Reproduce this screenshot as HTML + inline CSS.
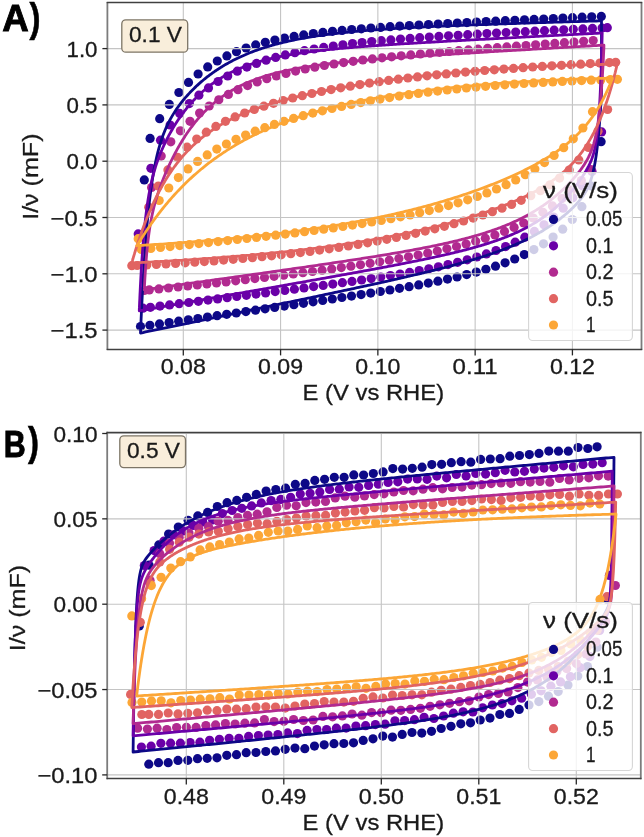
<!DOCTYPE html>
<html><head><meta charset="utf-8"><style>
html,body{margin:0;padding:0;background:#fff;}
svg{display:block;}
#w{will-change:transform;width:644px;height:837px;}
text{font-family:"Liberation Sans", sans-serif;}
.t{stroke:#1a1a1a;stroke-width:0.3;}
</style></head><body><div id="w">
<svg width="644" height="837" viewBox="0 0 644 837">
<rect x="107.4" y="2.6" width="534.1" height="346.79999999999995" fill="#fff"/>
<g fill="#0d0887"><circle cx="150.1" cy="138.4" r="4.6"/><circle cx="159.7" cy="118.7" r="4.6"/><circle cx="169.3" cy="104.4" r="4.6"/><circle cx="178.9" cy="92.5" r="4.6"/><circle cx="188.5" cy="82.4" r="4.6"/><circle cx="198.1" cy="74.0" r="4.6"/><circle cx="207.7" cy="66.9" r="4.6"/><circle cx="217.3" cy="61.0" r="4.6"/><circle cx="226.9" cy="55.9" r="4.6"/><circle cx="236.5" cy="51.7" r="4.6"/><circle cx="246.1" cy="48.0" r="4.6"/><circle cx="255.7" cy="44.9" r="4.6"/><circle cx="265.3" cy="42.3" r="4.6"/><circle cx="274.9" cy="40.0" r="4.6"/><circle cx="284.5" cy="38.1" r="4.6"/><circle cx="294.1" cy="36.4" r="4.6"/><circle cx="303.7" cy="34.9" r="4.6"/><circle cx="313.3" cy="33.5" r="4.6"/><circle cx="322.9" cy="32.4" r="4.6"/><circle cx="332.5" cy="31.3" r="4.6"/><circle cx="342.1" cy="30.4" r="4.6"/><circle cx="351.7" cy="29.5" r="4.6"/><circle cx="361.3" cy="28.8" r="4.6"/><circle cx="370.9" cy="28.0" r="4.6"/><circle cx="380.5" cy="27.4" r="4.6"/><circle cx="390.1" cy="26.7" r="4.6"/><circle cx="399.7" cy="26.1" r="4.6"/><circle cx="409.3" cy="25.6" r="4.6"/><circle cx="418.9" cy="25.0" r="4.6"/><circle cx="428.5" cy="24.5" r="4.6"/><circle cx="438.1" cy="24.0" r="4.6"/><circle cx="447.7" cy="23.5" r="4.6"/><circle cx="457.3" cy="23.0" r="4.6"/><circle cx="466.9" cy="22.6" r="4.6"/><circle cx="476.5" cy="22.1" r="4.6"/><circle cx="486.1" cy="21.6" r="4.6"/><circle cx="495.7" cy="21.2" r="4.6"/><circle cx="505.3" cy="20.7" r="4.6"/><circle cx="514.9" cy="20.3" r="4.6"/><circle cx="524.5" cy="19.8" r="4.6"/><circle cx="534.1" cy="19.4" r="4.6"/><circle cx="543.7" cy="19.0" r="4.6"/><circle cx="553.3" cy="18.5" r="4.6"/><circle cx="562.9" cy="18.1" r="4.6"/><circle cx="572.5" cy="17.7" r="4.6"/><circle cx="582.1" cy="17.2" r="4.6"/><circle cx="591.7" cy="16.8" r="4.6"/><circle cx="601.3" cy="16.4" r="4.6"/><circle cx="144.3" cy="179.9" r="4.6"/></g>
<g fill="#0d0887"><circle cx="601.1" cy="141.7" r="4.6"/><circle cx="591.5" cy="186.0" r="4.6"/><circle cx="581.9" cy="206.7" r="4.6"/><circle cx="572.3" cy="219.5" r="4.6"/><circle cx="562.7" cy="229.2" r="4.6"/><circle cx="553.1" cy="237.1" r="4.6"/><circle cx="543.5" cy="243.8" r="4.6"/><circle cx="533.9" cy="249.6" r="4.6"/><circle cx="524.3" cy="254.6" r="4.6"/><circle cx="514.7" cy="259.0" r="4.6"/><circle cx="505.1" cy="262.8" r="4.6"/><circle cx="495.5" cy="266.2" r="4.6"/><circle cx="485.9" cy="269.3" r="4.6"/><circle cx="476.3" cy="272.1" r="4.6"/><circle cx="466.7" cy="274.6" r="4.6"/><circle cx="457.1" cy="277.0" r="4.6"/><circle cx="447.5" cy="279.1" r="4.6"/><circle cx="437.9" cy="281.2" r="4.6"/><circle cx="428.3" cy="283.1" r="4.6"/><circle cx="418.7" cy="284.9" r="4.6"/><circle cx="409.1" cy="286.7" r="4.6"/><circle cx="399.5" cy="288.3" r="4.6"/><circle cx="389.9" cy="290.0" r="4.6"/><circle cx="380.3" cy="291.5" r="4.6"/><circle cx="370.7" cy="293.1" r="4.6"/><circle cx="361.1" cy="294.6" r="4.6"/><circle cx="351.5" cy="296.1" r="4.6"/><circle cx="341.9" cy="297.5" r="4.6"/><circle cx="332.3" cy="299.0" r="4.6"/><circle cx="322.7" cy="300.4" r="4.6"/><circle cx="313.1" cy="301.8" r="4.6"/><circle cx="303.5" cy="303.3" r="4.6"/><circle cx="293.9" cy="304.7" r="4.6"/><circle cx="284.3" cy="306.1" r="4.6"/><circle cx="274.7" cy="307.4" r="4.6"/><circle cx="265.1" cy="308.8" r="4.6"/><circle cx="255.5" cy="310.2" r="4.6"/><circle cx="245.9" cy="311.6" r="4.6"/><circle cx="236.3" cy="313.0" r="4.6"/><circle cx="226.7" cy="314.3" r="4.6"/><circle cx="217.1" cy="315.7" r="4.6"/><circle cx="207.5" cy="317.1" r="4.6"/><circle cx="197.9" cy="318.5" r="4.6"/><circle cx="188.3" cy="319.8" r="4.6"/><circle cx="178.7" cy="321.2" r="4.6"/><circle cx="169.1" cy="322.6" r="4.6"/><circle cx="159.5" cy="323.9" r="4.6"/><circle cx="149.9" cy="325.3" r="4.6"/><circle cx="140.5" cy="326.6" r="4.6"/></g>
<g fill="#6a00a8"><circle cx="150.9" cy="168.3" r="4.6"/><circle cx="160.5" cy="140.2" r="4.6"/><circle cx="170.1" cy="125.0" r="4.6"/><circle cx="179.7" cy="113.4" r="4.6"/><circle cx="189.3" cy="103.6" r="4.6"/><circle cx="198.9" cy="95.2" r="4.6"/><circle cx="208.5" cy="87.9" r="4.6"/><circle cx="218.1" cy="81.5" r="4.6"/><circle cx="227.7" cy="76.0" r="4.6"/><circle cx="237.3" cy="71.2" r="4.6"/><circle cx="246.9" cy="67.1" r="4.6"/><circle cx="256.5" cy="63.4" r="4.6"/><circle cx="266.1" cy="60.2" r="4.6"/><circle cx="275.7" cy="57.4" r="4.6"/><circle cx="285.3" cy="54.9" r="4.6"/><circle cx="294.9" cy="52.7" r="4.6"/><circle cx="304.5" cy="50.7" r="4.6"/><circle cx="314.1" cy="49.0" r="4.6"/><circle cx="323.7" cy="47.4" r="4.6"/><circle cx="333.3" cy="46.0" r="4.6"/><circle cx="342.9" cy="44.8" r="4.6"/><circle cx="352.5" cy="43.6" r="4.6"/><circle cx="362.1" cy="42.6" r="4.6"/><circle cx="371.7" cy="41.6" r="4.6"/><circle cx="381.3" cy="40.7" r="4.6"/><circle cx="390.9" cy="39.9" r="4.6"/><circle cx="400.5" cy="39.1" r="4.6"/><circle cx="410.1" cy="38.4" r="4.6"/><circle cx="419.7" cy="37.7" r="4.6"/><circle cx="429.3" cy="37.0" r="4.6"/><circle cx="438.9" cy="36.4" r="4.6"/><circle cx="448.5" cy="35.8" r="4.6"/><circle cx="458.1" cy="35.3" r="4.6"/><circle cx="467.7" cy="34.7" r="4.6"/><circle cx="477.3" cy="34.2" r="4.6"/><circle cx="486.9" cy="33.6" r="4.6"/><circle cx="496.5" cy="33.1" r="4.6"/><circle cx="506.1" cy="32.6" r="4.6"/><circle cx="515.7" cy="32.1" r="4.6"/><circle cx="525.3" cy="31.7" r="4.6"/><circle cx="534.9" cy="31.2" r="4.6"/><circle cx="544.5" cy="30.7" r="4.6"/><circle cx="554.1" cy="30.2" r="4.6"/><circle cx="563.7" cy="29.8" r="4.6"/><circle cx="573.3" cy="29.3" r="4.6"/><circle cx="582.9" cy="28.9" r="4.6"/><circle cx="592.5" cy="28.4" r="4.6"/><circle cx="602.1" cy="28.0" r="4.6"/><circle cx="607.3" cy="27.7" r="4.6"/><circle cx="138.2" cy="233.9" r="4.6"/></g>
<g fill="#6a00a8"><circle cx="601.6" cy="131.9" r="4.6"/><circle cx="592.0" cy="171.4" r="4.6"/><circle cx="582.4" cy="185.7" r="4.6"/><circle cx="572.8" cy="197.8" r="4.6"/><circle cx="563.2" cy="208.2" r="4.6"/><circle cx="553.6" cy="217.1" r="4.6"/><circle cx="544.0" cy="224.8" r="4.6"/><circle cx="534.4" cy="231.4" r="4.6"/><circle cx="524.8" cy="237.2" r="4.6"/><circle cx="515.2" cy="242.2" r="4.6"/><circle cx="505.6" cy="246.6" r="4.6"/><circle cx="496.0" cy="250.5" r="4.6"/><circle cx="486.4" cy="253.9" r="4.6"/><circle cx="476.8" cy="257.0" r="4.6"/><circle cx="467.2" cy="259.8" r="4.6"/><circle cx="457.6" cy="262.3" r="4.6"/><circle cx="448.0" cy="264.6" r="4.6"/><circle cx="438.4" cy="266.8" r="4.6"/><circle cx="428.8" cy="268.8" r="4.6"/><circle cx="419.2" cy="270.6" r="4.6"/><circle cx="409.6" cy="272.4" r="4.6"/><circle cx="400.0" cy="274.0" r="4.6"/><circle cx="390.4" cy="275.6" r="4.6"/><circle cx="380.8" cy="277.1" r="4.6"/><circle cx="371.2" cy="278.6" r="4.6"/><circle cx="361.6" cy="280.0" r="4.6"/><circle cx="352.0" cy="281.4" r="4.6"/><circle cx="342.4" cy="282.7" r="4.6"/><circle cx="332.8" cy="284.1" r="4.6"/><circle cx="323.2" cy="285.4" r="4.6"/><circle cx="313.6" cy="286.6" r="4.6"/><circle cx="304.0" cy="287.9" r="4.6"/><circle cx="294.4" cy="289.2" r="4.6"/><circle cx="284.8" cy="290.4" r="4.6"/><circle cx="275.2" cy="291.6" r="4.6"/><circle cx="265.6" cy="292.9" r="4.6"/><circle cx="256.0" cy="294.1" r="4.6"/><circle cx="246.4" cy="295.3" r="4.6"/><circle cx="236.8" cy="296.5" r="4.6"/><circle cx="227.2" cy="297.7" r="4.6"/><circle cx="217.6" cy="298.9" r="4.6"/><circle cx="208.0" cy="300.1" r="4.6"/><circle cx="198.4" cy="301.3" r="4.6"/><circle cx="188.8" cy="302.5" r="4.6"/><circle cx="179.2" cy="303.7" r="4.6"/><circle cx="169.6" cy="304.9" r="4.6"/><circle cx="160.0" cy="306.1" r="4.6"/><circle cx="150.4" cy="307.3" r="4.6"/><circle cx="143.0" cy="308.2" r="4.6"/></g>
<g fill="#b12a90"><circle cx="151.6" cy="187.5" r="4.6"/><circle cx="161.2" cy="156.1" r="4.6"/><circle cx="170.8" cy="141.8" r="4.6"/><circle cx="180.4" cy="130.8" r="4.6"/><circle cx="190.0" cy="121.3" r="4.6"/><circle cx="199.6" cy="113.1" r="4.6"/><circle cx="209.2" cy="106.0" r="4.6"/><circle cx="218.8" cy="99.8" r="4.6"/><circle cx="228.4" cy="94.4" r="4.6"/><circle cx="238.0" cy="89.7" r="4.6"/><circle cx="247.6" cy="85.6" r="4.6"/><circle cx="257.2" cy="81.9" r="4.6"/><circle cx="266.8" cy="78.7" r="4.6"/><circle cx="276.4" cy="75.9" r="4.6"/><circle cx="286.0" cy="73.4" r="4.6"/><circle cx="295.6" cy="71.1" r="4.6"/><circle cx="305.2" cy="69.0" r="4.6"/><circle cx="314.8" cy="67.2" r="4.6"/><circle cx="324.4" cy="65.5" r="4.6"/><circle cx="334.0" cy="64.0" r="4.6"/><circle cx="343.6" cy="62.6" r="4.6"/><circle cx="353.2" cy="61.3" r="4.6"/><circle cx="362.8" cy="60.0" r="4.6"/><circle cx="372.4" cy="58.9" r="4.6"/><circle cx="382.0" cy="57.8" r="4.6"/><circle cx="391.6" cy="56.8" r="4.6"/><circle cx="401.2" cy="55.8" r="4.6"/><circle cx="410.8" cy="54.9" r="4.6"/><circle cx="420.4" cy="54.0" r="4.6"/><circle cx="430.0" cy="53.2" r="4.6"/><circle cx="439.6" cy="52.3" r="4.6"/><circle cx="449.2" cy="51.5" r="4.6"/><circle cx="458.8" cy="50.7" r="4.6"/><circle cx="468.4" cy="49.9" r="4.6"/><circle cx="478.0" cy="49.2" r="4.6"/><circle cx="487.6" cy="48.4" r="4.6"/><circle cx="497.2" cy="47.7" r="4.6"/><circle cx="506.8" cy="46.9" r="4.6"/><circle cx="516.4" cy="46.2" r="4.6"/><circle cx="526.0" cy="45.5" r="4.6"/><circle cx="535.6" cy="44.8" r="4.6"/><circle cx="545.2" cy="44.1" r="4.6"/><circle cx="554.8" cy="43.4" r="4.6"/><circle cx="564.4" cy="42.7" r="4.6"/><circle cx="574.0" cy="42.0" r="4.6"/><circle cx="583.6" cy="41.3" r="4.6"/><circle cx="593.2" cy="40.6" r="4.6"/></g>
<g fill="#b12a90"><circle cx="590.9" cy="169.5" r="4.6"/><circle cx="581.3" cy="180.6" r="4.6"/><circle cx="571.7" cy="190.2" r="4.6"/><circle cx="562.1" cy="198.6" r="4.6"/><circle cx="552.5" cy="205.9" r="4.6"/><circle cx="542.9" cy="212.3" r="4.6"/><circle cx="533.3" cy="218.0" r="4.6"/><circle cx="523.7" cy="223.0" r="4.6"/><circle cx="514.1" cy="227.4" r="4.6"/><circle cx="504.5" cy="231.4" r="4.6"/><circle cx="494.9" cy="235.0" r="4.6"/><circle cx="485.3" cy="238.3" r="4.6"/><circle cx="475.7" cy="241.3" r="4.6"/><circle cx="466.1" cy="244.0" r="4.6"/><circle cx="456.5" cy="246.5" r="4.6"/><circle cx="446.9" cy="248.8" r="4.6"/><circle cx="437.3" cy="251.0" r="4.6"/><circle cx="427.7" cy="253.1" r="4.6"/><circle cx="418.1" cy="255.0" r="4.6"/><circle cx="408.5" cy="256.8" r="4.6"/><circle cx="398.9" cy="258.5" r="4.6"/><circle cx="389.3" cy="260.2" r="4.6"/><circle cx="379.7" cy="261.8" r="4.6"/><circle cx="370.1" cy="263.3" r="4.6"/><circle cx="360.5" cy="264.8" r="4.6"/><circle cx="350.9" cy="266.2" r="4.6"/><circle cx="341.3" cy="267.6" r="4.6"/><circle cx="331.7" cy="268.9" r="4.6"/><circle cx="322.1" cy="270.2" r="4.6"/><circle cx="312.5" cy="271.5" r="4.6"/><circle cx="302.9" cy="272.7" r="4.6"/><circle cx="293.3" cy="274.0" r="4.6"/><circle cx="283.7" cy="275.2" r="4.6"/><circle cx="274.1" cy="276.3" r="4.6"/><circle cx="264.5" cy="277.5" r="4.6"/><circle cx="254.9" cy="278.6" r="4.6"/><circle cx="245.3" cy="279.7" r="4.6"/><circle cx="235.7" cy="280.8" r="4.6"/><circle cx="226.1" cy="281.9" r="4.6"/><circle cx="216.5" cy="282.9" r="4.6"/><circle cx="206.9" cy="284.0" r="4.6"/><circle cx="197.3" cy="285.0" r="4.6"/><circle cx="187.7" cy="286.0" r="4.6"/><circle cx="178.1" cy="287.0" r="4.6"/><circle cx="168.5" cy="288.0" r="4.6"/><circle cx="158.9" cy="288.9" r="4.6"/><circle cx="149.3" cy="289.9" r="4.6"/><circle cx="144.3" cy="290.4" r="4.6"/></g>
<g fill="#e16462"><circle cx="148.7" cy="207.2" r="4.6"/><circle cx="158.3" cy="186.1" r="4.6"/><circle cx="167.9" cy="169.9" r="4.6"/><circle cx="177.5" cy="157.3" r="4.6"/><circle cx="187.1" cy="147.2" r="4.6"/><circle cx="196.7" cy="139.0" r="4.6"/><circle cx="206.3" cy="132.2" r="4.6"/><circle cx="215.9" cy="126.4" r="4.6"/><circle cx="225.5" cy="121.3" r="4.6"/><circle cx="235.1" cy="116.9" r="4.6"/><circle cx="244.7" cy="113.0" r="4.6"/><circle cx="254.3" cy="109.4" r="4.6"/><circle cx="263.9" cy="106.2" r="4.6"/><circle cx="273.5" cy="103.3" r="4.6"/><circle cx="283.1" cy="100.5" r="4.6"/><circle cx="292.7" cy="98.0" r="4.6"/><circle cx="302.3" cy="95.7" r="4.6"/><circle cx="311.9" cy="93.5" r="4.6"/><circle cx="321.5" cy="91.5" r="4.6"/><circle cx="331.1" cy="89.6" r="4.6"/><circle cx="340.7" cy="87.8" r="4.6"/><circle cx="350.3" cy="86.2" r="4.6"/><circle cx="359.9" cy="84.6" r="4.6"/><circle cx="369.5" cy="83.1" r="4.6"/><circle cx="379.1" cy="81.7" r="4.6"/><circle cx="388.7" cy="80.4" r="4.6"/><circle cx="398.3" cy="79.2" r="4.6"/><circle cx="407.9" cy="78.0" r="4.6"/><circle cx="417.5" cy="76.9" r="4.6"/><circle cx="427.1" cy="75.8" r="4.6"/><circle cx="436.7" cy="74.8" r="4.6"/><circle cx="446.3" cy="73.9" r="4.6"/><circle cx="455.9" cy="73.0" r="4.6"/><circle cx="465.5" cy="72.1" r="4.6"/><circle cx="475.1" cy="71.3" r="4.6"/><circle cx="484.7" cy="70.5" r="4.6"/><circle cx="494.3" cy="69.8" r="4.6"/><circle cx="503.9" cy="69.1" r="4.6"/><circle cx="513.5" cy="68.4" r="4.6"/><circle cx="523.1" cy="67.7" r="4.6"/><circle cx="532.7" cy="67.0" r="4.6"/><circle cx="542.3" cy="66.4" r="4.6"/><circle cx="551.9" cy="65.8" r="4.6"/><circle cx="561.5" cy="65.3" r="4.6"/><circle cx="571.1" cy="64.7" r="4.6"/><circle cx="580.7" cy="64.2" r="4.6"/><circle cx="590.3" cy="63.6" r="4.6"/><circle cx="599.9" cy="63.1" r="4.6"/><circle cx="609.5" cy="62.6" r="4.6"/><circle cx="615.7" cy="62.3" r="4.6"/></g>
<g fill="#e16462"><circle cx="607.6" cy="109.5" r="4.6"/><circle cx="598.0" cy="131.2" r="4.6"/><circle cx="588.4" cy="147.5" r="4.6"/><circle cx="578.8" cy="160.0" r="4.6"/><circle cx="569.2" cy="170.0" r="4.6"/><circle cx="559.6" cy="178.1" r="4.6"/><circle cx="550.0" cy="184.8" r="4.6"/><circle cx="540.4" cy="190.7" r="4.6"/><circle cx="530.8" cy="195.7" r="4.6"/><circle cx="521.2" cy="200.3" r="4.6"/><circle cx="511.6" cy="204.4" r="4.6"/><circle cx="502.0" cy="208.2" r="4.6"/><circle cx="492.4" cy="211.7" r="4.6"/><circle cx="482.8" cy="215.0" r="4.6"/><circle cx="473.2" cy="218.1" r="4.6"/><circle cx="463.6" cy="221.0" r="4.6"/><circle cx="454.0" cy="223.7" r="4.6"/><circle cx="444.4" cy="226.3" r="4.6"/><circle cx="434.8" cy="228.8" r="4.6"/><circle cx="425.2" cy="231.1" r="4.6"/><circle cx="415.6" cy="233.3" r="4.6"/><circle cx="406.0" cy="235.4" r="4.6"/><circle cx="396.4" cy="237.4" r="4.6"/><circle cx="386.8" cy="239.3" r="4.6"/><circle cx="377.2" cy="241.1" r="4.6"/><circle cx="367.6" cy="242.8" r="4.6"/><circle cx="358.0" cy="244.4" r="4.6"/><circle cx="348.4" cy="246.0" r="4.6"/><circle cx="338.8" cy="247.4" r="4.6"/><circle cx="329.2" cy="248.8" r="4.6"/><circle cx="319.6" cy="250.1" r="4.6"/><circle cx="310.0" cy="251.4" r="4.6"/><circle cx="300.4" cy="252.6" r="4.6"/><circle cx="290.8" cy="253.7" r="4.6"/><circle cx="281.2" cy="254.8" r="4.6"/><circle cx="271.6" cy="255.8" r="4.6"/><circle cx="262.0" cy="256.7" r="4.6"/><circle cx="252.4" cy="257.7" r="4.6"/><circle cx="242.8" cy="258.5" r="4.6"/><circle cx="233.2" cy="259.3" r="4.6"/><circle cx="223.6" cy="260.1" r="4.6"/><circle cx="214.0" cy="260.9" r="4.6"/><circle cx="204.4" cy="261.6" r="4.6"/><circle cx="194.8" cy="262.2" r="4.6"/><circle cx="185.2" cy="262.8" r="4.6"/><circle cx="175.6" cy="263.4" r="4.6"/><circle cx="166.0" cy="264.0" r="4.6"/><circle cx="156.4" cy="264.5" r="4.6"/><circle cx="146.8" cy="265.0" r="4.6"/><circle cx="137.2" cy="265.5" r="4.6"/><circle cx="131.8" cy="265.7" r="4.6"/></g>
<g fill="#fca636"><circle cx="159.2" cy="200.5" r="4.6"/><circle cx="168.8" cy="188.0" r="4.6"/><circle cx="178.4" cy="177.6" r="4.6"/><circle cx="188.0" cy="168.9" r="4.6"/><circle cx="197.6" cy="161.4" r="4.6"/><circle cx="207.2" cy="154.9" r="4.6"/><circle cx="216.8" cy="149.1" r="4.6"/><circle cx="226.4" cy="144.0" r="4.6"/><circle cx="236.0" cy="139.3" r="4.6"/><circle cx="245.6" cy="135.1" r="4.6"/><circle cx="255.2" cy="131.2" r="4.6"/><circle cx="264.8" cy="127.7" r="4.6"/><circle cx="274.4" cy="124.4" r="4.6"/><circle cx="284.0" cy="121.3" r="4.6"/><circle cx="293.6" cy="118.4" r="4.6"/><circle cx="303.2" cy="115.7" r="4.6"/><circle cx="312.8" cy="113.1" r="4.6"/><circle cx="322.4" cy="110.8" r="4.6"/><circle cx="332.0" cy="108.5" r="4.6"/><circle cx="341.6" cy="106.4" r="4.6"/><circle cx="351.2" cy="104.4" r="4.6"/><circle cx="360.8" cy="102.6" r="4.6"/><circle cx="370.4" cy="100.8" r="4.6"/><circle cx="380.0" cy="99.1" r="4.6"/><circle cx="389.6" cy="97.6" r="4.6"/><circle cx="399.2" cy="96.1" r="4.6"/><circle cx="408.8" cy="94.7" r="4.6"/><circle cx="418.4" cy="93.4" r="4.6"/><circle cx="428.0" cy="92.2" r="4.6"/><circle cx="437.6" cy="91.1" r="4.6"/><circle cx="447.2" cy="90.0" r="4.6"/><circle cx="456.8" cy="89.0" r="4.6"/><circle cx="466.4" cy="88.0" r="4.6"/><circle cx="476.0" cy="87.1" r="4.6"/><circle cx="485.6" cy="86.3" r="4.6"/><circle cx="495.2" cy="85.5" r="4.6"/><circle cx="504.8" cy="84.8" r="4.6"/><circle cx="514.4" cy="84.1" r="4.6"/><circle cx="524.0" cy="83.5" r="4.6"/><circle cx="533.6" cy="82.9" r="4.6"/><circle cx="543.2" cy="82.4" r="4.6"/><circle cx="552.8" cy="81.9" r="4.6"/><circle cx="562.4" cy="81.4" r="4.6"/><circle cx="572.0" cy="81.0" r="4.6"/><circle cx="581.6" cy="80.6" r="4.6"/><circle cx="591.2" cy="80.2" r="4.6"/><circle cx="600.8" cy="79.9" r="4.6"/><circle cx="610.4" cy="79.5" r="4.6"/><circle cx="617.4" cy="79.3" r="4.6"/><circle cx="138.2" cy="238.7" r="4.6"/></g>
<g fill="#fca636"><circle cx="592.5" cy="111.7" r="4.6"/><circle cx="582.9" cy="128.0" r="4.6"/><circle cx="573.3" cy="138.8" r="4.6"/><circle cx="563.7" cy="147.7" r="4.6"/><circle cx="554.1" cy="155.5" r="4.6"/><circle cx="544.5" cy="162.6" r="4.6"/><circle cx="534.9" cy="169.0" r="4.6"/><circle cx="525.3" cy="174.7" r="4.6"/><circle cx="515.7" cy="179.9" r="4.6"/><circle cx="506.1" cy="184.7" r="4.6"/><circle cx="496.5" cy="189.0" r="4.6"/><circle cx="486.9" cy="192.9" r="4.6"/><circle cx="477.3" cy="196.5" r="4.6"/><circle cx="467.7" cy="199.8" r="4.6"/><circle cx="458.1" cy="202.8" r="4.6"/><circle cx="448.5" cy="205.6" r="4.6"/><circle cx="438.9" cy="208.2" r="4.6"/><circle cx="429.3" cy="210.6" r="4.6"/><circle cx="419.7" cy="212.8" r="4.6"/><circle cx="410.1" cy="214.9" r="4.6"/><circle cx="400.5" cy="216.8" r="4.6"/><circle cx="390.9" cy="218.7" r="4.6"/><circle cx="381.3" cy="220.4" r="4.6"/><circle cx="371.7" cy="222.0" r="4.6"/><circle cx="362.1" cy="223.6" r="4.6"/><circle cx="352.5" cy="225.1" r="4.6"/><circle cx="342.9" cy="226.5" r="4.6"/><circle cx="333.3" cy="227.9" r="4.6"/><circle cx="323.7" cy="229.2" r="4.6"/><circle cx="314.1" cy="230.5" r="4.6"/><circle cx="304.5" cy="231.7" r="4.6"/><circle cx="294.9" cy="232.9" r="4.6"/><circle cx="285.3" cy="234.1" r="4.6"/><circle cx="275.7" cy="235.2" r="4.6"/><circle cx="266.1" cy="236.3" r="4.6"/><circle cx="256.5" cy="237.4" r="4.6"/><circle cx="246.9" cy="238.5" r="4.6"/><circle cx="237.3" cy="239.5" r="4.6"/><circle cx="227.7" cy="240.6" r="4.6"/><circle cx="218.1" cy="241.6" r="4.6"/><circle cx="208.5" cy="242.6" r="4.6"/><circle cx="198.9" cy="243.6" r="4.6"/><circle cx="189.3" cy="244.6" r="4.6"/><circle cx="179.7" cy="245.6" r="4.6"/><circle cx="170.1" cy="246.6" r="4.6"/><circle cx="160.5" cy="247.5" r="4.6"/><circle cx="150.9" cy="248.5" r="4.6"/><circle cx="141.3" cy="249.5" r="4.6"/></g>
<line x1="183.30" y1="2.6" x2="183.30" y2="349.4" stroke="#c4c4c4" stroke-width="1.1"/>
<line x1="280.58" y1="2.6" x2="280.58" y2="349.4" stroke="#c4c4c4" stroke-width="1.1"/>
<line x1="377.86" y1="2.6" x2="377.86" y2="349.4" stroke="#c4c4c4" stroke-width="1.1"/>
<line x1="475.14" y1="2.6" x2="475.14" y2="349.4" stroke="#c4c4c4" stroke-width="1.1"/>
<line x1="572.42" y1="2.6" x2="572.42" y2="349.4" stroke="#c4c4c4" stroke-width="1.1"/>
<line x1="107.4" y1="48.60" x2="641.5" y2="48.60" stroke="#c4c4c4" stroke-width="1.1"/>
<line x1="107.4" y1="104.90" x2="641.5" y2="104.90" stroke="#c4c4c4" stroke-width="1.1"/>
<line x1="107.4" y1="161.20" x2="641.5" y2="161.20" stroke="#c4c4c4" stroke-width="1.1"/>
<line x1="107.4" y1="217.50" x2="641.5" y2="217.50" stroke="#c4c4c4" stroke-width="1.1"/>
<line x1="107.4" y1="273.80" x2="641.5" y2="273.80" stroke="#c4c4c4" stroke-width="1.1"/>
<line x1="107.4" y1="330.10" x2="641.5" y2="330.10" stroke="#c4c4c4" stroke-width="1.1"/>
<path d="M140.50,332.89 L140.50,332.86 L140.50,332.79 L140.51,332.65 L140.52,332.45 L140.53,332.17 L140.55,331.82 L140.56,331.40 L140.58,330.89 L140.61,330.30 L140.64,329.64 L140.67,328.89 L140.71,328.05 L140.75,327.14 L140.79,326.14 L140.84,325.05 L140.89,323.89 L140.95,322.64 L141.00,321.30 L141.07,319.89 L141.14,318.39 L141.21,316.82 L141.29,315.17 L141.37,313.44 L141.45,311.64 L141.54,309.76 L141.63,307.82 L141.73,305.80 L141.83,303.72 L141.94,301.57 L142.05,299.36 L142.17,297.10 L142.29,294.77 L142.42,292.39 L142.55,289.96 L142.68,287.49 L142.82,284.96 L142.96,282.39 L143.11,279.79 L143.27,277.15 L143.42,274.47 L143.59,271.76 L143.76,269.03 L143.93,266.27 L144.11,263.49 L144.29,260.69 L144.48,257.88 L144.67,255.05 L144.87,252.22 L145.07,249.38 L145.28,246.53 L145.49,243.69 L145.71,240.85 L145.93,238.01 L146.16,235.18 L146.39,232.36 L146.63,229.55 L146.88,226.76 L147.12,223.98 L147.38,221.22 L147.64,218.48 L147.90,215.77 L148.17,213.08 L148.45,210.42 L148.73,207.79 L149.01,205.18 L149.30,202.61 L149.60,200.07 L149.90,197.56 L150.21,195.09 L150.52,192.65 L150.84,190.25 L151.16,187.88 L151.49,185.56 L151.82,183.27 L152.16,181.02 L152.50,178.81 L152.85,176.63 L153.21,174.50 L153.57,172.41 L153.94,170.35 L154.31,168.34 L154.69,166.36 L155.07,164.43 L155.46,162.53 L155.86,160.67 L156.26,158.85 L156.66,157.06 L157.07,155.31 L157.49,153.60 L157.91,151.92 L158.34,150.28 L158.78,148.67 L159.22,147.10 L159.66,145.55 L160.11,144.04 L160.57,142.56 L161.03,141.11 L161.50,139.69 L161.98,138.30 L162.46,136.93 L162.94,135.59 L163.43,134.28 L163.93,132.99 L164.44,131.73 L164.94,130.48 L165.46,129.27 L165.98,128.07 L166.51,126.89 L167.04,125.73 L167.58,124.60 L168.12,123.48 L168.67,122.37 L169.23,121.29 L169.79,120.22 L170.36,119.17 L170.93,118.13 L171.51,117.10 L172.10,116.09 L172.69,115.09 L173.29,114.11 L173.90,113.13 L174.51,112.17 L175.12,111.22 L175.74,110.28 L176.37,109.34 L177.01,108.42 L177.65,107.51 L178.29,106.60 L178.95,105.71 L179.61,104.82 L180.27,103.94 L180.94,103.06 L181.62,102.20 L182.30,101.34 L182.99,100.48 L183.69,99.64 L184.39,98.80 L185.10,97.96 L185.81,97.14 L186.53,96.31 L187.26,95.50 L187.99,94.69 L188.73,93.88 L189.47,93.08 L190.22,92.28 L190.98,91.49 L191.75,90.71 L192.52,89.93 L193.29,89.15 L194.07,88.38 L194.86,87.62 L195.66,86.86 L196.46,86.10 L197.27,85.35 L198.08,84.60 L198.90,83.86 L199.73,83.13 L200.56,82.40 L201.40,81.67 L202.25,80.95 L203.10,80.23 L203.96,79.52 L204.82,78.81 L205.70,78.11 L206.57,77.42 L207.46,76.72 L208.35,76.04 L209.24,75.36 L210.15,74.68 L211.06,74.01 L211.97,73.34 L212.90,72.68 L213.83,72.03 L214.76,71.38 L215.70,70.73 L216.65,70.09 L217.61,69.46 L218.57,68.83 L219.54,68.21 L220.51,67.59 L221.49,66.98 L222.48,66.37 L223.48,65.77 L224.48,65.17 L225.48,64.58 L226.50,64.00 L227.52,63.42 L228.55,62.85 L229.58,62.28 L230.62,61.72 L231.67,61.16 L232.72,60.61 L233.78,60.06 L234.85,59.52 L235.92,58.99 L237.00,58.46 L238.09,57.94 L239.18,57.42 L240.28,56.91 L241.38,56.41 L242.50,55.91 L243.62,55.41 L244.74,54.92 L245.88,54.44 L247.02,53.96 L248.16,53.49 L249.32,53.03 L250.48,52.57 L251.64,52.11 L252.82,51.66 L254.00,51.22 L255.18,50.78 L256.38,50.35 L257.58,49.92 L258.78,49.50 L260.00,49.08 L261.22,48.67 L262.45,48.26 L263.68,47.86 L264.92,47.47 L266.17,47.08 L267.42,46.69 L268.68,46.31 L269.95,45.94 L271.23,45.57 L272.51,45.20 L273.80,44.84 L275.09,44.49 L276.39,44.14 L277.70,43.80 L279.02,43.46 L280.34,43.12 L281.67,42.79 L283.01,42.47 L284.35,42.15 L285.70,41.83 L287.06,41.52 L288.42,41.21 L289.79,40.91 L291.17,40.61 L292.55,40.32 L293.95,40.03 L295.34,39.74 L296.75,39.46 L298.16,39.19 L299.58,38.91 L301.01,38.65 L302.44,38.38 L303.88,38.12 L305.33,37.87 L306.78,37.61 L308.24,37.36 L309.71,37.12 L311.18,36.88 L312.67,36.64 L314.16,36.41 L315.65,36.18 L317.15,35.95 L318.66,35.73 L320.18,35.51 L321.70,35.30 L323.24,35.08 L324.77,34.87 L326.32,34.67 L327.87,34.47 L329.43,34.27 L331.00,34.07 L332.57,33.88 L334.15,33.69 L335.74,33.50 L337.33,33.31 L338.93,33.13 L340.54,32.95 L342.16,32.78 L343.78,32.61 L345.41,32.43 L347.05,32.27 L348.69,32.10 L350.34,31.94 L352.00,31.78 L353.66,31.62 L355.34,31.46 L357.02,31.31 L358.70,31.16 L360.40,31.01 L362.10,30.87 L363.81,30.72 L365.52,30.58 L367.24,30.44 L368.97,30.30 L370.71,30.16 L372.45,30.03 L374.21,29.90 L375.96,29.77 L377.73,29.64 L379.50,29.51 L381.28,29.39 L383.07,29.26 L384.86,29.14 L386.67,29.02 L388.47,28.90 L390.29,28.79 L392.11,28.67 L393.94,28.56 L395.78,28.45 L397.63,28.33 L399.48,28.23 L401.34,28.12 L403.21,28.01 L405.08,27.90 L406.96,27.80 L408.85,27.70 L410.75,27.59 L412.65,27.49 L414.56,27.39 L416.48,27.30 L418.40,27.20 L420.33,27.10 L422.27,27.01 L424.22,26.91 L426.17,26.82 L428.14,26.72 L430.11,26.63 L432.08,26.54 L434.06,26.45 L436.06,26.36 L438.05,26.27 L440.06,26.19 L442.07,26.10 L444.09,26.01 L446.12,25.93 L448.16,25.84 L450.20,25.76 L452.25,25.67 L454.30,25.59 L456.37,25.51 L458.44,25.43 L460.52,25.35 L462.61,25.26 L464.70,25.18 L466.80,25.10 L468.91,25.02 L471.03,24.95 L473.15,24.87 L475.28,24.79 L477.42,24.71 L479.57,24.63 L481.72,24.56 L483.88,24.48 L486.05,24.40 L488.23,24.33 L490.41,24.25 L492.60,24.18 L494.80,24.10 L497.00,24.03 L499.22,23.95 L501.44,23.88 L503.66,23.80 L505.90,23.73 L508.14,23.66 L510.39,23.58 L512.65,23.51 L514.92,23.44 L517.19,23.36 L519.47,23.29 L521.76,23.22 L524.05,23.15 L526.36,23.07 L528.67,23.00 L530.98,22.93 L533.31,22.86 L535.64,22.78 L537.98,22.71 L540.33,22.64 L542.69,22.57 L545.05,22.49 L547.42,22.42 L549.80,22.35 L552.19,22.28 L554.58,22.21 L556.98,22.13 L559.39,22.06 L561.81,21.99 L564.23,21.92 L566.66,21.85 L569.10,21.77 L571.55,21.70 L574.00,21.63 L576.46,21.56 L578.93,21.49 L581.41,21.41 L583.89,21.34 L586.39,21.27 L588.89,21.20 L591.39,21.12 L593.91,21.05 L596.43,20.98 L598.96,20.91 L601.50,20.83 L601.50,21.90 L601.60,90.32 L601.60,90.34 L601.60,90.40 L601.59,90.51 L601.58,90.68 L601.57,90.90 L601.55,91.19 L601.54,91.54 L601.52,91.95 L601.49,92.43 L601.46,92.98 L601.43,93.59 L601.39,94.26 L601.35,95.00 L601.31,95.81 L601.26,96.68 L601.21,97.61 L601.15,98.60 L601.10,99.66 L601.03,100.77 L600.96,101.94 L600.89,103.17 L600.81,104.45 L600.73,105.78 L600.65,107.16 L600.56,108.58 L600.47,110.05 L600.37,111.56 L600.27,113.10 L600.16,114.69 L600.05,116.30 L599.93,117.94 L599.81,119.61 L599.68,121.30 L599.55,123.00 L599.42,124.73 L599.28,126.47 L599.14,128.22 L598.99,129.98 L598.83,131.74 L598.67,133.50 L598.51,135.26 L598.34,137.02 L598.17,138.78 L597.99,140.52 L597.81,142.25 L597.62,143.97 L597.43,145.67 L597.23,147.36 L597.03,149.03 L596.82,150.67 L596.61,152.29 L596.39,153.89 L596.17,155.46 L595.94,157.01 L595.71,158.53 L595.47,160.02 L595.22,161.48 L594.97,162.91 L594.72,164.31 L594.46,165.68 L594.20,167.01 L593.93,168.32 L593.65,169.60 L593.37,170.84 L593.09,172.05 L592.80,173.24 L592.50,174.39 L592.20,175.51 L591.89,176.60 L591.58,177.67 L591.26,178.71 L590.94,179.72 L590.61,180.70 L590.28,181.65 L589.94,182.59 L589.59,183.49 L589.24,184.38 L588.89,185.24 L588.53,186.08 L588.16,186.90 L587.79,187.71 L587.41,188.49 L587.02,189.25 L586.64,190.00 L586.24,190.74 L585.84,191.45 L585.43,192.16 L585.02,192.85 L584.61,193.53 L584.18,194.20 L583.75,194.85 L583.32,195.50 L582.88,196.13 L582.43,196.76 L581.98,197.38 L581.53,198.00 L581.06,198.60 L580.59,199.20 L580.12,199.80 L579.64,200.38 L579.15,200.97 L578.66,201.55 L578.16,202.12 L577.66,202.69 L577.15,203.26 L576.64,203.83 L576.11,204.39 L575.59,204.95 L575.05,205.51 L574.52,206.06 L573.97,206.62 L573.42,207.17 L572.86,207.72 L572.30,208.27 L571.73,208.82 L571.16,209.36 L570.58,209.91 L569.99,210.46 L569.40,211.00 L568.80,211.54 L568.20,212.08 L567.59,212.63 L566.97,213.17 L566.35,213.71 L565.72,214.25 L565.09,214.78 L564.44,215.32 L563.80,215.86 L563.15,216.39 L562.49,216.93 L561.82,217.46 L561.15,218.00 L560.47,218.53 L559.79,219.06 L559.10,219.59 L558.40,220.12 L557.70,220.65 L556.99,221.18 L556.28,221.70 L555.56,222.23 L554.83,222.75 L554.10,223.27 L553.36,223.79 L552.62,224.31 L551.86,224.83 L551.11,225.35 L550.34,225.86 L549.57,226.38 L548.80,226.89 L548.01,227.40 L547.22,227.91 L546.43,228.42 L545.63,228.92 L544.82,229.43 L544.01,229.93 L543.18,230.43 L542.36,230.93 L541.52,231.43 L540.68,231.92 L539.84,232.41 L538.99,232.91 L538.13,233.39 L537.26,233.88 L536.39,234.37 L535.51,234.85 L534.63,235.33 L533.74,235.81 L532.84,236.29 L531.94,236.76 L531.03,237.24 L530.11,237.71 L529.19,238.18 L528.26,238.64 L527.32,239.11 L526.38,239.57 L525.43,240.03 L524.47,240.49 L523.51,240.95 L522.54,241.40 L521.57,241.86 L520.59,242.31 L519.60,242.76 L518.61,243.20 L517.60,243.65 L516.60,244.09 L515.58,244.53 L514.56,244.97 L513.54,245.40 L512.50,245.84 L511.46,246.27 L510.41,246.70 L509.36,247.13 L508.30,247.56 L507.23,247.98 L506.16,248.40 L505.08,248.82 L503.99,249.24 L502.90,249.66 L501.80,250.08 L500.69,250.49 L499.58,250.90 L498.46,251.31 L497.33,251.72 L496.20,252.13 L495.06,252.53 L493.91,252.94 L492.76,253.34 L491.60,253.74 L490.43,254.14 L489.26,254.53 L488.08,254.93 L486.89,255.32 L485.70,255.72 L484.50,256.11 L483.29,256.50 L482.08,256.89 L480.86,257.28 L479.63,257.66 L478.39,258.05 L477.15,258.43 L475.91,258.81 L474.65,259.20 L473.39,259.58 L472.12,259.96 L470.85,260.33 L469.56,260.71 L468.27,261.09 L466.98,261.46 L465.68,261.84 L464.37,262.21 L463.05,262.58 L461.73,262.96 L460.40,263.33 L459.06,263.70 L457.72,264.07 L456.37,264.44 L455.01,264.81 L453.65,265.18 L452.28,265.54 L450.90,265.91 L449.51,266.28 L448.12,266.64 L446.72,267.01 L445.32,267.37 L443.90,267.74 L442.48,268.10 L441.06,268.47 L439.62,268.83 L438.18,269.20 L436.74,269.56 L435.28,269.92 L433.82,270.29 L432.35,270.65 L430.88,271.01 L429.40,271.38 L427.91,271.74 L426.41,272.10 L424.91,272.47 L423.40,272.83 L421.88,273.19 L420.36,273.56 L418.82,273.92 L417.29,274.29 L415.74,274.65 L414.19,275.01 L412.63,275.38 L411.06,275.74 L409.49,276.11 L407.91,276.48 L406.32,276.84 L404.73,277.21 L403.12,277.58 L401.52,277.94 L399.90,278.31 L398.28,278.68 L396.65,279.05 L395.01,279.42 L393.37,279.79 L391.71,280.16 L390.06,280.53 L388.39,280.90 L386.72,281.28 L385.04,281.65 L383.35,282.02 L381.66,282.40 L379.95,282.77 L378.25,283.15 L376.53,283.53 L374.81,283.91 L373.08,284.28 L371.34,284.66 L369.60,285.04 L367.84,285.43 L366.08,285.81 L364.32,286.19 L362.55,286.58 L360.77,286.96 L358.98,287.35 L357.18,287.73 L355.38,288.12 L353.57,288.51 L351.76,288.90 L349.93,289.29 L348.10,289.68 L346.26,290.08 L344.42,290.47 L342.56,290.87 L340.70,291.26 L338.84,291.66 L336.96,292.06 L335.08,292.46 L333.19,292.86 L331.30,293.26 L329.39,293.67 L327.48,294.07 L325.56,294.48 L323.64,294.89 L321.71,295.29 L319.77,295.70 L317.82,296.11 L315.86,296.53 L313.90,296.94 L311.93,297.35 L309.96,297.77 L307.97,298.19 L305.98,298.61 L303.98,299.03 L301.98,299.45 L299.96,299.87 L297.94,300.29 L295.91,300.72 L293.88,301.14 L291.84,301.57 L289.79,302.00 L287.73,302.43 L285.66,302.86 L283.59,303.30 L281.51,303.73 L279.42,304.17 L277.33,304.61 L275.23,305.04 L273.12,305.48 L271.00,305.93 L268.88,306.37 L266.75,306.81 L264.61,307.26 L262.46,307.71 L260.31,308.16 L258.14,308.61 L255.98,309.06 L253.80,309.51 L251.62,309.97 L249.42,310.42 L247.23,310.88 L245.02,311.34 L242.81,311.80 L240.59,312.26 L238.36,312.72 L236.12,313.19 L233.88,313.66 L231.63,314.12 L229.37,314.59 L227.10,315.06 L224.83,315.54 L222.55,316.01 L220.26,316.49 L217.96,316.96 L215.66,317.44 L213.35,317.92 L211.03,318.40 L208.70,318.89 L206.37,319.37 L204.03,319.86 L201.68,320.34 L199.32,320.83 L196.96,321.32 L194.59,321.82 L192.21,322.31 L189.82,322.80 L187.43,323.30 L185.03,323.80 L182.62,324.30 L180.20,324.80 L177.78,325.30 L175.35,325.81 L172.91,326.31 L170.46,326.82 L168.00,327.33 L165.54,327.84 L163.07,328.35 L160.59,328.87 L158.11,329.38 L155.62,329.90 L153.12,330.42 L150.61,330.94 L148.09,331.46 L145.57,331.98 L143.04,332.51 L140.50,333.03 Z" fill="none" stroke="#0d0887" stroke-width="2.8" stroke-linejoin="round"/>
<path d="M139.30,309.63 L139.30,309.61 L139.30,309.54 L139.31,309.40 L139.32,309.19 L139.33,308.92 L139.35,308.57 L139.36,308.14 L139.39,307.64 L139.41,307.06 L139.44,306.39 L139.47,305.65 L139.51,304.82 L139.55,303.92 L139.59,302.93 L139.64,301.87 L139.69,300.72 L139.75,299.50 L139.81,298.20 L139.87,296.83 L139.94,295.38 L140.01,293.86 L140.09,292.28 L140.17,290.63 L140.25,288.91 L140.34,287.14 L140.44,285.30 L140.54,283.41 L140.64,281.47 L140.75,279.48 L140.86,277.44 L140.98,275.36 L141.10,273.24 L141.22,271.09 L141.35,268.90 L141.49,266.69 L141.63,264.45 L141.77,262.18 L141.92,259.90 L142.08,257.60 L142.24,255.29 L142.40,252.98 L142.57,250.65 L142.74,248.32 L142.92,246.00 L143.11,243.67 L143.29,241.36 L143.49,239.05 L143.69,236.75 L143.89,234.46 L144.10,232.19 L144.31,229.94 L144.53,227.70 L144.75,225.49 L144.98,223.30 L145.22,221.14 L145.46,219.00 L145.70,216.88 L145.95,214.80 L146.21,212.74 L146.47,210.71 L146.73,208.72 L147.00,206.75 L147.28,204.81 L147.56,202.91 L147.85,201.04 L148.14,199.19 L148.44,197.38 L148.74,195.60 L149.05,193.85 L149.36,192.13 L149.68,190.45 L150.00,188.79 L150.33,187.16 L150.67,185.55 L151.01,183.98 L151.35,182.43 L151.71,180.91 L152.06,179.41 L152.43,177.94 L152.79,176.49 L153.17,175.06 L153.55,173.66 L153.93,172.27 L154.32,170.91 L154.72,169.56 L155.12,168.24 L155.53,166.93 L155.94,165.63 L156.36,164.36 L156.79,163.09 L157.22,161.84 L157.65,160.61 L158.09,159.39 L158.54,158.18 L158.99,156.98 L159.45,155.79 L159.92,154.61 L160.39,153.44 L160.86,152.28 L161.35,151.13 L161.83,149.99 L162.33,148.86 L162.83,147.73 L163.33,146.61 L163.85,145.49 L164.36,144.38 L164.89,143.28 L165.41,142.19 L165.95,141.10 L166.49,140.01 L167.04,138.93 L167.59,137.86 L168.15,136.79 L168.71,135.72 L169.28,134.66 L169.86,133.61 L170.44,132.56 L171.03,131.51 L171.63,130.47 L172.23,129.43 L172.83,128.40 L173.45,127.37 L174.06,126.35 L174.69,125.34 L175.32,124.32 L175.96,123.32 L176.60,122.31 L177.25,121.32 L177.91,120.33 L178.57,119.34 L179.23,118.36 L179.91,117.38 L180.59,116.41 L181.27,115.45 L181.97,114.49 L182.66,113.54 L183.37,112.59 L184.08,111.65 L184.80,110.72 L185.52,109.79 L186.25,108.87 L186.98,107.96 L187.73,107.05 L188.47,106.15 L189.23,105.26 L189.99,104.37 L190.76,103.49 L191.53,102.62 L192.31,101.75 L193.10,100.89 L193.89,100.04 L194.69,99.20 L195.49,98.37 L196.30,97.54 L197.12,96.72 L197.94,95.91 L198.77,95.10 L199.61,94.30 L200.45,93.52 L201.30,92.74 L202.16,91.96 L203.02,91.20 L203.89,90.44 L204.76,89.69 L205.65,88.95 L206.53,88.22 L207.43,87.50 L208.33,86.78 L209.24,86.07 L210.15,85.37 L211.07,84.68 L212.00,84.00 L212.93,83.32 L213.87,82.66 L214.81,82.00 L215.77,81.35 L216.73,80.71 L217.69,80.07 L218.66,79.45 L219.64,78.83 L220.63,78.22 L221.62,77.62 L222.62,77.03 L223.62,76.44 L224.63,75.87 L225.65,75.30 L226.68,74.74 L227.71,74.18 L228.75,73.64 L229.79,73.10 L230.84,72.57 L231.90,72.05 L232.96,71.54 L234.04,71.03 L235.11,70.53 L236.20,70.04 L237.29,69.55 L238.39,69.08 L239.49,68.61 L240.60,68.14 L241.72,67.69 L242.84,67.24 L243.97,66.80 L245.11,66.36 L246.26,65.94 L247.41,65.51 L248.57,65.10 L249.73,64.69 L250.90,64.29 L252.08,63.90 L253.26,63.51 L254.46,63.13 L255.65,62.75 L256.86,62.38 L258.07,62.02 L259.29,61.66 L260.52,61.31 L261.75,60.96 L262.99,60.62 L264.23,60.29 L265.49,59.96 L266.75,59.64 L268.01,59.32 L269.28,59.01 L270.56,58.70 L271.85,58.40 L273.15,58.10 L274.45,57.81 L275.75,57.52 L277.07,57.24 L278.39,56.96 L279.72,56.69 L281.05,56.42 L282.39,56.15 L283.74,55.89 L285.10,55.64 L286.46,55.38 L287.83,55.14 L289.21,54.89 L290.59,54.65 L291.98,54.42 L293.38,54.19 L294.78,53.96 L296.19,53.73 L297.61,53.51 L299.04,53.30 L300.47,53.08 L301.91,52.87 L303.35,52.66 L304.81,52.46 L306.27,52.26 L307.73,52.06 L309.21,51.87 L310.69,51.67 L312.18,51.48 L313.67,51.30 L315.17,51.11 L316.68,50.93 L318.20,50.75 L319.72,50.58 L321.25,50.40 L322.79,50.23 L324.33,50.06 L325.88,49.90 L327.44,49.73 L329.01,49.57 L330.58,49.41 L332.16,49.25 L333.75,49.09 L335.34,48.94 L336.94,48.78 L338.55,48.63 L340.17,48.48 L341.79,48.33 L343.42,48.19 L345.05,48.04 L346.70,47.90 L348.35,47.76 L350.01,47.62 L351.67,47.48 L353.34,47.34 L355.02,47.20 L356.71,47.07 L358.40,46.93 L360.10,46.80 L361.81,46.67 L363.53,46.53 L365.25,46.40 L366.98,46.28 L368.72,46.15 L370.46,46.02 L372.21,45.89 L373.97,45.77 L375.73,45.64 L377.51,45.52 L379.29,45.40 L381.07,45.27 L382.87,45.15 L384.67,45.03 L386.48,44.91 L388.30,44.79 L390.12,44.67 L391.95,44.55 L393.79,44.43 L395.63,44.31 L397.49,44.19 L399.35,44.07 L401.21,43.96 L403.09,43.84 L404.97,43.72 L406.86,43.61 L408.76,43.49 L410.66,43.38 L412.57,43.26 L414.49,43.14 L416.41,43.03 L418.35,42.91 L420.29,42.80 L422.23,42.68 L424.19,42.57 L426.15,42.45 L428.12,42.34 L430.10,42.23 L432.08,42.11 L434.07,42.00 L436.07,41.88 L438.08,41.77 L440.09,41.65 L442.12,41.54 L444.14,41.42 L446.18,41.31 L448.22,41.20 L450.27,41.08 L452.33,40.97 L454.40,40.85 L456.47,40.74 L458.55,40.62 L460.64,40.51 L462.73,40.39 L464.84,40.27 L466.95,40.16 L469.06,40.04 L471.19,39.93 L473.32,39.81 L475.46,39.69 L477.61,39.58 L479.76,39.46 L481.93,39.34 L484.10,39.23 L486.27,39.11 L488.46,38.99 L490.65,38.87 L492.85,38.76 L495.06,38.64 L497.27,38.52 L499.49,38.40 L501.72,38.28 L503.96,38.16 L506.21,38.04 L508.46,37.92 L510.72,37.80 L512.99,37.68 L515.26,37.56 L517.54,37.44 L519.83,37.31 L522.13,37.19 L524.43,37.07 L526.75,36.95 L529.07,36.83 L531.39,36.70 L533.73,36.58 L536.07,36.45 L538.42,36.33 L540.78,36.21 L543.15,36.08 L545.52,35.96 L547.90,35.83 L550.29,35.70 L552.68,35.58 L555.09,35.45 L557.50,35.32 L559.92,35.20 L562.34,35.07 L564.78,34.94 L567.22,34.81 L569.67,34.68 L572.12,34.55 L574.59,34.42 L577.06,34.29 L579.54,34.16 L582.03,34.03 L584.52,33.90 L587.02,33.77 L589.53,33.64 L592.05,33.51 L594.58,33.37 L597.11,33.24 L599.65,33.11 L602.20,32.97 L602.20,33.70 L602.20,33.71 L602.20,33.74 L602.20,33.87 L602.19,34.11 L602.18,34.47 L602.17,34.96 L602.15,35.57 L602.14,36.32 L602.11,37.20 L602.09,38.21 L602.06,39.36 L602.03,40.64 L601.99,42.05 L601.95,43.59 L601.91,45.25 L601.86,47.03 L601.81,48.93 L601.75,50.93 L601.69,53.04 L601.63,55.25 L601.56,57.55 L601.49,59.93 L601.41,62.39 L601.33,64.92 L601.25,67.50 L601.16,70.14 L601.06,72.82 L600.96,75.54 L600.86,78.28 L600.75,81.05 L600.64,83.82 L600.52,86.60 L600.40,89.38 L600.28,92.14 L600.15,94.88 L600.01,97.61 L599.87,100.29 L599.73,102.95 L599.58,105.56 L599.42,108.12 L599.26,110.64 L599.10,113.10 L598.93,115.50 L598.76,117.84 L598.58,120.12 L598.39,122.33 L598.21,124.47 L598.01,126.55 L597.81,128.56 L597.61,130.50 L597.40,132.37 L597.19,134.18 L596.97,135.92 L596.75,137.59 L596.52,139.20 L596.28,140.74 L596.04,142.23 L595.80,143.66 L595.55,145.03 L595.29,146.34 L595.03,147.61 L594.77,148.83 L594.50,150.00 L594.22,151.12 L593.94,152.21 L593.65,153.26 L593.36,154.27 L593.06,155.24 L592.76,156.19 L592.45,157.11 L592.14,158.00 L591.82,158.87 L591.50,159.72 L591.17,160.54 L590.83,161.35 L590.49,162.15 L590.15,162.93 L589.79,163.69 L589.44,164.45 L589.07,165.19 L588.71,165.93 L588.33,166.66 L587.95,167.38 L587.57,168.09 L587.18,168.81 L586.78,169.51 L586.38,170.22 L585.97,170.92 L585.56,171.62 L585.14,172.32 L584.71,173.02 L584.28,173.71 L583.85,174.41 L583.41,175.10 L582.96,175.80 L582.51,176.50 L582.05,177.19 L581.58,177.89 L581.11,178.59 L580.64,179.28 L580.15,179.98 L579.67,180.68 L579.17,181.38 L578.67,182.08 L578.17,182.78 L577.65,183.48 L577.14,184.18 L576.61,184.88 L576.09,185.58 L575.55,186.28 L575.01,186.98 L574.46,187.68 L573.91,188.38 L573.35,189.07 L572.79,189.77 L572.22,190.47 L571.64,191.17 L571.06,191.86 L570.47,192.56 L569.87,193.25 L569.27,193.94 L568.67,194.63 L568.05,195.32 L567.44,196.01 L566.81,196.70 L566.18,197.38 L565.54,198.06 L564.90,198.74 L564.25,199.42 L563.59,200.10 L562.93,200.77 L562.27,201.44 L561.59,202.11 L560.91,202.77 L560.23,203.44 L559.53,204.10 L558.84,204.75 L558.13,205.41 L557.42,206.06 L556.70,206.71 L555.98,207.35 L555.25,207.99 L554.52,208.63 L553.77,209.26 L553.03,209.90 L552.27,210.52 L551.51,211.15 L550.74,211.77 L549.97,212.38 L549.19,213.00 L548.40,213.61 L547.61,214.21 L546.81,214.81 L546.01,215.41 L545.20,216.00 L544.38,216.59 L543.56,217.18 L542.73,217.76 L541.89,218.34 L541.05,218.91 L540.20,219.48 L539.34,220.04 L538.48,220.61 L537.61,221.16 L536.74,221.71 L535.85,222.26 L534.97,222.81 L534.07,223.35 L533.17,223.88 L532.26,224.42 L531.35,224.94 L530.43,225.47 L529.50,225.99 L528.57,226.50 L527.63,227.01 L526.69,227.52 L525.73,228.02 L524.77,228.52 L523.81,229.02 L522.84,229.51 L521.86,230.00 L520.87,230.48 L519.88,230.96 L518.88,231.43 L517.88,231.90 L516.87,232.37 L515.85,232.84 L514.82,233.30 L513.79,233.75 L512.75,234.20 L511.71,234.65 L510.66,235.10 L509.60,235.54 L508.54,235.98 L507.46,236.41 L506.39,236.84 L505.30,237.27 L504.21,237.69 L503.11,238.11 L502.01,238.53 L500.90,238.95 L499.78,239.36 L498.66,239.76 L497.53,240.17 L496.39,240.57 L495.24,240.97 L494.09,241.36 L492.93,241.76 L491.77,242.15 L490.60,242.53 L489.42,242.92 L488.24,243.30 L487.04,243.68 L485.85,244.06 L484.64,244.43 L483.43,244.80 L482.21,245.17 L480.98,245.54 L479.75,245.90 L478.51,246.27 L477.27,246.63 L476.01,246.98 L474.75,247.34 L473.49,247.69 L472.22,248.05 L470.94,248.40 L469.65,248.74 L468.35,249.09 L467.05,249.44 L465.75,249.78 L464.43,250.12 L463.11,250.46 L461.78,250.80 L460.45,251.13 L459.11,251.47 L457.76,251.80 L456.40,252.14 L455.04,252.47 L453.67,252.80 L452.29,253.13 L450.91,253.46 L449.52,253.78 L448.12,254.11 L446.72,254.43 L445.31,254.76 L443.89,255.08 L442.46,255.40 L441.03,255.72 L439.59,256.04 L438.15,256.36 L436.69,256.68 L435.23,257.00 L433.77,257.32 L432.29,257.64 L430.81,257.95 L429.32,258.27 L427.83,258.59 L426.33,258.90 L424.82,259.22 L423.30,259.53 L421.78,259.85 L420.25,260.16 L418.71,260.48 L417.17,260.79 L415.62,261.11 L414.06,261.42 L412.49,261.74 L410.92,262.05 L409.34,262.36 L407.75,262.68 L406.16,262.99 L404.56,263.31 L402.95,263.62 L401.33,263.94 L399.71,264.25 L398.08,264.57 L396.45,264.89 L394.80,265.20 L393.15,265.52 L391.49,265.84 L389.83,266.15 L388.16,266.47 L386.48,266.79 L384.79,267.11 L383.10,267.43 L381.40,267.75 L379.69,268.07 L377.97,268.39 L376.25,268.71 L374.52,269.03 L372.78,269.36 L371.04,269.68 L369.29,270.00 L367.53,270.33 L365.77,270.65 L363.99,270.98 L362.21,271.31 L360.43,271.63 L358.63,271.96 L356.83,272.29 L355.02,272.62 L353.20,272.95 L351.38,273.29 L349.55,273.62 L347.71,273.95 L345.87,274.29 L344.01,274.62 L342.15,274.96 L340.29,275.30 L338.41,275.63 L336.53,275.97 L334.64,276.31 L332.74,276.65 L330.84,277.00 L328.93,277.34 L327.01,277.68 L325.09,278.03 L323.15,278.38 L321.21,278.72 L319.27,279.07 L317.31,279.42 L315.35,279.77 L313.38,280.12 L311.40,280.48 L309.42,280.83 L307.43,281.18 L305.43,281.54 L303.42,281.90 L301.41,282.26 L299.38,282.61 L297.36,282.98 L295.32,283.34 L293.28,283.70 L291.23,284.06 L289.17,284.43 L287.10,284.80 L285.03,285.16 L282.95,285.53 L280.86,285.90 L278.77,286.27 L276.66,286.65 L274.55,287.02 L272.44,287.39 L270.31,287.77 L268.18,288.15 L266.04,288.53 L263.89,288.91 L261.74,289.29 L259.57,289.67 L257.40,290.05 L255.23,290.44 L253.04,290.82 L250.85,291.21 L248.65,291.60 L246.44,291.99 L244.23,292.38 L242.01,292.77 L239.78,293.17 L237.54,293.56 L235.29,293.96 L233.04,294.36 L230.78,294.75 L228.51,295.15 L226.24,295.56 L223.96,295.96 L221.67,296.36 L219.37,296.77 L217.07,297.17 L214.75,297.58 L212.43,297.99 L210.11,298.40 L207.77,298.81 L205.43,299.23 L203.08,299.64 L200.72,300.06 L198.35,300.47 L195.98,300.89 L193.60,301.31 L191.21,301.73 L188.82,302.15 L186.41,302.58 L184.00,303.00 L181.58,303.43 L179.16,303.86 L176.72,304.29 L174.28,304.72 L171.83,305.15 L169.38,305.58 L166.91,306.01 L164.44,306.45 L161.96,306.89 L159.47,307.32 L156.98,307.76 L154.48,308.20 L151.97,308.65 L149.45,309.09 L146.92,309.54 L144.39,309.98 L141.85,310.43 L139.30,310.88 Z" fill="none" stroke="#6a00a8" stroke-width="2.8" stroke-linejoin="round"/>
<path d="M144.30,289.14 L144.30,289.12 L144.30,289.06 L144.31,288.95 L144.32,288.79 L144.33,288.56 L144.34,288.28 L144.36,287.94 L144.38,287.53 L144.41,287.06 L144.44,286.52 L144.47,285.93 L144.51,285.26 L144.55,284.54 L144.59,283.75 L144.64,282.90 L144.69,282.00 L144.74,281.03 L144.80,280.01 L144.87,278.93 L144.93,277.80 L145.01,276.62 L145.08,275.39 L145.16,274.11 L145.25,272.79 L145.34,271.43 L145.43,270.04 L145.53,268.61 L145.63,267.15 L145.74,265.66 L145.85,264.14 L145.96,262.60 L146.08,261.04 L146.21,259.47 L146.34,257.88 L146.47,256.27 L146.61,254.67 L146.76,253.05 L146.90,251.43 L147.06,249.81 L147.22,248.19 L147.38,246.58 L147.55,244.97 L147.72,243.36 L147.90,241.77 L148.08,240.19 L148.27,238.62 L148.46,237.06 L148.65,235.51 L148.86,233.99 L149.06,232.47 L149.28,230.98 L149.49,229.50 L149.72,228.04 L149.94,226.59 L150.18,225.17 L150.41,223.76 L150.66,222.37 L150.90,221.00 L151.16,219.65 L151.41,218.31 L151.68,216.99 L151.95,215.69 L152.22,214.40 L152.50,213.13 L152.78,211.87 L153.07,210.63 L153.37,209.39 L153.67,208.17 L153.98,206.97 L154.29,205.77 L154.60,204.58 L154.93,203.40 L155.25,202.23 L155.59,201.07 L155.92,199.92 L156.27,198.77 L156.62,197.62 L156.97,196.49 L157.33,195.35 L157.70,194.22 L158.07,193.10 L158.45,191.98 L158.83,190.85 L159.22,189.74 L159.61,188.62 L160.01,187.50 L160.41,186.39 L160.82,185.27 L161.24,184.16 L161.66,183.05 L162.09,181.93 L162.52,180.82 L162.96,179.71 L163.40,178.59 L163.85,177.48 L164.31,176.36 L164.77,175.25 L165.24,174.13 L165.71,173.01 L166.19,171.90 L166.67,170.78 L167.16,169.66 L167.66,168.55 L168.16,167.43 L168.67,166.31 L169.18,165.20 L169.70,164.08 L170.23,162.97 L170.76,161.85 L171.30,160.74 L171.84,159.63 L172.39,158.52 L172.94,157.41 L173.50,156.30 L174.07,155.20 L174.64,154.09 L175.22,152.99 L175.81,151.89 L176.40,150.80 L176.99,149.70 L177.59,148.62 L178.20,147.53 L178.82,146.45 L179.44,145.37 L180.06,144.29 L180.70,143.22 L181.33,142.16 L181.98,141.09 L182.63,140.04 L183.29,138.98 L183.95,137.94 L184.62,136.89 L185.29,135.86 L185.97,134.83 L186.66,133.80 L187.36,132.78 L188.05,131.77 L188.76,130.76 L189.47,129.76 L190.19,128.76 L190.91,127.78 L191.64,126.80 L192.38,125.82 L193.12,124.85 L193.87,123.89 L194.63,122.94 L195.39,121.99 L196.16,121.06 L196.93,120.12 L197.71,119.20 L198.50,118.29 L199.29,117.38 L200.09,116.48 L200.90,115.59 L201.71,114.70 L202.53,113.83 L203.35,112.96 L204.18,112.10 L205.02,111.25 L205.86,110.41 L206.71,109.58 L207.57,108.75 L208.43,107.93 L209.30,107.13 L210.17,106.33 L211.05,105.53 L211.94,104.75 L212.84,103.98 L213.74,103.21 L214.64,102.46 L215.56,101.71 L216.48,100.97 L217.40,100.24 L218.34,99.52 L219.28,98.81 L220.22,98.10 L221.17,97.41 L222.13,96.72 L223.10,96.04 L224.07,95.37 L225.05,94.71 L226.03,94.06 L227.02,93.42 L228.02,92.78 L229.03,92.16 L230.04,91.54 L231.05,90.93 L232.08,90.33 L233.11,89.74 L234.15,89.15 L235.19,88.58 L236.24,88.01 L237.30,87.45 L238.36,86.90 L239.43,86.36 L240.51,85.82 L241.59,85.29 L242.68,84.77 L243.78,84.26 L244.88,83.76 L245.99,83.26 L247.10,82.77 L248.23,82.29 L249.36,81.82 L250.49,81.35 L251.64,80.89 L252.79,80.44 L253.94,79.99 L255.11,79.55 L256.28,79.12 L257.45,78.70 L258.63,78.28 L259.82,77.87 L261.02,77.47 L262.22,77.07 L263.43,76.68 L264.65,76.29 L265.87,75.91 L267.11,75.54 L268.34,75.17 L269.59,74.81 L270.84,74.46 L272.09,74.11 L273.36,73.77 L274.63,73.43 L275.91,73.10 L277.19,72.77 L278.48,72.45 L279.78,72.14 L281.09,71.82 L282.40,71.52 L283.72,71.22 L285.04,70.92 L286.37,70.63 L287.71,70.35 L289.06,70.07 L290.41,69.79 L291.77,69.52 L293.14,69.25 L294.51,68.98 L295.89,68.73 L297.28,68.47 L298.67,68.22 L300.07,67.97 L301.48,67.73 L302.90,67.49 L304.32,67.25 L305.75,67.02 L307.18,66.79 L308.63,66.57 L310.08,66.35 L311.53,66.13 L313.00,65.91 L314.47,65.70 L315.94,65.49 L317.43,65.28 L318.92,65.08 L320.42,64.88 L321.92,64.68 L323.44,64.49 L324.95,64.30 L326.48,64.11 L328.01,63.92 L329.55,63.74 L331.10,63.55 L332.66,63.37 L334.22,63.20 L335.79,63.02 L337.36,62.85 L338.94,62.68 L340.53,62.51 L342.13,62.34 L343.73,62.17 L345.34,62.01 L346.96,61.85 L348.59,61.69 L350.22,61.53 L351.86,61.37 L353.50,61.22 L355.16,61.06 L356.82,60.91 L358.48,60.76 L360.16,60.61 L361.84,60.46 L363.53,60.31 L365.23,60.17 L366.93,60.02 L368.64,59.88 L370.36,59.74 L372.08,59.59 L373.81,59.45 L375.55,59.31 L377.30,59.17 L379.05,59.04 L380.81,58.90 L382.58,58.76 L384.35,58.63 L386.13,58.49 L387.92,58.36 L389.72,58.23 L391.52,58.09 L393.33,57.96 L395.15,57.83 L396.97,57.70 L398.81,57.57 L400.65,57.44 L402.49,57.31 L404.35,57.18 L406.21,57.05 L408.08,56.92 L409.95,56.79 L411.83,56.66 L413.72,56.54 L415.62,56.41 L417.53,56.28 L419.44,56.15 L421.36,56.03 L423.28,55.90 L425.22,55.77 L427.16,55.65 L429.11,55.52 L431.06,55.40 L433.03,55.27 L435.00,55.14 L436.97,55.02 L438.96,54.89 L440.95,54.77 L442.95,54.64 L444.96,54.52 L446.97,54.39 L448.99,54.26 L451.02,54.14 L453.06,54.01 L455.10,53.89 L457.15,53.76 L459.21,53.63 L461.28,53.51 L463.35,53.38 L465.43,53.25 L467.52,53.13 L469.61,53.00 L471.71,52.87 L473.82,52.74 L475.94,52.62 L478.07,52.49 L480.20,52.36 L482.34,52.23 L484.48,52.10 L486.64,51.98 L488.80,51.85 L490.97,51.72 L493.15,51.59 L495.33,51.46 L497.52,51.33 L499.72,51.20 L501.93,51.07 L504.14,50.94 L506.36,50.81 L508.59,50.67 L510.83,50.54 L513.07,50.41 L515.32,50.28 L517.58,50.14 L519.85,50.01 L522.12,49.88 L524.40,49.74 L526.69,49.61 L528.98,49.48 L531.29,49.34 L533.60,49.21 L535.92,49.07 L538.24,48.93 L540.58,48.80 L542.92,48.66 L545.27,48.52 L547.62,48.39 L549.99,48.25 L552.36,48.11 L554.74,47.97 L557.12,47.83 L559.52,47.69 L561.92,47.55 L564.33,47.41 L566.74,47.27 L569.17,47.13 L571.60,46.99 L574.04,46.85 L576.48,46.71 L578.94,46.57 L581.40,46.42 L583.87,46.28 L586.35,46.14 L588.83,45.99 L591.32,45.85 L593.82,45.70 L596.33,45.56 L598.85,45.41 L601.37,45.27 L603.90,45.12 L603.90,47.20 L603.90,47.30 L603.90,47.32 L603.90,47.39 L603.89,47.51 L603.88,47.71 L603.87,47.96 L603.86,48.29 L603.84,48.69 L603.82,49.16 L603.79,49.70 L603.76,50.32 L603.73,51.01 L603.69,51.78 L603.65,52.62 L603.61,53.54 L603.56,54.52 L603.51,55.58 L603.46,56.71 L603.40,57.90 L603.33,59.16 L603.27,60.48 L603.19,61.86 L603.12,63.31 L603.04,64.80 L602.95,66.36 L602.86,67.96 L602.77,69.60 L602.67,71.29 L602.57,73.02 L602.46,74.79 L602.35,76.59 L602.24,78.42 L602.12,80.27 L601.99,82.15 L601.86,84.04 L601.73,85.95 L601.59,87.88 L601.44,89.81 L601.30,91.74 L601.14,93.68 L600.98,95.61 L600.82,97.54 L600.65,99.47 L600.48,101.38 L600.30,103.28 L600.12,105.16 L599.93,107.03 L599.74,108.87 L599.55,110.69 L599.34,112.49 L599.14,114.26 L598.92,116.01 L598.71,117.72 L598.48,119.41 L598.26,121.06 L598.02,122.68 L597.79,124.27 L597.54,125.83 L597.30,127.35 L597.04,128.84 L596.79,130.29 L596.52,131.71 L596.25,133.09 L595.98,134.44 L595.70,135.76 L595.42,137.04 L595.13,138.29 L594.83,139.51 L594.53,140.69 L594.22,141.85 L593.91,142.98 L593.60,144.08 L593.27,145.15 L592.95,146.19 L592.61,147.21 L592.28,148.20 L591.93,149.17 L591.58,150.12 L591.23,151.04 L590.87,151.95 L590.50,152.83 L590.13,153.70 L589.75,154.55 L589.37,155.38 L588.98,156.20 L588.59,157.01 L588.19,157.80 L587.79,158.58 L587.38,159.34 L586.96,160.10 L586.54,160.85 L586.11,161.58 L585.68,162.31 L585.24,163.03 L584.80,163.75 L584.35,164.46 L583.89,165.16 L583.43,165.86 L582.96,166.55 L582.49,167.24 L582.01,167.92 L581.53,168.60 L581.04,169.28 L580.54,169.96 L580.04,170.63 L579.53,171.30 L579.02,171.97 L578.50,172.63 L577.97,173.30 L577.44,173.96 L576.90,174.63 L576.36,175.29 L575.81,175.95 L575.26,176.61 L574.70,177.27 L574.13,177.92 L573.56,178.58 L572.98,179.24 L572.39,179.89 L571.80,180.55 L571.21,181.20 L570.61,181.85 L570.00,182.51 L569.38,183.16 L568.76,183.81 L568.14,184.46 L567.50,185.11 L566.87,185.75 L566.22,186.40 L565.57,187.05 L564.91,187.69 L564.25,188.33 L563.58,188.98 L562.91,189.62 L562.23,190.26 L561.54,190.89 L560.84,191.53 L560.15,192.16 L559.44,192.79 L558.73,193.43 L558.01,194.05 L557.29,194.68 L556.56,195.31 L555.82,195.93 L555.08,196.55 L554.33,197.17 L553.57,197.78 L552.81,198.39 L552.04,199.01 L551.27,199.61 L550.49,200.22 L549.70,200.82 L548.91,201.42 L548.11,202.02 L547.30,202.62 L546.49,203.21 L545.67,203.80 L544.85,204.38 L544.02,204.97 L543.18,205.55 L542.34,206.12 L541.49,206.70 L540.63,207.27 L539.77,207.84 L538.90,208.40 L538.03,208.96 L537.15,209.52 L536.26,210.07 L535.36,210.62 L534.46,211.17 L533.56,211.72 L532.64,212.26 L531.72,212.79 L530.80,213.33 L529.86,213.86 L528.92,214.38 L527.98,214.91 L527.03,215.43 L526.07,215.94 L525.10,216.46 L524.13,216.96 L523.15,217.47 L522.17,217.97 L521.18,218.47 L520.18,218.96 L519.17,219.46 L518.16,219.94 L517.15,220.43 L516.12,220.91 L515.09,221.38 L514.05,221.86 L513.01,222.33 L511.96,222.79 L510.90,223.26 L509.84,223.71 L508.77,224.17 L507.69,224.62 L506.61,225.07 L505.52,225.52 L504.42,225.96 L503.32,226.40 L502.21,226.83 L501.10,227.26 L499.97,227.69 L498.84,228.12 L497.71,228.54 L496.56,228.95 L495.41,229.37 L494.26,229.78 L493.09,230.19 L491.92,230.60 L490.75,231.00 L489.57,231.40 L488.38,231.79 L487.18,232.19 L485.98,232.58 L484.77,232.97 L483.55,233.35 L482.33,233.73 L481.09,234.11 L479.86,234.49 L478.61,234.86 L477.36,235.23 L476.11,235.60 L474.84,235.96 L473.57,236.33 L472.29,236.69 L471.01,237.04 L469.72,237.40 L468.42,237.75 L467.11,238.10 L465.80,238.45 L464.48,238.79 L463.16,239.14 L461.83,239.48 L460.49,239.82 L459.14,240.15 L457.79,240.49 L456.43,240.82 L455.06,241.15 L453.69,241.48 L452.31,241.80 L450.92,242.13 L449.53,242.45 L448.13,242.77 L446.72,243.09 L445.30,243.41 L443.88,243.72 L442.45,244.04 L441.02,244.35 L439.57,244.66 L438.12,244.97 L436.67,245.28 L435.20,245.59 L433.73,245.89 L432.26,246.19 L430.77,246.50 L429.28,246.80 L427.78,247.10 L426.28,247.40 L424.76,247.69 L423.25,247.99 L421.72,248.28 L420.19,248.58 L418.65,248.87 L417.10,249.16 L415.54,249.46 L413.98,249.75 L412.41,250.04 L410.84,250.32 L409.26,250.61 L407.67,250.90 L406.07,251.19 L404.47,251.47 L402.86,251.76 L401.24,252.04 L399.61,252.33 L397.98,252.61 L396.34,252.89 L394.70,253.17 L393.04,253.46 L391.38,253.74 L389.72,254.02 L388.04,254.30 L386.36,254.58 L384.67,254.86 L382.97,255.14 L381.27,255.42 L379.56,255.70 L377.84,255.98 L376.12,256.26 L374.39,256.54 L372.65,256.82 L370.90,257.10 L369.15,257.38 L367.39,257.66 L365.62,257.94 L363.85,258.21 L362.07,258.49 L360.28,258.77 L358.48,259.05 L356.68,259.33 L354.87,259.61 L353.05,259.89 L351.23,260.17 L349.39,260.45 L347.55,260.73 L345.71,261.01 L343.85,261.29 L341.99,261.58 L340.12,261.86 L338.25,262.14 L336.37,262.42 L334.48,262.71 L332.58,262.99 L330.67,263.27 L328.76,263.56 L326.84,263.84 L324.92,264.13 L322.98,264.41 L321.04,264.70 L319.09,264.98 L317.14,265.27 L315.17,265.56 L313.20,265.85 L311.23,266.14 L309.24,266.43 L307.25,266.71 L305.25,267.01 L303.24,267.30 L301.23,267.59 L299.21,267.88 L297.18,268.17 L295.14,268.47 L293.10,268.76 L291.05,269.06 L288.99,269.35 L286.92,269.65 L284.85,269.95 L282.77,270.25 L280.68,270.54 L278.59,270.84 L276.49,271.14 L274.38,271.45 L272.26,271.75 L270.13,272.05 L268.00,272.35 L265.86,272.66 L263.72,272.96 L261.56,273.27 L259.40,273.58 L257.23,273.88 L255.05,274.19 L252.87,274.50 L250.68,274.81 L248.48,275.12 L246.27,275.44 L244.06,275.75 L241.84,276.06 L239.61,276.38 L237.37,276.69 L235.13,277.01 L232.88,277.33 L230.62,277.65 L228.35,277.96 L226.08,278.28 L223.80,278.61 L221.51,278.93 L219.22,279.25 L216.91,279.57 L214.60,279.90 L212.28,280.23 L209.96,280.55 L207.62,280.88 L205.28,281.21 L202.93,281.54 L200.58,281.87 L198.21,282.20 L195.84,282.53 L193.46,282.87 L191.08,283.20 L188.68,283.54 L186.28,283.87 L183.87,284.21 L181.46,284.55 L179.03,284.89 L176.60,285.23 L174.16,285.57 L171.72,285.91 L169.26,286.26 L166.80,286.60 L164.33,286.95 L161.85,287.29 L159.37,287.64 L156.88,287.99 L154.38,288.34 L151.87,288.69 L149.35,289.04 L146.83,289.40 L144.30,289.75 Z" fill="none" stroke="#b12a90" stroke-width="2.8" stroke-linejoin="round"/>
<path d="M131.80,262.78 L131.80,262.78 L131.80,262.77 L131.81,262.74 L131.82,262.71 L131.83,262.67 L131.85,262.61 L131.87,262.55 L131.89,262.47 L131.92,262.38 L131.95,262.27 L131.98,262.15 L132.02,262.02 L132.06,261.87 L132.11,261.71 L132.16,261.54 L132.21,261.35 L132.27,261.15 L132.33,260.93 L132.40,260.70 L132.47,260.45 L132.55,260.19 L132.63,259.91 L132.71,259.62 L132.80,259.31 L132.90,258.99 L132.99,258.65 L133.10,258.30 L133.21,257.94 L133.32,257.55 L133.44,257.16 L133.56,256.74 L133.69,256.32 L133.82,255.88 L133.95,255.42 L134.10,254.95 L134.24,254.46 L134.40,253.96 L134.55,253.44 L134.71,252.91 L134.88,252.36 L135.05,251.80 L135.23,251.23 L135.41,250.64 L135.60,250.04 L135.79,249.42 L135.99,248.79 L136.19,248.15 L136.40,247.49 L136.61,246.82 L136.83,246.13 L137.06,245.44 L137.29,244.73 L137.52,244.00 L137.76,243.27 L138.01,242.52 L138.26,241.76 L138.52,240.99 L138.78,240.21 L139.04,239.41 L139.32,238.60 L139.60,237.79 L139.88,236.96 L140.17,236.12 L140.46,235.27 L140.76,234.41 L141.07,233.54 L141.38,232.66 L141.70,231.77 L142.02,230.87 L142.35,229.96 L142.69,229.04 L143.03,228.12 L143.37,227.19 L143.72,226.24 L144.08,225.30 L144.45,224.34 L144.81,223.38 L145.19,222.40 L145.57,221.43 L145.96,220.44 L146.35,219.45 L146.75,218.46 L147.15,217.45 L147.56,216.45 L147.98,215.44 L148.40,214.42 L148.82,213.40 L149.26,212.37 L149.70,211.34 L150.14,210.31 L150.59,209.27 L151.05,208.23 L151.52,207.19 L151.98,206.14 L152.46,205.09 L152.94,204.04 L153.43,202.99 L153.92,201.94 L154.42,200.88 L154.93,199.83 L155.44,198.77 L155.96,197.71 L156.48,196.65 L157.01,195.59 L157.55,194.54 L158.09,193.48 L158.64,192.42 L159.19,191.36 L159.76,190.31 L160.32,189.26 L160.90,188.20 L161.48,187.15 L162.06,186.10 L162.66,185.06 L163.25,184.01 L163.86,182.97 L164.47,181.93 L165.09,180.90 L165.71,179.86 L166.34,178.83 L166.98,177.81 L167.62,176.78 L168.27,175.77 L168.92,174.75 L169.59,173.74 L170.26,172.74 L170.93,171.74 L171.61,170.74 L172.30,169.75 L172.99,168.76 L173.69,167.78 L174.40,166.80 L175.11,165.83 L175.83,164.87 L176.56,163.91 L177.29,162.95 L178.03,162.01 L178.78,161.06 L179.53,160.13 L180.29,159.20 L181.05,158.28 L181.82,157.36 L182.60,156.45 L183.39,155.54 L184.18,154.65 L184.98,153.76 L185.78,152.87 L186.59,151.99 L187.41,151.12 L188.23,150.26 L189.06,149.40 L189.90,148.55 L190.75,147.71 L191.60,146.88 L192.46,146.05 L193.32,145.23 L194.19,144.41 L195.07,143.60 L195.95,142.80 L196.84,142.01 L197.74,141.23 L198.65,140.45 L199.56,139.68 L200.47,138.91 L201.40,138.16 L202.33,137.41 L203.27,136.66 L204.21,135.93 L205.17,135.20 L206.12,134.48 L207.09,133.77 L208.06,133.06 L209.04,132.36 L210.03,131.67 L211.02,130.98 L212.02,130.30 L213.02,129.63 L214.04,128.96 L215.06,128.31 L216.08,127.65 L217.12,127.01 L218.16,126.37 L219.20,125.74 L220.26,125.11 L221.32,124.49 L222.39,123.88 L223.46,123.28 L224.54,122.68 L225.63,122.08 L226.73,121.50 L227.83,120.91 L228.94,120.34 L230.06,119.77 L231.18,119.21 L232.31,118.65 L233.45,118.10 L234.59,117.55 L235.74,117.01 L236.90,116.47 L238.07,115.94 L239.24,115.42 L240.42,114.90 L241.61,114.39 L242.80,113.88 L244.00,113.38 L245.21,112.88 L246.42,112.38 L247.65,111.89 L248.87,111.41 L250.11,110.93 L251.35,110.46 L252.60,109.99 L253.86,109.52 L255.12,109.06 L256.40,108.60 L257.67,108.15 L258.96,107.70 L260.25,107.26 L261.55,106.82 L262.86,106.38 L264.17,105.95 L265.49,105.52 L266.82,105.10 L268.16,104.68 L269.50,104.26 L270.85,103.85 L272.21,103.44 L273.57,103.03 L274.95,102.63 L276.32,102.23 L277.71,101.83 L279.10,101.44 L280.50,101.05 L281.91,100.66 L283.33,100.28 L284.75,99.89 L286.18,99.52 L287.61,99.14 L289.06,98.77 L290.51,98.40 L291.97,98.03 L293.43,97.67 L294.91,97.30 L296.39,96.94 L297.87,96.59 L299.37,96.23 L300.87,95.88 L302.38,95.53 L303.90,95.18 L305.42,94.84 L306.95,94.50 L308.49,94.16 L310.04,93.82 L311.59,93.48 L313.15,93.15 L314.72,92.81 L316.30,92.48 L317.88,92.16 L319.47,91.83 L321.07,91.51 L322.67,91.18 L324.29,90.86 L325.91,90.55 L327.53,90.23 L329.17,89.91 L330.81,89.60 L332.46,89.29 L334.12,88.98 L335.78,88.67 L337.45,88.37 L339.13,88.06 L340.82,87.76 L342.52,87.46 L344.22,87.16 L345.93,86.86 L347.64,86.56 L349.37,86.27 L351.10,85.98 L352.84,85.69 L354.59,85.40 L356.34,85.11 L358.10,84.82 L359.87,84.54 L361.65,84.25 L363.43,83.97 L365.22,83.69 L367.02,83.41 L368.83,83.13 L370.64,82.86 L372.47,82.58 L374.30,82.31 L376.13,82.04 L377.98,81.77 L379.83,81.50 L381.69,81.23 L383.56,80.97 L385.43,80.70 L387.31,80.44 L389.20,80.18 L391.10,79.92 L393.01,79.66 L394.92,79.41 L396.84,79.15 L398.77,78.90 L400.70,78.65 L402.65,78.40 L404.60,78.15 L406.56,77.90 L408.52,77.66 L410.50,77.42 L412.48,77.17 L414.47,76.93 L416.47,76.70 L418.47,76.46 L420.48,76.22 L422.50,75.99 L424.53,75.76 L426.57,75.53 L428.61,75.30 L430.66,75.07 L432.72,74.85 L434.79,74.63 L436.86,74.40 L438.94,74.19 L441.03,73.97 L443.13,73.75 L445.23,73.54 L447.34,73.33 L449.46,73.12 L451.59,72.91 L453.73,72.70 L455.87,72.50 L458.02,72.30 L460.18,72.10 L462.35,71.90 L464.52,71.70 L466.71,71.51 L468.90,71.31 L471.10,71.12 L473.30,70.94 L475.51,70.75 L477.74,70.57 L479.97,70.38 L482.20,70.20 L484.45,70.03 L486.70,69.85 L488.96,69.68 L491.23,69.51 L493.50,69.34 L495.79,69.17 L498.08,69.01 L500.38,68.85 L502.69,68.69 L505.00,68.53 L507.33,68.38 L509.66,68.23 L512.00,68.08 L514.34,67.93 L516.70,67.78 L519.06,67.64 L521.43,67.50 L523.81,67.37 L526.20,67.23 L528.59,67.10 L530.99,66.97 L533.40,66.84 L535.82,66.72 L538.25,66.60 L540.68,66.48 L543.12,66.36 L545.57,66.25 L548.03,66.14 L550.49,66.03 L552.97,65.93 L555.45,65.82 L557.94,65.73 L560.44,65.63 L562.94,65.54 L565.46,65.45 L567.98,65.36 L570.51,65.27 L573.04,65.19 L575.59,65.11 L578.14,65.04 L580.70,64.96 L583.27,64.90 L585.85,64.83 L588.43,64.77 L591.03,64.71 L593.63,64.65 L596.24,64.59 L598.85,64.54 L601.48,64.50 L604.11,64.45 L606.75,64.41 L609.40,64.37 L612.06,64.34 L614.73,64.31 L617.40,64.28 L617.40,64.00 L617.40,63.40 L617.40,63.40 L617.40,63.42 L617.39,63.44 L617.38,63.48 L617.37,63.54 L617.35,63.60 L617.33,63.69 L617.31,63.78 L617.28,63.90 L617.25,64.03 L617.22,64.17 L617.18,64.34 L617.14,64.52 L617.09,64.71 L617.04,64.93 L616.99,65.16 L616.93,65.41 L616.87,65.67 L616.80,65.96 L616.73,66.26 L616.65,66.58 L616.57,66.92 L616.49,67.27 L616.40,67.65 L616.30,68.04 L616.21,68.45 L616.10,68.87 L615.99,69.32 L615.88,69.78 L615.76,70.26 L615.64,70.76 L615.51,71.27 L615.38,71.80 L615.25,72.35 L615.10,72.92 L614.96,73.50 L614.80,74.10 L614.65,74.71 L614.49,75.34 L614.32,75.99 L614.15,76.65 L613.97,77.33 L613.79,78.02 L613.60,78.73 L613.41,79.45 L613.21,80.19 L613.01,80.94 L612.80,81.70 L612.59,82.48 L612.37,83.27 L612.14,84.08 L611.91,84.89 L611.68,85.72 L611.44,86.56 L611.19,87.41 L610.94,88.28 L610.68,89.15 L610.42,90.04 L610.16,90.93 L609.88,91.83 L609.60,92.75 L609.32,93.67 L609.03,94.60 L608.74,95.54 L608.44,96.49 L608.13,97.44 L607.82,98.40 L607.50,99.37 L607.18,100.35 L606.85,101.33 L606.51,102.32 L606.17,103.31 L605.83,104.30 L605.48,105.31 L605.12,106.31 L604.75,107.32 L604.39,108.33 L604.01,109.35 L603.63,110.37 L603.24,111.39 L602.85,112.41 L602.45,113.43 L602.05,114.46 L601.64,115.48 L601.22,116.51 L600.80,117.54 L600.38,118.56 L599.94,119.59 L599.50,120.62 L599.06,121.64 L598.61,122.66 L598.15,123.69 L597.68,124.71 L597.22,125.72 L596.74,126.74 L596.26,127.75 L595.77,128.76 L595.28,129.77 L594.78,130.77 L594.27,131.77 L593.76,132.77 L593.24,133.76 L592.72,134.75 L592.19,135.73 L591.65,136.71 L591.11,137.68 L590.56,138.65 L590.01,139.61 L589.44,140.57 L588.88,141.52 L588.30,142.47 L587.72,143.41 L587.14,144.35 L586.54,145.27 L585.95,146.20 L585.34,147.11 L584.73,148.02 L584.11,148.93 L583.49,149.82 L582.86,150.71 L582.22,151.60 L581.58,152.48 L580.93,153.35 L580.28,154.21 L579.61,155.07 L578.94,155.92 L578.27,156.76 L577.59,157.59 L576.90,158.42 L576.21,159.24 L575.51,160.06 L574.80,160.87 L574.09,161.67 L573.37,162.46 L572.64,163.25 L571.91,164.03 L571.17,164.80 L570.42,165.57 L569.67,166.33 L568.91,167.08 L568.15,167.83 L567.38,168.57 L566.60,169.30 L565.81,170.03 L565.02,170.75 L564.22,171.46 L563.42,172.17 L562.61,172.87 L561.79,173.57 L560.97,174.26 L560.14,174.94 L559.30,175.62 L558.45,176.29 L557.60,176.95 L556.74,177.61 L555.88,178.27 L555.01,178.91 L554.13,179.56 L553.25,180.19 L552.36,180.83 L551.46,181.45 L550.55,182.07 L549.64,182.69 L548.73,183.30 L547.80,183.91 L546.87,184.51 L545.93,185.11 L544.99,185.70 L544.03,186.29 L543.08,186.88 L542.11,187.46 L541.14,188.03 L540.16,188.60 L539.17,189.17 L538.18,189.73 L537.18,190.29 L536.18,190.85 L535.16,191.40 L534.14,191.95 L533.12,192.49 L532.08,193.03 L531.04,193.57 L530.00,194.11 L528.94,194.64 L527.88,195.16 L526.81,195.69 L525.74,196.21 L524.66,196.73 L523.57,197.25 L522.47,197.76 L521.37,198.27 L520.26,198.78 L519.14,199.28 L518.02,199.78 L516.89,200.28 L515.75,200.78 L514.61,201.27 L513.46,201.76 L512.30,202.25 L511.13,202.74 L509.96,203.23 L508.78,203.71 L507.59,204.19 L506.40,204.67 L505.20,205.14 L503.99,205.62 L502.78,206.09 L501.55,206.56 L500.33,207.03 L499.09,207.49 L497.85,207.96 L496.60,208.42 L495.34,208.88 L494.08,209.34 L492.80,209.79 L491.53,210.25 L490.24,210.70 L488.95,211.15 L487.65,211.60 L486.34,212.05 L485.03,212.49 L483.71,212.93 L482.38,213.38 L481.04,213.82 L479.70,214.26 L478.35,214.69 L476.99,215.13 L475.63,215.56 L474.25,215.99 L472.88,216.42 L471.49,216.85 L470.10,217.28 L468.70,217.70 L467.29,218.13 L465.87,218.55 L464.45,218.97 L463.02,219.39 L461.59,219.80 L460.14,220.22 L458.69,220.63 L457.23,221.04 L455.77,221.45 L454.29,221.86 L452.81,222.27 L451.33,222.67 L449.83,223.08 L448.33,223.48 L446.82,223.88 L445.30,224.28 L443.78,224.67 L442.25,225.07 L440.71,225.46 L439.16,225.85 L437.61,226.24 L436.05,226.63 L434.48,227.02 L432.90,227.40 L431.32,227.78 L429.73,228.16 L428.13,228.54 L426.53,228.92 L424.91,229.30 L423.29,229.67 L421.67,230.04 L420.03,230.41 L418.39,230.78 L416.74,231.15 L415.08,231.51 L413.42,231.87 L411.75,232.24 L410.07,232.60 L408.38,232.95 L406.68,233.31 L404.98,233.66 L403.27,234.01 L401.56,234.36 L399.83,234.71 L398.10,235.06 L396.36,235.40 L394.61,235.74 L392.86,236.08 L391.10,236.42 L389.33,236.76 L387.55,237.09 L385.77,237.43 L383.98,237.76 L382.18,238.09 L380.37,238.41 L378.56,238.74 L376.73,239.06 L374.90,239.38 L373.07,239.70 L371.22,240.02 L369.37,240.33 L367.51,240.65 L365.64,240.96 L363.77,241.27 L361.89,241.58 L360.00,241.88 L358.10,242.18 L356.19,242.49 L354.28,242.79 L352.36,243.08 L350.43,243.38 L348.50,243.67 L346.55,243.96 L344.60,244.25 L342.64,244.54 L340.68,244.83 L338.70,245.11 L336.72,245.39 L334.73,245.67 L332.73,245.95 L330.73,246.22 L328.72,246.50 L326.70,246.77 L324.67,247.04 L322.63,247.31 L320.59,247.57 L318.54,247.84 L316.48,248.10 L314.41,248.36 L312.34,248.62 L310.26,248.87 L308.17,249.13 L306.07,249.38 L303.97,249.63 L301.86,249.88 L299.74,250.12 L297.61,250.37 L295.47,250.61 L293.33,250.85 L291.18,251.09 L289.02,251.32 L286.85,251.56 L284.68,251.79 L282.49,252.02 L280.30,252.25 L278.10,252.48 L275.90,252.70 L273.69,252.93 L271.46,253.15 L269.23,253.37 L267.00,253.59 L264.75,253.80 L262.50,254.02 L260.24,254.23 L257.97,254.44 L255.70,254.65 L253.41,254.86 L251.12,255.06 L248.82,255.27 L246.51,255.47 L244.20,255.67 L241.87,255.87 L239.54,256.06 L237.20,256.26 L234.86,256.45 L232.50,256.64 L230.14,256.83 L227.77,257.02 L225.39,257.20 L223.00,257.39 L220.61,257.57 L218.21,257.75 L215.80,257.93 L213.38,258.11 L210.95,258.29 L208.52,258.46 L206.08,258.63 L203.63,258.81 L201.17,258.98 L198.71,259.14 L196.23,259.31 L193.75,259.48 L191.26,259.64 L188.76,259.80 L186.26,259.96 L183.74,260.12 L181.22,260.28 L178.69,260.43 L176.16,260.59 L173.61,260.74 L171.06,260.89 L168.50,261.04 L165.93,261.19 L163.35,261.34 L160.77,261.48 L158.17,261.63 L155.57,261.77 L152.96,261.91 L150.35,262.05 L147.72,262.19 L145.09,262.33 L142.45,262.46 L139.80,262.60 L137.14,262.73 L134.47,262.86 L131.80,263.00 Z" fill="none" stroke="#e16462" stroke-width="2.8" stroke-linejoin="round"/>
<path d="M136.80,245.91 L136.80,245.91 L136.80,245.90 L136.81,245.89 L136.82,245.88 L136.83,245.86 L136.85,245.83 L136.87,245.80 L136.89,245.76 L136.91,245.72 L136.94,245.67 L136.98,245.62 L137.01,245.55 L137.05,245.49 L137.10,245.41 L137.15,245.33 L137.20,245.24 L137.26,245.15 L137.32,245.05 L137.39,244.94 L137.46,244.82 L137.53,244.70 L137.61,244.57 L137.69,244.43 L137.78,244.29 L137.87,244.14 L137.97,243.98 L138.07,243.82 L138.18,243.64 L138.29,243.46 L138.40,243.27 L138.52,243.08 L138.65,242.88 L138.78,242.67 L138.91,242.45 L139.05,242.22 L139.19,241.99 L139.34,241.75 L139.49,241.50 L139.65,241.25 L139.82,240.99 L139.99,240.72 L140.16,240.44 L140.34,240.16 L140.52,239.86 L140.71,239.56 L140.90,239.26 L141.10,238.94 L141.31,238.62 L141.51,238.29 L141.73,237.95 L141.95,237.61 L142.17,237.26 L142.40,236.90 L142.64,236.53 L142.88,236.16 L143.12,235.78 L143.38,235.39 L143.63,235.00 L143.89,234.60 L144.16,234.19 L144.43,233.77 L144.71,233.35 L145.00,232.92 L145.28,232.48 L145.58,232.04 L145.88,231.59 L146.18,231.13 L146.49,230.67 L146.81,230.20 L147.13,229.72 L147.46,229.23 L147.79,228.74 L148.13,228.25 L148.48,227.75 L148.83,227.24 L149.18,226.72 L149.54,226.20 L149.91,225.67 L150.28,225.14 L150.66,224.60 L151.05,224.05 L151.44,223.50 L151.83,222.95 L152.23,222.38 L152.64,221.82 L153.05,221.24 L153.47,220.66 L153.90,220.08 L154.33,219.49 L154.76,218.90 L155.20,218.30 L155.65,217.69 L156.11,217.08 L156.56,216.47 L157.03,215.85 L157.50,215.22 L157.98,214.60 L158.46,213.96 L158.95,213.33 L159.45,212.68 L159.95,212.04 L160.46,211.39 L160.97,210.73 L161.49,210.08 L162.01,209.41 L162.54,208.75 L163.08,208.08 L163.63,207.40 L164.17,206.73 L164.73,206.05 L165.29,205.36 L165.86,204.68 L166.43,203.99 L167.01,203.30 L167.60,202.60 L168.19,201.90 L168.79,201.20 L169.39,200.50 L170.01,199.79 L170.62,199.08 L171.25,198.37 L171.88,197.66 L172.51,196.94 L173.15,196.22 L173.80,195.50 L174.46,194.78 L175.12,194.06 L175.78,193.33 L176.46,192.60 L177.14,191.88 L177.82,191.15 L178.51,190.42 L179.21,189.68 L179.92,188.95 L180.63,188.21 L181.34,187.48 L182.07,186.74 L182.80,186.01 L183.54,185.27 L184.28,184.53 L185.03,183.79 L185.78,183.05 L186.54,182.31 L187.31,181.57 L188.09,180.83 L188.87,180.09 L189.66,179.35 L190.45,178.61 L191.25,177.87 L192.06,177.13 L192.87,176.39 L193.69,175.65 L194.52,174.91 L195.35,174.17 L196.19,173.44 L197.04,172.70 L197.89,171.96 L198.75,171.23 L199.62,170.50 L200.49,169.76 L201.37,169.03 L202.26,168.30 L203.15,167.57 L204.05,166.84 L204.95,166.12 L205.86,165.39 L206.78,164.67 L207.71,163.95 L208.64,163.23 L209.58,162.51 L210.52,161.79 L211.47,161.08 L212.43,160.36 L213.40,159.65 L214.37,158.94 L215.35,158.24 L216.33,157.53 L217.33,156.83 L218.32,156.13 L219.33,155.43 L220.34,154.74 L221.36,154.05 L222.39,153.36 L223.42,152.67 L224.46,151.98 L225.50,151.30 L226.56,150.62 L227.61,149.94 L228.68,149.27 L229.75,148.60 L230.83,147.93 L231.92,147.26 L233.01,146.60 L234.11,145.94 L235.22,145.28 L236.33,144.63 L237.46,143.98 L238.58,143.33 L239.72,142.69 L240.86,142.05 L242.01,141.41 L243.16,140.77 L244.32,140.14 L245.49,139.51 L246.67,138.89 L247.85,138.27 L249.04,137.65 L250.24,137.04 L251.44,136.43 L252.65,135.82 L253.87,135.21 L255.09,134.61 L256.32,134.02 L257.56,133.42 L258.80,132.83 L260.06,132.25 L261.31,131.66 L262.58,131.08 L263.85,130.51 L265.13,129.93 L266.42,129.37 L267.71,128.80 L269.02,128.24 L270.32,127.68 L271.64,127.13 L272.96,126.58 L274.29,126.03 L275.62,125.49 L276.97,124.95 L278.32,124.41 L279.68,123.88 L281.04,123.35 L282.41,122.83 L283.79,122.31 L285.17,121.79 L286.57,121.28 L287.97,120.77 L289.37,120.26 L290.79,119.76 L292.21,119.26 L293.64,118.77 L295.07,118.28 L296.51,117.79 L297.96,117.30 L299.42,116.82 L300.88,116.35 L302.36,115.87 L303.83,115.40 L305.32,114.94 L306.81,114.48 L308.31,114.02 L309.82,113.56 L311.33,113.11 L312.85,112.66 L314.38,112.22 L315.92,111.78 L317.46,111.34 L319.01,110.91 L320.57,110.48 L322.13,110.05 L323.70,109.63 L325.28,109.21 L326.87,108.79 L328.46,108.38 L330.06,107.97 L331.67,107.56 L333.29,107.16 L334.91,106.76 L336.54,106.36 L338.18,105.97 L339.82,105.58 L341.47,105.20 L343.13,104.81 L344.80,104.43 L346.47,104.06 L348.15,103.68 L349.84,103.31 L351.54,102.95 L353.24,102.58 L354.95,102.22 L356.67,101.87 L358.39,101.51 L360.13,101.16 L361.87,100.81 L363.61,100.47 L365.37,100.13 L367.13,99.79 L368.90,99.45 L370.68,99.12 L372.46,98.79 L374.25,98.47 L376.05,98.14 L377.86,97.82 L379.67,97.50 L381.49,97.19 L383.32,96.88 L385.16,96.57 L387.00,96.26 L388.85,95.96 L390.71,95.66 L392.57,95.36 L394.45,95.07 L396.33,94.77 L398.22,94.48 L400.11,94.20 L402.01,93.91 L403.93,93.63 L405.84,93.35 L407.77,93.08 L409.70,92.80 L411.64,92.53 L413.59,92.27 L415.55,92.00 L417.51,91.74 L419.48,91.48 L421.46,91.22 L423.44,90.97 L425.44,90.71 L427.44,90.46 L429.44,90.22 L431.46,89.97 L433.48,89.73 L435.51,89.49 L437.55,89.25 L439.60,89.02 L441.65,88.78 L443.71,88.55 L445.78,88.33 L447.86,88.10 L449.94,87.88 L452.03,87.66 L454.13,87.44 L456.24,87.23 L458.35,87.01 L460.47,86.80 L462.60,86.59 L464.74,86.39 L466.89,86.18 L469.04,85.98 L471.20,85.78 L473.37,85.59 L475.54,85.39 L477.72,85.20 L479.91,85.01 L482.11,84.82 L484.32,84.64 L486.53,84.46 L488.75,84.28 L490.98,84.10 L493.22,83.92 L495.46,83.75 L497.71,83.58 L499.97,83.41 L502.24,83.24 L504.52,83.08 L506.80,82.92 L509.09,82.76 L511.39,82.60 L513.69,82.44 L516.01,82.29 L518.33,82.14 L520.66,81.99 L522.99,81.85 L525.34,81.70 L527.69,81.56 L530.05,81.42 L532.42,81.28 L534.79,81.15 L537.18,81.02 L539.57,80.89 L541.97,80.76 L544.37,80.63 L546.79,80.51 L549.21,80.39 L551.64,80.27 L554.08,80.16 L556.52,80.04 L558.97,79.93 L561.44,79.82 L563.90,79.71 L566.38,79.61 L568.87,79.51 L571.36,79.41 L573.86,79.31 L576.37,79.22 L578.88,79.12 L581.40,79.03 L583.94,78.95 L586.48,78.86 L589.02,78.78 L591.58,78.70 L594.14,78.62 L596.71,78.54 L599.29,78.47 L601.88,78.40 L604.47,78.33 L607.07,78.26 L609.68,78.20 L612.30,78.14 L612.30,78.20 L612.30,78.59 L612.30,78.59 L612.30,78.60 L612.29,78.61 L612.28,78.63 L612.27,78.67 L612.25,78.71 L612.23,78.76 L612.21,78.81 L612.19,78.88 L612.16,78.96 L612.12,79.04 L612.09,79.14 L612.05,79.25 L612.00,79.36 L611.95,79.49 L611.90,79.63 L611.84,79.77 L611.78,79.93 L611.71,80.10 L611.64,80.28 L611.57,80.47 L611.49,80.67 L611.41,80.88 L611.32,81.10 L611.23,81.33 L611.13,81.57 L611.03,81.83 L610.92,82.09 L610.81,82.36 L610.70,82.65 L610.58,82.94 L610.45,83.25 L610.32,83.57 L610.19,83.89 L610.05,84.23 L609.91,84.57 L609.76,84.93 L609.61,85.30 L609.45,85.67 L609.28,86.06 L609.11,86.45 L608.94,86.86 L608.76,87.27 L608.58,87.70 L608.39,88.13 L608.20,88.57 L608.00,89.02 L607.79,89.48 L607.59,89.94 L607.37,90.42 L607.15,90.90 L606.93,91.39 L606.70,91.89 L606.46,92.40 L606.22,92.91 L605.98,93.43 L605.72,93.96 L605.47,94.49 L605.21,95.03 L604.94,95.58 L604.67,96.14 L604.39,96.70 L604.10,97.26 L603.82,97.83 L603.52,98.41 L603.22,98.99 L602.92,99.58 L602.61,100.17 L602.29,100.77 L601.97,101.37 L601.64,101.98 L601.31,102.59 L600.97,103.20 L600.62,103.82 L600.27,104.44 L599.92,105.07 L599.56,105.69 L599.19,106.32 L598.82,106.96 L598.44,107.59 L598.05,108.23 L597.66,108.87 L597.27,109.52 L596.87,110.16 L596.46,110.81 L596.05,111.46 L595.63,112.11 L595.20,112.76 L594.77,113.41 L594.34,114.06 L593.90,114.71 L593.45,115.37 L592.99,116.02 L592.54,116.68 L592.07,117.33 L591.60,117.99 L591.12,118.64 L590.64,119.30 L590.15,119.95 L589.65,120.61 L589.15,121.26 L588.64,121.91 L588.13,122.57 L587.61,123.22 L587.09,123.87 L586.56,124.52 L586.02,125.17 L585.47,125.81 L584.93,126.46 L584.37,127.10 L583.81,127.75 L583.24,128.39 L582.67,129.03 L582.09,129.66 L581.50,130.30 L580.91,130.94 L580.31,131.57 L579.71,132.20 L579.09,132.83 L578.48,133.46 L577.85,134.08 L577.22,134.70 L576.59,135.33 L575.95,135.94 L575.30,136.56 L574.64,137.18 L573.98,137.79 L573.32,138.40 L572.64,139.01 L571.96,139.62 L571.28,140.22 L570.59,140.82 L569.89,141.42 L569.18,142.02 L568.47,142.62 L567.76,143.21 L567.03,143.80 L566.30,144.39 L565.56,144.98 L564.82,145.56 L564.07,146.15 L563.32,146.73 L562.56,147.31 L561.79,147.88 L561.01,148.46 L560.23,149.03 L559.44,149.60 L558.65,150.17 L557.85,150.74 L557.04,151.30 L556.23,151.87 L555.41,152.43 L554.58,152.99 L553.75,153.55 L552.91,154.10 L552.06,154.66 L551.21,155.21 L550.35,155.76 L549.48,156.31 L548.61,156.86 L547.73,157.41 L546.84,157.95 L545.95,158.50 L545.05,159.04 L544.15,159.58 L543.24,160.12 L542.32,160.65 L541.39,161.19 L540.46,161.73 L539.52,162.26 L538.58,162.79 L537.63,163.32 L536.67,163.85 L535.70,164.38 L534.73,164.91 L533.75,165.43 L532.77,165.96 L531.77,166.48 L530.78,167.01 L529.77,167.53 L528.76,168.05 L527.74,168.57 L526.71,169.09 L525.68,169.60 L524.64,170.12 L523.60,170.64 L522.54,171.15 L521.49,171.66 L520.42,172.18 L519.35,172.69 L518.27,173.20 L517.18,173.71 L516.09,174.21 L514.99,174.72 L513.88,175.23 L512.77,175.73 L511.64,176.24 L510.52,176.74 L509.38,177.25 L508.24,177.75 L507.09,178.25 L505.94,178.75 L504.78,179.25 L503.61,179.75 L502.43,180.24 L501.25,180.74 L500.06,181.23 L498.86,181.73 L497.66,182.22 L496.45,182.71 L495.23,183.21 L494.01,183.70 L492.78,184.19 L491.54,184.67 L490.30,185.16 L489.04,185.65 L487.79,186.13 L486.52,186.62 L485.25,187.10 L483.97,187.58 L482.68,188.07 L481.39,188.55 L480.08,189.02 L478.78,189.50 L477.46,189.98 L476.14,190.45 L474.81,190.93 L473.48,191.40 L472.13,191.87 L470.78,192.35 L469.42,192.82 L468.06,193.28 L466.69,193.75 L465.31,194.22 L463.93,194.68 L462.53,195.15 L461.13,195.61 L459.73,196.07 L458.31,196.53 L456.89,196.99 L455.46,197.44 L454.03,197.90 L452.59,198.35 L451.14,198.80 L449.68,199.26 L448.22,199.70 L446.74,200.15 L445.27,200.60 L443.78,201.04 L442.29,201.49 L440.79,201.93 L439.28,202.37 L437.77,202.81 L436.25,203.25 L434.72,203.68 L433.18,204.12 L431.64,204.55 L430.09,204.98 L428.53,205.41 L426.97,205.84 L425.40,206.26 L423.82,206.69 L422.23,207.11 L420.64,207.53 L419.04,207.95 L417.43,208.36 L415.81,208.78 L414.19,209.19 L412.56,209.60 L410.92,210.01 L409.28,210.42 L407.63,210.83 L405.97,211.23 L404.30,211.63 L402.63,212.03 L400.95,212.43 L399.26,212.83 L397.56,213.22 L395.86,213.62 L394.15,214.01 L392.43,214.40 L390.71,214.78 L388.97,215.17 L387.23,215.55 L385.49,215.93 L383.73,216.31 L381.97,216.69 L380.20,217.06 L378.42,217.43 L376.64,217.80 L374.85,218.17 L373.05,218.54 L371.24,218.90 L369.43,219.27 L367.61,219.63 L365.78,219.98 L363.94,220.34 L362.10,220.69 L360.25,221.04 L358.39,221.39 L356.53,221.74 L354.65,222.09 L352.77,222.43 L350.88,222.77 L348.99,223.11 L347.09,223.45 L345.17,223.78 L343.26,224.11 L341.33,224.45 L339.40,224.77 L337.46,225.10 L335.51,225.42 L333.55,225.74 L331.59,226.06 L329.62,226.38 L327.64,226.70 L325.66,227.01 L323.66,227.32 L321.66,227.63 L319.66,227.94 L317.64,228.24 L315.62,228.54 L313.59,228.84 L311.55,229.14 L309.50,229.44 L307.45,229.73 L305.39,230.02 L303.32,230.31 L301.24,230.60 L299.16,230.88 L297.07,231.16 L294.97,231.44 L292.86,231.72 L290.75,232.00 L288.63,232.27 L286.50,232.54 L284.36,232.81 L282.21,233.08 L280.06,233.35 L277.90,233.61 L275.73,233.87 L273.56,234.13 L271.38,234.39 L269.19,234.64 L266.99,234.90 L264.78,235.15 L262.57,235.39 L260.35,235.64 L258.12,235.88 L255.88,236.13 L253.64,236.37 L251.39,236.61 L249.13,236.84 L246.86,237.08 L244.58,237.31 L242.30,237.54 L240.01,237.76 L237.71,237.99 L235.41,238.21 L233.09,238.44 L230.77,238.66 L228.44,238.87 L226.11,239.09 L223.76,239.30 L221.41,239.52 L219.05,239.73 L216.68,239.93 L214.31,240.14 L211.92,240.34 L209.53,240.55 L207.13,240.75 L204.73,240.94 L202.31,241.14 L199.89,241.33 L197.46,241.53 L195.02,241.72 L192.58,241.91 L190.13,242.09 L187.66,242.28 L185.20,242.46 L182.72,242.64 L180.23,242.82 L177.74,243.00 L175.24,243.18 L172.73,243.35 L170.22,243.52 L167.70,243.70 L165.16,243.86 L162.62,244.03 L160.08,244.20 L157.52,244.36 L154.96,244.52 L152.39,244.68 L149.81,244.84 L147.22,245.00 L144.63,245.16 L142.03,245.31 L139.42,245.46 L136.80,245.61 Z" fill="none" stroke="#fca636" stroke-width="2.8" stroke-linejoin="round"/>
<rect x="528.6" y="172.5" width="103.79999999999995" height="168.0" rx="4" fill="#fff" fill-opacity="0.8" stroke="#d6d6d6" stroke-width="1.1"/>
<text x="543" y="197.5" font-size="21.5" textLength="75" lengthAdjust="spacingAndGlyphs" fill="#1a1a1a" class="t">ν (V/s)</text>
<circle cx="553.5" cy="219.4" r="4.6" fill="#0d0887"/>
<text x="586" y="226.4" font-size="21.3" textLength="36.3" lengthAdjust="spacingAndGlyphs" fill="#1a1a1a" class="t">0.05</text>
<circle cx="553.5" cy="245.8" r="4.6" fill="#6a00a8"/>
<text x="586" y="252.8" font-size="21.3" textLength="27.5" lengthAdjust="spacingAndGlyphs" fill="#1a1a1a" class="t">0.1</text>
<circle cx="553.5" cy="272.2" r="4.6" fill="#b12a90"/>
<text x="586" y="279.2" font-size="21.3" textLength="27.5" lengthAdjust="spacingAndGlyphs" fill="#1a1a1a" class="t">0.2</text>
<circle cx="553.5" cy="298.7" r="4.6" fill="#e16462"/>
<text x="586" y="305.7" font-size="21.3" textLength="27.5" lengthAdjust="spacingAndGlyphs" fill="#1a1a1a" class="t">0.5</text>
<circle cx="553.5" cy="325.0" r="4.6" fill="#fca636"/>
<text x="586" y="332.0" font-size="21.3" textLength="9.5" lengthAdjust="spacingAndGlyphs" fill="#1a1a1a" class="t">1</text>
<line x1="107.4" y1="1.9000000000000001" x2="107.4" y2="350.09999999999997" stroke="#7c7c7c" stroke-width="1.8"/>
<line x1="641.5" y1="1.9000000000000001" x2="641.5" y2="350.09999999999997" stroke="#7c7c7c" stroke-width="1.8"/>
<line x1="106.7" y1="2.6" x2="642.2" y2="2.6" stroke="#404040" stroke-width="1.5"/>
<line x1="106.7" y1="349.4" x2="642.2" y2="349.4" stroke="#404040" stroke-width="1.5"/>
<line x1="183.30" y1="349.4" x2="183.30" y2="355.4" stroke="#262626" stroke-width="1.3"/>
<text x="183.30" y="374.2" font-size="21.3" text-anchor="middle" textLength="45" lengthAdjust="spacingAndGlyphs" fill="#1a1a1a" class="t">0.08</text>
<line x1="280.58" y1="349.4" x2="280.58" y2="355.4" stroke="#262626" stroke-width="1.3"/>
<text x="280.58" y="374.2" font-size="21.3" text-anchor="middle" textLength="45" lengthAdjust="spacingAndGlyphs" fill="#1a1a1a" class="t">0.09</text>
<line x1="377.86" y1="349.4" x2="377.86" y2="355.4" stroke="#262626" stroke-width="1.3"/>
<text x="377.86" y="374.2" font-size="21.3" text-anchor="middle" textLength="45" lengthAdjust="spacingAndGlyphs" fill="#1a1a1a" class="t">0.10</text>
<line x1="475.14" y1="349.4" x2="475.14" y2="355.4" stroke="#262626" stroke-width="1.3"/>
<text x="475.14" y="374.2" font-size="21.3" text-anchor="middle" textLength="45" lengthAdjust="spacingAndGlyphs" fill="#1a1a1a" class="t">0.11</text>
<line x1="572.42" y1="349.4" x2="572.42" y2="355.4" stroke="#262626" stroke-width="1.3"/>
<text x="572.42" y="374.2" font-size="21.3" text-anchor="middle" textLength="45" lengthAdjust="spacingAndGlyphs" fill="#1a1a1a" class="t">0.12</text>
<line x1="102.4" y1="48.60" x2="107.4" y2="48.60" stroke="#262626" stroke-width="1.3"/>
<text x="97.5" y="56.80" font-size="21.3" text-anchor="end" textLength="31" lengthAdjust="spacingAndGlyphs" fill="#1a1a1a" class="t">1.0</text>
<line x1="102.4" y1="104.90" x2="107.4" y2="104.90" stroke="#262626" stroke-width="1.3"/>
<text x="97.5" y="113.10" font-size="21.3" text-anchor="end" textLength="31" lengthAdjust="spacingAndGlyphs" fill="#1a1a1a" class="t">0.5</text>
<line x1="102.4" y1="161.20" x2="107.4" y2="161.20" stroke="#262626" stroke-width="1.3"/>
<text x="97.5" y="169.40" font-size="21.3" text-anchor="end" textLength="31" lengthAdjust="spacingAndGlyphs" fill="#1a1a1a" class="t">0.0</text>
<line x1="102.4" y1="217.50" x2="107.4" y2="217.50" stroke="#262626" stroke-width="1.3"/>
<text x="97.5" y="225.70" font-size="21.3" text-anchor="end" textLength="47" lengthAdjust="spacingAndGlyphs" fill="#1a1a1a" class="t">−0.5</text>
<line x1="102.4" y1="273.80" x2="107.4" y2="273.80" stroke="#262626" stroke-width="1.3"/>
<text x="97.5" y="282.00" font-size="21.3" text-anchor="end" textLength="47" lengthAdjust="spacingAndGlyphs" fill="#1a1a1a" class="t">−1.0</text>
<line x1="102.4" y1="330.10" x2="107.4" y2="330.10" stroke="#262626" stroke-width="1.3"/>
<text x="97.5" y="338.30" font-size="21.3" text-anchor="end" textLength="47" lengthAdjust="spacingAndGlyphs" fill="#1a1a1a" class="t">−1.5</text>
<text x="302.6" y="400.4" font-size="22.6" textLength="141.5" lengthAdjust="spacingAndGlyphs" fill="#1a1a1a" class="t">E (V vs RHE)</text>
<text transform="translate(38.0,219.8) rotate(-90)" x="0" y="0" font-size="22.6" textLength="86.3" lengthAdjust="spacingAndGlyphs" fill="#1a1a1a" class="t">I/ν (mF)</text>
<rect x="121.8" y="19.9" width="65.89999999999999" height="32.300000000000004" rx="4" fill="#f9eedb" stroke="#7d7566" stroke-width="1.3"/>
<text x="129" y="42.2" font-size="21.3" textLength="53" lengthAdjust="spacingAndGlyphs" fill="#1a1a1a" class="t">0.1 V</text>
<text x="2.2" y="31.0" font-size="37.5" font-weight="bold" fill="#000" stroke="#000" stroke-width="0.9" textLength="26.5" lengthAdjust="spacingAndGlyphs">A</text>
<text x="29.5" y="31.5" font-size="41" font-weight="bold" fill="#000" stroke="#000" stroke-width="0.6" textLength="11" lengthAdjust="spacingAndGlyphs">)</text>
<rect x="107.2" y="432.5" width="533.5999999999999" height="346.0" fill="#fff"/>
<g fill="#0d0887"><circle cx="139.3" cy="626.0" r="4.6"/><circle cx="149.1" cy="565.2" r="4.6"/><circle cx="158.8" cy="544.9" r="4.6"/><circle cx="168.6" cy="534.1" r="4.6"/><circle cx="178.3" cy="527.0" r="4.6"/><circle cx="188.1" cy="520.3" r="4.6"/><circle cx="197.8" cy="515.9" r="4.6"/><circle cx="207.6" cy="512.4" r="4.6"/><circle cx="217.3" cy="506.5" r="4.6"/><circle cx="227.1" cy="502.7" r="4.6"/><circle cx="236.8" cy="500.4" r="4.6"/><circle cx="246.6" cy="497.3" r="4.6"/><circle cx="256.3" cy="494.4" r="4.6"/><circle cx="266.1" cy="491.0" r="4.6"/><circle cx="275.8" cy="489.6" r="4.6"/><circle cx="285.6" cy="488.2" r="4.6"/><circle cx="295.3" cy="484.4" r="4.6"/><circle cx="305.1" cy="483.4" r="4.6"/><circle cx="314.8" cy="480.4" r="4.6"/><circle cx="324.6" cy="479.3" r="4.6"/><circle cx="334.3" cy="477.3" r="4.6"/><circle cx="344.1" cy="477.3" r="4.6"/><circle cx="353.8" cy="474.9" r="4.6"/><circle cx="363.6" cy="475.0" r="4.6"/><circle cx="373.3" cy="473.5" r="4.6"/><circle cx="383.1" cy="471.9" r="4.6"/><circle cx="392.8" cy="468.6" r="4.6"/><circle cx="402.6" cy="469.1" r="4.6"/><circle cx="412.3" cy="468.3" r="4.6"/><circle cx="422.1" cy="467.2" r="4.6"/><circle cx="431.8" cy="464.6" r="4.6"/><circle cx="441.6" cy="464.3" r="4.6"/><circle cx="451.3" cy="462.7" r="4.6"/><circle cx="461.1" cy="461.7" r="4.6"/><circle cx="470.8" cy="462.2" r="4.6"/><circle cx="480.6" cy="459.4" r="4.6"/><circle cx="490.3" cy="459.0" r="4.6"/><circle cx="500.1" cy="458.7" r="4.6"/><circle cx="509.8" cy="456.2" r="4.6"/><circle cx="519.5" cy="455.5" r="4.6"/><circle cx="529.3" cy="454.6" r="4.6"/><circle cx="539.0" cy="453.4" r="4.6"/><circle cx="548.8" cy="451.1" r="4.6"/><circle cx="558.5" cy="451.2" r="4.6"/><circle cx="568.3" cy="451.2" r="4.6"/><circle cx="578.0" cy="447.5" r="4.6"/><circle cx="587.8" cy="448.5" r="4.6"/><circle cx="597.1" cy="446.8" r="4.6"/></g>
<g fill="#0d0887"><circle cx="607.0" cy="599.4" r="4.6"/><circle cx="597.2" cy="647.2" r="4.6"/><circle cx="587.5" cy="666.5" r="4.6"/><circle cx="577.8" cy="676.0" r="4.6"/><circle cx="568.0" cy="685.0" r="4.6"/><circle cx="558.2" cy="691.6" r="4.6"/><circle cx="548.5" cy="696.2" r="4.6"/><circle cx="538.8" cy="701.6" r="4.6"/><circle cx="529.0" cy="705.0" r="4.6"/><circle cx="519.2" cy="709.4" r="4.6"/><circle cx="509.5" cy="713.4" r="4.6"/><circle cx="499.8" cy="714.5" r="4.6"/><circle cx="490.0" cy="718.1" r="4.6"/><circle cx="480.2" cy="720.0" r="4.6"/><circle cx="470.5" cy="722.8" r="4.6"/><circle cx="460.8" cy="723.8" r="4.6"/><circle cx="451.0" cy="726.3" r="4.6"/><circle cx="441.2" cy="728.5" r="4.6"/><circle cx="431.5" cy="731.3" r="4.6"/><circle cx="421.8" cy="733.1" r="4.6"/><circle cx="412.0" cy="732.5" r="4.6"/><circle cx="402.2" cy="734.4" r="4.6"/><circle cx="392.5" cy="737.1" r="4.6"/><circle cx="382.8" cy="736.1" r="4.6"/><circle cx="373.0" cy="738.8" r="4.6"/><circle cx="363.2" cy="740.4" r="4.6"/><circle cx="353.5" cy="742.8" r="4.6"/><circle cx="343.8" cy="743.5" r="4.6"/><circle cx="334.0" cy="743.7" r="4.6"/><circle cx="324.2" cy="744.8" r="4.6"/><circle cx="314.5" cy="746.1" r="4.6"/><circle cx="304.8" cy="748.7" r="4.6"/><circle cx="295.0" cy="748.1" r="4.6"/><circle cx="285.2" cy="749.3" r="4.6"/><circle cx="275.5" cy="750.9" r="4.6"/><circle cx="265.8" cy="751.5" r="4.6"/><circle cx="256.0" cy="752.5" r="4.6"/><circle cx="246.2" cy="752.7" r="4.6"/><circle cx="236.5" cy="754.7" r="4.6"/><circle cx="226.8" cy="755.3" r="4.6"/><circle cx="217.0" cy="757.8" r="4.6"/><circle cx="207.2" cy="758.3" r="4.6"/><circle cx="197.5" cy="758.7" r="4.6"/><circle cx="187.8" cy="760.3" r="4.6"/><circle cx="178.0" cy="760.4" r="4.6"/><circle cx="168.2" cy="762.7" r="4.6"/><circle cx="158.5" cy="762.7" r="4.6"/><circle cx="148.8" cy="764.2" r="4.6"/></g>
<g fill="#6a00a8"><circle cx="144.3" cy="565.5" r="4.6"/><circle cx="154.1" cy="550.6" r="4.6"/><circle cx="163.8" cy="541.2" r="4.6"/><circle cx="173.6" cy="534.8" r="4.6"/><circle cx="183.3" cy="530.9" r="4.6"/><circle cx="193.1" cy="525.4" r="4.6"/><circle cx="202.8" cy="522.0" r="4.6"/><circle cx="212.6" cy="519.9" r="4.6"/><circle cx="222.3" cy="513.6" r="4.6"/><circle cx="232.1" cy="510.5" r="4.6"/><circle cx="241.8" cy="508.3" r="4.6"/><circle cx="251.6" cy="505.9" r="4.6"/><circle cx="261.3" cy="502.9" r="4.6"/><circle cx="271.1" cy="500.6" r="4.6"/><circle cx="280.8" cy="499.4" r="4.6"/><circle cx="290.6" cy="497.3" r="4.6"/><circle cx="300.3" cy="494.1" r="4.6"/><circle cx="310.1" cy="493.3" r="4.6"/><circle cx="319.8" cy="491.9" r="4.6"/><circle cx="329.6" cy="489.4" r="4.6"/><circle cx="339.3" cy="489.2" r="4.6"/><circle cx="349.1" cy="486.9" r="4.6"/><circle cx="358.8" cy="487.3" r="4.6"/><circle cx="368.6" cy="485.4" r="4.6"/><circle cx="378.3" cy="484.2" r="4.6"/><circle cx="388.1" cy="482.5" r="4.6"/><circle cx="397.8" cy="481.8" r="4.6"/><circle cx="407.6" cy="479.1" r="4.6"/><circle cx="417.3" cy="478.9" r="4.6"/><circle cx="427.1" cy="479.3" r="4.6"/><circle cx="436.8" cy="476.1" r="4.6"/><circle cx="446.6" cy="477.8" r="4.6"/><circle cx="456.3" cy="474.5" r="4.6"/><circle cx="466.1" cy="475.9" r="4.6"/><circle cx="475.8" cy="473.5" r="4.6"/><circle cx="485.6" cy="474.1" r="4.6"/><circle cx="495.3" cy="472.7" r="4.6"/><circle cx="505.1" cy="470.3" r="4.6"/><circle cx="514.8" cy="472.0" r="4.6"/><circle cx="524.5" cy="471.3" r="4.6"/><circle cx="534.3" cy="469.1" r="4.6"/><circle cx="544.0" cy="468.1" r="4.6"/><circle cx="553.8" cy="467.3" r="4.6"/><circle cx="563.5" cy="465.8" r="4.6"/><circle cx="573.3" cy="466.8" r="4.6"/><circle cx="583.0" cy="464.5" r="4.6"/><circle cx="592.8" cy="464.1" r="4.6"/><circle cx="602.2" cy="462.7" r="4.6"/></g>
<g fill="#6a00a8"><circle cx="609.4" cy="575.4" r="4.6"/><circle cx="599.6" cy="630.4" r="4.6"/><circle cx="589.9" cy="656.6" r="4.6"/><circle cx="580.1" cy="667.7" r="4.6"/><circle cx="570.4" cy="676.7" r="4.6"/><circle cx="560.6" cy="681.9" r="4.6"/><circle cx="550.9" cy="686.2" r="4.6"/><circle cx="541.1" cy="690.8" r="4.6"/><circle cx="531.4" cy="694.3" r="4.6"/><circle cx="521.6" cy="698.2" r="4.6"/><circle cx="511.9" cy="700.8" r="4.6"/><circle cx="502.1" cy="703.6" r="4.6"/><circle cx="492.4" cy="705.0" r="4.6"/><circle cx="482.6" cy="707.8" r="4.6"/><circle cx="472.9" cy="712.0" r="4.6"/><circle cx="463.1" cy="711.8" r="4.6"/><circle cx="453.4" cy="713.2" r="4.6"/><circle cx="443.6" cy="716.0" r="4.6"/><circle cx="433.9" cy="718.5" r="4.6"/><circle cx="424.1" cy="717.3" r="4.6"/><circle cx="414.4" cy="719.7" r="4.6"/><circle cx="404.6" cy="720.6" r="4.6"/><circle cx="394.9" cy="720.8" r="4.6"/><circle cx="385.1" cy="724.2" r="4.6"/><circle cx="375.4" cy="724.6" r="4.6"/><circle cx="365.6" cy="725.7" r="4.6"/><circle cx="355.9" cy="726.0" r="4.6"/><circle cx="346.1" cy="728.1" r="4.6"/><circle cx="336.4" cy="728.2" r="4.6"/><circle cx="326.6" cy="729.5" r="4.6"/><circle cx="316.9" cy="729.6" r="4.6"/><circle cx="307.1" cy="730.4" r="4.6"/><circle cx="297.4" cy="733.6" r="4.6"/><circle cx="287.6" cy="732.9" r="4.6"/><circle cx="277.9" cy="734.5" r="4.6"/><circle cx="268.1" cy="735.1" r="4.6"/><circle cx="258.4" cy="735.6" r="4.6"/><circle cx="248.6" cy="736.4" r="4.6"/><circle cx="238.9" cy="738.3" r="4.6"/><circle cx="229.1" cy="738.3" r="4.6"/><circle cx="219.4" cy="739.3" r="4.6"/><circle cx="209.6" cy="740.3" r="4.6"/><circle cx="199.9" cy="742.2" r="4.6"/><circle cx="190.1" cy="742.6" r="4.6"/><circle cx="180.4" cy="743.2" r="4.6"/><circle cx="170.6" cy="743.2" r="4.6"/><circle cx="160.9" cy="743.3" r="4.6"/><circle cx="151.1" cy="746.2" r="4.6"/><circle cx="141.4" cy="747.1" r="4.6"/></g>
<g fill="#b12a90"><circle cx="150.0" cy="580.2" r="4.6"/><circle cx="159.8" cy="553.7" r="4.6"/><circle cx="169.5" cy="543.2" r="4.6"/><circle cx="179.2" cy="537.4" r="4.6"/><circle cx="189.0" cy="533.1" r="4.6"/><circle cx="198.8" cy="528.2" r="4.6"/><circle cx="208.5" cy="526.7" r="4.6"/><circle cx="218.2" cy="521.2" r="4.6"/><circle cx="228.0" cy="520.4" r="4.6"/><circle cx="237.8" cy="517.5" r="4.6"/><circle cx="247.5" cy="515.4" r="4.6"/><circle cx="257.2" cy="514.2" r="4.6"/><circle cx="267.0" cy="511.8" r="4.6"/><circle cx="276.8" cy="507.5" r="4.6"/><circle cx="286.5" cy="505.2" r="4.6"/><circle cx="296.2" cy="505.8" r="4.6"/><circle cx="306.0" cy="502.6" r="4.6"/><circle cx="315.8" cy="502.1" r="4.6"/><circle cx="325.5" cy="501.4" r="4.6"/><circle cx="335.2" cy="497.9" r="4.6"/><circle cx="345.0" cy="496.2" r="4.6"/><circle cx="354.8" cy="497.2" r="4.6"/><circle cx="364.5" cy="495.9" r="4.6"/><circle cx="374.2" cy="494.6" r="4.6"/><circle cx="384.0" cy="493.8" r="4.6"/><circle cx="393.8" cy="492.0" r="4.6"/><circle cx="403.5" cy="490.5" r="4.6"/><circle cx="413.2" cy="490.8" r="4.6"/><circle cx="423.0" cy="489.2" r="4.6"/><circle cx="432.8" cy="487.7" r="4.6"/><circle cx="442.5" cy="488.8" r="4.6"/><circle cx="452.2" cy="487.5" r="4.6"/><circle cx="462.0" cy="487.1" r="4.6"/><circle cx="471.8" cy="485.1" r="4.6"/><circle cx="481.5" cy="484.7" r="4.6"/><circle cx="491.2" cy="483.6" r="4.6"/><circle cx="501.0" cy="483.0" r="4.6"/><circle cx="510.8" cy="483.3" r="4.6"/><circle cx="520.5" cy="481.7" r="4.6"/><circle cx="530.2" cy="482.1" r="4.6"/><circle cx="540.0" cy="481.4" r="4.6"/><circle cx="549.8" cy="482.2" r="4.6"/><circle cx="559.5" cy="478.5" r="4.6"/><circle cx="569.2" cy="479.9" r="4.6"/><circle cx="579.0" cy="478.3" r="4.6"/><circle cx="588.8" cy="477.8" r="4.6"/><circle cx="598.5" cy="475.8" r="4.6"/><circle cx="608.2" cy="476.1" r="4.6"/></g>
<g fill="#b12a90"><circle cx="615.4" cy="585.5" r="4.6"/><circle cx="605.6" cy="621.6" r="4.6"/><circle cx="595.9" cy="642.0" r="4.6"/><circle cx="586.1" cy="653.9" r="4.6"/><circle cx="576.4" cy="663.5" r="4.6"/><circle cx="566.6" cy="668.6" r="4.6"/><circle cx="556.9" cy="671.6" r="4.6"/><circle cx="547.1" cy="677.3" r="4.6"/><circle cx="537.4" cy="679.9" r="4.6"/><circle cx="527.6" cy="682.1" r="4.6"/><circle cx="517.9" cy="687.6" r="4.6"/><circle cx="508.1" cy="692.0" r="4.6"/><circle cx="498.4" cy="693.4" r="4.6"/><circle cx="488.6" cy="694.6" r="4.6"/><circle cx="478.9" cy="697.0" r="4.6"/><circle cx="469.1" cy="700.8" r="4.6"/><circle cx="459.4" cy="701.7" r="4.6"/><circle cx="449.6" cy="703.3" r="4.6"/><circle cx="439.9" cy="704.8" r="4.6"/><circle cx="430.1" cy="706.3" r="4.6"/><circle cx="420.4" cy="708.3" r="4.6"/><circle cx="410.6" cy="709.4" r="4.6"/><circle cx="400.9" cy="710.3" r="4.6"/><circle cx="391.1" cy="710.2" r="4.6"/><circle cx="381.4" cy="712.7" r="4.6"/><circle cx="371.6" cy="712.6" r="4.6"/><circle cx="361.9" cy="715.2" r="4.6"/><circle cx="352.1" cy="714.0" r="4.6"/><circle cx="342.4" cy="715.9" r="4.6"/><circle cx="332.6" cy="716.8" r="4.6"/><circle cx="322.9" cy="716.4" r="4.6"/><circle cx="313.1" cy="720.0" r="4.6"/><circle cx="303.4" cy="720.5" r="4.6"/><circle cx="293.6" cy="719.5" r="4.6"/><circle cx="283.9" cy="721.3" r="4.6"/><circle cx="274.1" cy="721.6" r="4.6"/><circle cx="264.4" cy="719.6" r="4.6"/><circle cx="254.6" cy="722.9" r="4.6"/><circle cx="244.9" cy="723.2" r="4.6"/><circle cx="235.1" cy="724.0" r="4.6"/><circle cx="225.4" cy="723.6" r="4.6"/><circle cx="215.6" cy="724.9" r="4.6"/><circle cx="205.9" cy="725.6" r="4.6"/><circle cx="196.1" cy="727.4" r="4.6"/><circle cx="186.4" cy="727.3" r="4.6"/><circle cx="176.6" cy="727.6" r="4.6"/><circle cx="166.9" cy="729.5" r="4.6"/><circle cx="157.1" cy="728.2" r="4.6"/><circle cx="147.4" cy="729.0" r="4.6"/><circle cx="137.6" cy="728.2" r="4.6"/></g>
<g fill="#e16462"><circle cx="130.6" cy="694.4" r="4.6"/><circle cx="140.3" cy="622.3" r="4.6"/><circle cx="150.1" cy="583.5" r="4.6"/><circle cx="159.8" cy="561.9" r="4.6"/><circle cx="169.6" cy="549.3" r="4.6"/><circle cx="179.3" cy="542.2" r="4.6"/><circle cx="189.1" cy="537.2" r="4.6"/><circle cx="198.8" cy="534.1" r="4.6"/><circle cx="208.6" cy="531.9" r="4.6"/><circle cx="218.3" cy="531.3" r="4.6"/><circle cx="228.1" cy="528.7" r="4.6"/><circle cx="237.8" cy="526.5" r="4.6"/><circle cx="247.6" cy="524.5" r="4.6"/><circle cx="257.4" cy="523.0" r="4.6"/><circle cx="267.1" cy="523.7" r="4.6"/><circle cx="276.9" cy="521.3" r="4.6"/><circle cx="286.6" cy="519.6" r="4.6"/><circle cx="296.4" cy="518.0" r="4.6"/><circle cx="306.1" cy="516.0" r="4.6"/><circle cx="315.9" cy="515.7" r="4.6"/><circle cx="325.6" cy="515.4" r="4.6"/><circle cx="335.4" cy="513.1" r="4.6"/><circle cx="345.1" cy="512.1" r="4.6"/><circle cx="354.9" cy="511.0" r="4.6"/><circle cx="364.6" cy="510.3" r="4.6"/><circle cx="374.4" cy="507.7" r="4.6"/><circle cx="384.1" cy="507.9" r="4.6"/><circle cx="393.9" cy="506.4" r="4.6"/><circle cx="403.6" cy="507.0" r="4.6"/><circle cx="413.4" cy="504.6" r="4.6"/><circle cx="423.1" cy="505.0" r="4.6"/><circle cx="432.9" cy="505.0" r="4.6"/><circle cx="442.6" cy="502.5" r="4.6"/><circle cx="452.4" cy="501.5" r="4.6"/><circle cx="462.1" cy="501.5" r="4.6"/><circle cx="471.9" cy="500.6" r="4.6"/><circle cx="481.6" cy="499.0" r="4.6"/><circle cx="491.4" cy="499.6" r="4.6"/><circle cx="501.1" cy="500.4" r="4.6"/><circle cx="510.9" cy="497.8" r="4.6"/><circle cx="520.6" cy="497.3" r="4.6"/><circle cx="530.4" cy="496.0" r="4.6"/><circle cx="540.1" cy="496.7" r="4.6"/><circle cx="549.9" cy="494.8" r="4.6"/><circle cx="559.6" cy="494.5" r="4.6"/><circle cx="569.4" cy="496.2" r="4.6"/><circle cx="579.1" cy="493.9" r="4.6"/><circle cx="588.9" cy="495.3" r="4.6"/><circle cx="598.6" cy="495.4" r="4.6"/><circle cx="608.4" cy="494.0" r="4.6"/><circle cx="617.4" cy="494.0" r="4.6"/></g>
<g fill="#e16462"><circle cx="607.0" cy="596.7" r="4.6"/><circle cx="597.2" cy="630.3" r="4.6"/><circle cx="587.5" cy="646.6" r="4.6"/><circle cx="577.8" cy="654.6" r="4.6"/><circle cx="568.0" cy="661.3" r="4.6"/><circle cx="558.2" cy="666.5" r="4.6"/><circle cx="548.5" cy="669.3" r="4.6"/><circle cx="538.8" cy="670.4" r="4.6"/><circle cx="529.0" cy="673.0" r="4.6"/><circle cx="519.2" cy="675.7" r="4.6"/><circle cx="509.5" cy="678.6" r="4.6"/><circle cx="499.8" cy="680.2" r="4.6"/><circle cx="490.0" cy="682.5" r="4.6"/><circle cx="480.2" cy="684.4" r="4.6"/><circle cx="470.5" cy="685.6" r="4.6"/><circle cx="460.8" cy="687.4" r="4.6"/><circle cx="451.0" cy="689.2" r="4.6"/><circle cx="441.2" cy="690.3" r="4.6"/><circle cx="431.5" cy="692.2" r="4.6"/><circle cx="421.8" cy="694.8" r="4.6"/><circle cx="412.0" cy="694.8" r="4.6"/><circle cx="402.2" cy="695.5" r="4.6"/><circle cx="392.5" cy="695.1" r="4.6"/><circle cx="382.8" cy="698.0" r="4.6"/><circle cx="373.0" cy="696.9" r="4.6"/><circle cx="363.2" cy="698.3" r="4.6"/><circle cx="353.5" cy="701.3" r="4.6"/><circle cx="343.8" cy="702.1" r="4.6"/><circle cx="334.0" cy="702.1" r="4.6"/><circle cx="324.2" cy="701.6" r="4.6"/><circle cx="314.5" cy="703.6" r="4.6"/><circle cx="304.8" cy="704.0" r="4.6"/><circle cx="295.0" cy="706.0" r="4.6"/><circle cx="285.2" cy="708.1" r="4.6"/><circle cx="275.5" cy="707.0" r="4.6"/><circle cx="265.8" cy="706.8" r="4.6"/><circle cx="256.0" cy="707.1" r="4.6"/><circle cx="246.2" cy="708.7" r="4.6"/><circle cx="236.5" cy="709.2" r="4.6"/><circle cx="226.8" cy="709.0" r="4.6"/><circle cx="217.0" cy="710.7" r="4.6"/><circle cx="207.2" cy="710.2" r="4.6"/><circle cx="197.5" cy="712.8" r="4.6"/><circle cx="187.8" cy="713.3" r="4.6"/><circle cx="178.0" cy="713.9" r="4.6"/><circle cx="168.2" cy="713.0" r="4.6"/><circle cx="158.5" cy="714.4" r="4.6"/><circle cx="148.8" cy="714.4" r="4.6"/><circle cx="141.8" cy="714.5" r="4.6"/></g>
<g fill="#fca636"><circle cx="131.8" cy="615.9" r="4.6"/><circle cx="141.6" cy="598.7" r="4.6"/><circle cx="151.3" cy="585.6" r="4.6"/><circle cx="161.1" cy="577.3" r="4.6"/><circle cx="170.8" cy="568.1" r="4.6"/><circle cx="180.6" cy="561.7" r="4.6"/><circle cx="190.3" cy="556.9" r="4.6"/><circle cx="200.1" cy="549.9" r="4.6"/><circle cx="209.8" cy="546.9" r="4.6"/><circle cx="219.6" cy="544.5" r="4.6"/><circle cx="229.3" cy="542.0" r="4.6"/><circle cx="239.1" cy="538.9" r="4.6"/><circle cx="248.8" cy="538.0" r="4.6"/><circle cx="258.6" cy="535.4" r="4.6"/><circle cx="268.3" cy="532.3" r="4.6"/><circle cx="278.1" cy="531.0" r="4.6"/><circle cx="287.8" cy="531.1" r="4.6"/><circle cx="297.6" cy="529.4" r="4.6"/><circle cx="307.3" cy="526.0" r="4.6"/><circle cx="317.1" cy="527.7" r="4.6"/><circle cx="326.8" cy="525.9" r="4.6"/><circle cx="336.6" cy="525.4" r="4.6"/><circle cx="346.3" cy="522.8" r="4.6"/><circle cx="356.1" cy="521.8" r="4.6"/><circle cx="365.8" cy="520.1" r="4.6"/><circle cx="375.6" cy="522.4" r="4.6"/><circle cx="385.3" cy="519.0" r="4.6"/><circle cx="395.1" cy="519.7" r="4.6"/><circle cx="404.8" cy="516.8" r="4.6"/><circle cx="414.6" cy="516.6" r="4.6"/><circle cx="424.3" cy="514.1" r="4.6"/><circle cx="434.1" cy="514.4" r="4.6"/><circle cx="443.8" cy="514.9" r="4.6"/><circle cx="453.6" cy="512.1" r="4.6"/><circle cx="463.3" cy="513.4" r="4.6"/><circle cx="473.1" cy="512.0" r="4.6"/><circle cx="482.8" cy="510.0" r="4.6"/><circle cx="492.6" cy="509.8" r="4.6"/><circle cx="502.3" cy="509.2" r="4.6"/><circle cx="512.0" cy="508.9" r="4.6"/><circle cx="521.8" cy="507.8" r="4.6"/><circle cx="531.5" cy="507.0" r="4.6"/><circle cx="541.3" cy="506.9" r="4.6"/><circle cx="551.0" cy="505.6" r="4.6"/><circle cx="560.8" cy="504.8" r="4.6"/><circle cx="570.5" cy="505.4" r="4.6"/><circle cx="580.3" cy="505.8" r="4.6"/><circle cx="590.0" cy="503.1" r="4.6"/><circle cx="599.8" cy="504.0" r="4.6"/></g>
<g fill="#fca636"><circle cx="600.0" cy="599.4" r="4.6"/><circle cx="590.2" cy="632.5" r="4.6"/><circle cx="580.5" cy="640.0" r="4.6"/><circle cx="570.8" cy="644.0" r="4.6"/><circle cx="561.0" cy="650.5" r="4.6"/><circle cx="551.2" cy="652.5" r="4.6"/><circle cx="541.5" cy="657.3" r="4.6"/><circle cx="531.8" cy="660.0" r="4.6"/><circle cx="522.0" cy="662.5" r="4.6"/><circle cx="512.2" cy="666.4" r="4.6"/><circle cx="502.5" cy="668.1" r="4.6"/><circle cx="492.8" cy="671.0" r="4.6"/><circle cx="483.0" cy="672.4" r="4.6"/><circle cx="473.2" cy="673.2" r="4.6"/><circle cx="463.5" cy="675.8" r="4.6"/><circle cx="453.8" cy="677.5" r="4.6"/><circle cx="444.0" cy="679.7" r="4.6"/><circle cx="434.2" cy="679.3" r="4.6"/><circle cx="424.5" cy="681.3" r="4.6"/><circle cx="414.8" cy="680.9" r="4.6"/><circle cx="405.0" cy="684.1" r="4.6"/><circle cx="395.2" cy="683.6" r="4.6"/><circle cx="385.5" cy="683.9" r="4.6"/><circle cx="375.8" cy="686.4" r="4.6"/><circle cx="366.0" cy="688.3" r="4.6"/><circle cx="356.2" cy="686.8" r="4.6"/><circle cx="346.5" cy="688.0" r="4.6"/><circle cx="336.8" cy="689.1" r="4.6"/><circle cx="327.0" cy="689.5" r="4.6"/><circle cx="317.2" cy="691.6" r="4.6"/><circle cx="307.5" cy="691.2" r="4.6"/><circle cx="297.8" cy="692.0" r="4.6"/><circle cx="288.0" cy="693.9" r="4.6"/><circle cx="278.2" cy="693.4" r="4.6"/><circle cx="268.5" cy="695.1" r="4.6"/><circle cx="258.8" cy="694.5" r="4.6"/><circle cx="249.0" cy="695.0" r="4.6"/><circle cx="239.2" cy="695.0" r="4.6"/><circle cx="229.5" cy="699.0" r="4.6"/><circle cx="219.8" cy="697.7" r="4.6"/><circle cx="210.0" cy="698.8" r="4.6"/><circle cx="200.2" cy="699.2" r="4.6"/><circle cx="190.5" cy="700.0" r="4.6"/><circle cx="180.8" cy="700.5" r="4.6"/><circle cx="171.0" cy="702.8" r="4.6"/><circle cx="161.2" cy="700.8" r="4.6"/><circle cx="151.5" cy="700.9" r="4.6"/><circle cx="141.8" cy="702.0" r="4.6"/><circle cx="132.0" cy="702.4" r="4.6"/></g>
<line x1="186.30" y1="432.5" x2="186.30" y2="778.5" stroke="#c4c4c4" stroke-width="1.1"/>
<line x1="283.80" y1="432.5" x2="283.80" y2="778.5" stroke="#c4c4c4" stroke-width="1.1"/>
<line x1="381.30" y1="432.5" x2="381.30" y2="778.5" stroke="#c4c4c4" stroke-width="1.1"/>
<line x1="478.80" y1="432.5" x2="478.80" y2="778.5" stroke="#c4c4c4" stroke-width="1.1"/>
<line x1="576.30" y1="432.5" x2="576.30" y2="778.5" stroke="#c4c4c4" stroke-width="1.1"/>
<line x1="107.2" y1="433.50" x2="640.8" y2="433.50" stroke="#c4c4c4" stroke-width="1.1"/>
<line x1="107.2" y1="518.85" x2="640.8" y2="518.85" stroke="#c4c4c4" stroke-width="1.1"/>
<line x1="107.2" y1="604.20" x2="640.8" y2="604.20" stroke="#c4c4c4" stroke-width="1.1"/>
<line x1="107.2" y1="689.55" x2="640.8" y2="689.55" stroke="#c4c4c4" stroke-width="1.1"/>
<line x1="107.2" y1="774.90" x2="640.8" y2="774.90" stroke="#c4c4c4" stroke-width="1.1"/>
<path d="M133.10,751.80 L133.10,751.73 L133.10,751.46 L133.11,750.98 L133.12,750.27 L133.13,749.30 L133.15,748.08 L133.17,746.60 L133.19,744.86 L133.21,742.86 L133.24,740.60 L133.28,738.08 L133.32,735.32 L133.36,732.32 L133.40,729.10 L133.45,725.65 L133.51,722.01 L133.56,718.17 L133.63,714.16 L133.69,709.99 L133.76,705.68 L133.84,701.24 L133.92,696.70 L134.00,692.07 L134.09,687.38 L134.18,682.63 L134.28,677.85 L134.39,673.06 L134.49,668.27 L134.60,663.50 L134.72,658.76 L134.84,654.08 L134.97,649.46 L135.10,644.93 L135.23,640.48 L135.37,636.14 L135.52,631.91 L135.67,627.80 L135.83,623.83 L135.99,619.98 L136.15,616.28 L136.32,612.72 L136.50,609.32 L136.68,606.06 L136.86,602.95 L137.05,599.99 L137.25,597.18 L137.45,594.51 L137.66,591.99 L137.87,589.61 L138.08,587.37 L138.31,585.26 L138.53,583.28 L138.77,581.41 L139.00,579.67 L139.25,578.03 L139.50,576.50 L139.75,575.06 L140.01,573.72 L140.27,572.46 L140.54,571.29 L140.82,570.18 L141.10,569.15 L141.39,568.18 L141.68,567.26 L141.98,566.40 L142.28,565.58 L142.59,564.81 L142.90,564.08 L143.22,563.38 L143.55,562.71 L143.88,562.07 L144.22,561.45 L144.56,560.85 L144.91,560.27 L145.26,559.71 L145.62,559.16 L145.99,558.63 L146.36,558.10 L146.74,557.58 L147.12,557.07 L147.51,556.56 L147.90,556.06 L148.30,555.56 L148.71,555.07 L149.12,554.58 L149.54,554.08 L149.96,553.59 L150.39,553.10 L150.82,552.61 L151.27,552.12 L151.71,551.62 L152.17,551.13 L152.62,550.63 L153.09,550.14 L153.56,549.64 L154.04,549.14 L154.52,548.64 L155.01,548.14 L155.50,547.64 L156.00,547.13 L156.51,546.63 L157.02,546.12 L157.54,545.61 L158.07,545.10 L158.60,544.59 L159.14,544.08 L159.68,543.56 L160.23,543.05 L160.79,542.53 L161.35,542.02 L161.92,541.50 L162.49,540.98 L163.07,540.47 L163.66,539.95 L164.25,539.43 L164.85,538.91 L165.45,538.39 L166.07,537.88 L166.68,537.36 L167.31,536.84 L167.94,536.32 L168.57,535.80 L169.22,535.29 L169.87,534.77 L170.52,534.25 L171.18,533.74 L171.85,533.22 L172.53,532.71 L173.21,532.20 L173.89,531.69 L174.59,531.18 L175.29,530.67 L175.99,530.16 L176.71,529.65 L177.42,529.15 L178.15,528.64 L178.88,528.14 L179.62,527.64 L180.37,527.14 L181.12,526.64 L181.87,526.15 L182.64,525.65 L183.41,525.16 L184.19,524.67 L184.97,524.18 L185.76,523.70 L186.56,523.22 L187.36,522.73 L188.17,522.26 L188.99,521.78 L189.81,521.30 L190.64,520.83 L191.48,520.36 L192.32,519.90 L193.17,519.43 L194.02,518.97 L194.89,518.51 L195.76,518.06 L196.63,517.60 L197.51,517.15 L198.40,516.70 L199.30,516.26 L200.20,515.82 L201.11,515.38 L202.03,514.94 L202.95,514.51 L203.88,514.07 L204.81,513.65 L205.75,513.22 L206.70,512.80 L207.66,512.38 L208.62,511.97 L209.59,511.55 L210.57,511.14 L211.55,510.74 L212.54,510.33 L213.54,509.93 L214.54,509.53 L215.55,509.14 L216.57,508.75 L217.59,508.36 L218.62,507.98 L219.66,507.59 L220.70,507.21 L221.75,506.84 L222.81,506.47 L223.87,506.10 L224.95,505.73 L226.02,505.37 L227.11,505.01 L228.20,504.65 L229.30,504.30 L230.41,503.94 L231.52,503.60 L232.64,503.25 L233.76,502.91 L234.90,502.57 L236.04,502.23 L237.19,501.90 L238.34,501.57 L239.50,501.24 L240.67,500.92 L241.84,500.60 L243.03,500.28 L244.22,499.96 L245.41,499.65 L246.61,499.34 L247.82,499.03 L249.04,498.72 L250.26,498.42 L251.50,498.12 L252.73,497.83 L253.98,497.53 L255.23,497.24 L256.49,496.95 L257.76,496.66 L259.03,496.38 L260.31,496.10 L261.60,495.82 L262.89,495.54 L264.19,495.27 L265.50,494.99 L266.82,494.72 L268.14,494.45 L269.47,494.19 L270.81,493.93 L272.15,493.66 L273.50,493.41 L274.86,493.15 L276.23,492.89 L277.60,492.64 L278.98,492.39 L280.36,492.14 L281.76,491.89 L283.16,491.65 L284.57,491.41 L285.98,491.16 L287.41,490.92 L288.84,490.69 L290.27,490.45 L291.72,490.21 L293.17,489.98 L294.63,489.75 L296.09,489.52 L297.57,489.29 L299.05,489.07 L300.54,488.84 L302.03,488.62 L303.53,488.39 L305.04,488.17 L306.56,487.95 L308.08,487.73 L309.61,487.52 L311.15,487.30 L312.70,487.09 L314.25,486.87 L315.81,486.66 L317.38,486.45 L318.95,486.24 L320.54,486.03 L322.13,485.82 L323.72,485.61 L325.33,485.40 L326.94,485.20 L328.56,484.99 L330.19,484.79 L331.82,484.59 L333.46,484.38 L335.11,484.18 L336.76,483.98 L338.43,483.78 L340.10,483.58 L341.78,483.38 L343.46,483.18 L345.15,482.99 L346.85,482.79 L348.56,482.59 L350.28,482.40 L352.00,482.20 L353.73,482.00 L355.47,481.81 L357.21,481.61 L358.96,481.42 L360.72,481.23 L362.49,481.03 L364.26,480.84 L366.05,480.65 L367.84,480.45 L369.63,480.26 L371.44,480.07 L373.25,479.88 L375.07,479.68 L376.89,479.49 L378.73,479.30 L380.57,479.11 L382.42,478.92 L384.28,478.73 L386.14,478.53 L388.01,478.34 L389.89,478.15 L391.78,477.96 L393.67,477.77 L395.58,477.58 L397.48,477.39 L399.40,477.19 L401.33,477.00 L403.26,476.81 L405.20,476.62 L407.15,476.43 L409.10,476.23 L411.06,476.04 L413.03,475.85 L415.01,475.65 L417.00,475.46 L418.99,475.27 L420.99,475.07 L423.00,474.88 L425.01,474.69 L427.04,474.49 L429.07,474.30 L431.11,474.10 L433.15,473.91 L435.21,473.71 L437.27,473.51 L439.34,473.32 L441.41,473.12 L443.50,472.92 L445.59,472.73 L447.69,472.53 L449.80,472.33 L451.91,472.13 L454.04,471.93 L456.17,471.73 L458.30,471.53 L460.45,471.33 L462.60,471.13 L464.77,470.93 L466.93,470.73 L469.11,470.52 L471.30,470.32 L473.49,470.12 L475.69,469.91 L477.90,469.71 L480.11,469.50 L482.33,469.30 L484.56,469.09 L486.80,468.89 L489.05,468.68 L491.30,468.47 L493.57,468.26 L495.84,468.05 L498.11,467.84 L500.40,467.63 L502.69,467.42 L504.99,467.21 L507.30,467.00 L509.62,466.79 L511.94,466.57 L514.27,466.36 L516.61,466.15 L518.96,465.93 L521.32,465.72 L523.68,465.50 L526.05,465.28 L528.43,465.07 L530.82,464.85 L533.21,464.63 L535.61,464.41 L538.02,464.19 L540.44,463.97 L542.87,463.75 L545.30,463.53 L547.74,463.31 L550.19,463.08 L552.65,462.86 L555.11,462.64 L557.59,462.41 L560.07,462.19 L562.56,461.96 L565.05,461.73 L567.56,461.51 L570.07,461.28 L572.59,461.05 L575.12,460.82 L577.66,460.59 L580.20,460.36 L582.75,460.13 L585.31,459.89 L587.88,459.66 L590.46,459.43 L593.04,459.19 L595.63,458.96 L598.23,458.72 L600.84,458.49 L603.46,458.25 L606.08,458.01 L608.71,457.77 L611.35,457.53 L614.00,457.29 L614.00,458.50 L614.00,458.49 L614.00,458.59 L614.00,458.98 L613.99,459.69 L613.98,460.74 L613.97,462.15 L613.95,463.92 L613.93,466.05 L613.91,468.55 L613.89,471.38 L613.86,474.55 L613.82,478.03 L613.78,481.80 L613.74,485.82 L613.70,490.09 L613.65,494.55 L613.59,499.19 L613.54,503.96 L613.47,508.83 L613.41,513.77 L613.34,518.75 L613.26,523.72 L613.18,528.66 L613.10,533.55 L613.01,538.34 L612.92,543.02 L612.82,547.57 L612.71,551.97 L612.61,556.19 L612.50,560.23 L612.38,564.07 L612.26,567.71 L612.13,571.15 L612.00,574.37 L611.87,577.39 L611.73,580.21 L611.58,582.82 L611.43,585.24 L611.27,587.48 L611.11,589.54 L610.95,591.43 L610.78,593.17 L610.60,594.76 L610.42,596.22 L610.24,597.56 L610.05,598.79 L609.85,599.92 L609.65,600.96 L609.44,601.92 L609.23,602.82 L609.02,603.65 L608.79,604.43 L608.57,605.17 L608.33,605.87 L608.10,606.53 L607.85,607.18 L607.60,607.80 L607.35,608.40 L607.09,608.99 L606.83,609.57 L606.56,610.15 L606.28,610.72 L606.00,611.28 L605.71,611.85 L605.42,612.42 L605.12,612.99 L604.82,613.56 L604.51,614.13 L604.20,614.71 L603.88,615.29 L603.55,615.88 L603.22,616.48 L602.88,617.08 L602.54,617.68 L602.19,618.29 L601.84,618.91 L601.48,619.53 L601.11,620.15 L600.74,620.79 L600.36,621.42 L599.98,622.07 L599.59,622.71 L599.20,623.37 L598.80,624.03 L598.39,624.69 L597.98,625.36 L597.56,626.03 L597.14,626.70 L596.71,627.39 L596.28,628.07 L595.83,628.76 L595.39,629.45 L594.93,630.15 L594.48,630.85 L594.01,631.55 L593.54,632.26 L593.06,632.97 L592.58,633.68 L592.09,634.40 L591.60,635.11 L591.10,635.83 L590.59,636.56 L590.08,637.28 L589.56,638.01 L589.03,638.74 L588.50,639.47 L587.96,640.20 L587.42,640.93 L586.87,641.67 L586.31,642.40 L585.75,643.14 L585.18,643.88 L584.61,644.61 L584.03,645.35 L583.44,646.09 L582.85,646.83 L582.25,647.57 L581.65,648.31 L581.03,649.05 L580.42,649.79 L579.79,650.53 L579.16,651.26 L578.53,652.00 L577.88,652.74 L577.23,653.47 L576.58,654.21 L575.92,654.94 L575.25,655.67 L574.57,656.40 L573.89,657.13 L573.21,657.86 L572.51,658.58 L571.81,659.31 L571.11,660.03 L570.39,660.75 L569.68,661.46 L568.95,662.18 L568.22,662.89 L567.48,663.60 L566.73,664.31 L565.98,665.01 L565.23,665.71 L564.46,666.41 L563.69,667.10 L562.91,667.80 L562.13,668.49 L561.34,669.17 L560.54,669.85 L559.74,670.53 L558.93,671.21 L558.11,671.88 L557.29,672.54 L556.46,673.21 L555.62,673.87 L554.78,674.53 L553.93,675.18 L553.08,675.83 L552.21,676.47 L551.34,677.11 L550.47,677.75 L549.59,678.38 L548.70,679.00 L547.80,679.63 L546.90,680.25 L545.99,680.86 L545.07,681.47 L544.15,682.07 L543.22,682.68 L542.29,683.27 L541.35,683.86 L540.40,684.45 L539.44,685.03 L538.48,685.61 L537.51,686.18 L536.53,686.75 L535.55,687.31 L534.56,687.87 L533.56,688.43 L532.56,688.98 L531.55,689.52 L530.53,690.06 L529.51,690.60 L528.48,691.13 L527.44,691.65 L526.40,692.17 L525.35,692.69 L524.29,693.20 L523.23,693.70 L522.15,694.21 L521.08,694.70 L519.99,695.20 L518.90,695.68 L517.80,696.17 L516.69,696.64 L515.58,697.12 L514.46,697.58 L513.34,698.05 L512.20,698.51 L511.06,698.96 L509.91,699.41 L508.76,699.86 L507.60,700.30 L506.43,700.74 L505.26,701.17 L504.07,701.60 L502.88,702.02 L501.69,702.44 L500.49,702.86 L499.28,703.27 L498.06,703.67 L496.84,704.08 L495.60,704.47 L494.37,704.87 L493.12,705.26 L491.87,705.64 L490.61,706.03 L489.34,706.40 L488.07,706.78 L486.79,707.15 L485.50,707.52 L484.21,707.88 L482.91,708.24 L481.60,708.59 L480.28,708.94 L478.96,709.29 L477.63,709.64 L476.29,709.98 L474.95,710.32 L473.60,710.65 L472.24,710.98 L470.87,711.31 L469.50,711.63 L468.12,711.96 L466.74,712.27 L465.34,712.59 L463.94,712.90 L462.53,713.21 L461.12,713.52 L459.69,713.82 L458.26,714.12 L456.83,714.42 L455.38,714.72 L453.93,715.01 L452.47,715.30 L451.01,715.59 L449.53,715.87 L448.05,716.15 L446.56,716.43 L445.07,716.71 L443.57,716.99 L442.06,717.26 L440.54,717.53 L439.02,717.80 L437.49,718.07 L435.95,718.33 L434.40,718.60 L432.85,718.86 L431.29,719.12 L429.72,719.37 L428.15,719.63 L426.56,719.88 L424.97,720.13 L423.38,720.39 L421.77,720.63 L420.16,720.88 L418.54,721.13 L416.91,721.37 L415.28,721.61 L413.64,721.85 L411.99,722.09 L410.34,722.33 L408.67,722.57 L407.00,722.81 L405.32,723.04 L403.64,723.28 L401.95,723.51 L400.25,723.74 L398.54,723.97 L396.82,724.20 L395.10,724.43 L393.37,724.66 L391.63,724.88 L389.89,725.11 L388.14,725.33 L386.38,725.56 L384.61,725.78 L382.84,726.01 L381.05,726.23 L379.26,726.45 L377.47,726.67 L375.66,726.89 L373.85,727.11 L372.03,727.33 L370.21,727.55 L368.37,727.77 L366.53,727.99 L364.68,728.21 L362.82,728.42 L360.96,728.64 L359.09,728.86 L357.21,729.07 L355.32,729.29 L353.43,729.51 L351.52,729.72 L349.62,729.94 L347.70,730.16 L345.77,730.37 L343.84,730.59 L341.90,730.80 L339.95,731.02 L338.00,731.23 L336.04,731.45 L334.07,731.66 L332.09,731.88 L330.10,732.10 L328.11,732.31 L326.11,732.53 L324.10,732.74 L322.09,732.96 L320.06,733.18 L318.03,733.39 L315.99,733.61 L313.95,733.83 L311.89,734.04 L309.83,734.26 L307.76,734.48 L305.69,734.70 L303.60,734.91 L301.51,735.13 L299.41,735.35 L297.30,735.57 L295.19,735.79 L293.06,736.01 L290.93,736.23 L288.80,736.45 L286.65,736.67 L284.50,736.89 L282.33,737.11 L280.17,737.34 L277.99,737.56 L275.80,737.78 L273.61,738.00 L271.41,738.23 L269.20,738.45 L266.99,738.68 L264.77,738.90 L262.54,739.13 L260.30,739.36 L258.05,739.58 L255.80,739.81 L253.53,740.04 L251.26,740.27 L248.99,740.50 L246.70,740.73 L244.41,740.96 L242.11,741.19 L239.80,741.42 L237.48,741.65 L235.16,741.88 L232.83,742.12 L230.49,742.35 L228.14,742.59 L225.78,742.82 L223.42,743.06 L221.05,743.29 L218.67,743.53 L216.28,743.77 L213.89,744.01 L211.49,744.25 L209.08,744.49 L206.66,744.73 L204.23,744.97 L201.80,745.21 L199.36,745.45 L196.91,745.70 L194.45,745.94 L191.99,746.18 L189.51,746.43 L187.03,746.68 L184.54,746.92 L182.05,747.17 L179.54,747.42 L177.03,747.67 L174.51,747.92 L171.98,748.17 L169.44,748.42 L166.90,748.67 L164.35,748.92 L161.79,749.17 L159.22,749.43 L156.64,749.68 L154.06,749.94 L151.47,750.19 L148.87,750.45 L146.26,750.71 L143.64,750.97 L141.02,751.23 L138.39,751.49 L135.75,751.75 L133.10,752.01 Z" fill="none" stroke="#0d0887" stroke-width="2.8" stroke-linejoin="round"/>
<path d="M133.10,735.26 L133.10,735.20 L133.10,734.97 L133.11,734.57 L133.12,733.96 L133.13,733.13 L133.15,732.10 L133.17,730.84 L133.19,729.36 L133.21,727.66 L133.24,725.74 L133.28,723.60 L133.32,721.26 L133.36,718.72 L133.40,715.98 L133.45,713.06 L133.50,709.97 L133.56,706.72 L133.62,703.32 L133.69,699.80 L133.76,696.15 L133.84,692.40 L133.92,688.57 L134.00,684.66 L134.09,680.70 L134.18,676.70 L134.28,672.68 L134.38,668.64 L134.49,664.61 L134.60,660.60 L134.71,656.62 L134.84,652.69 L134.96,648.82 L135.09,645.01 L135.23,641.28 L135.37,637.64 L135.51,634.10 L135.66,630.65 L135.82,627.32 L135.98,624.10 L136.14,620.99 L136.31,618.01 L136.48,615.14 L136.66,612.40 L136.85,609.78 L137.04,607.29 L137.23,604.91 L137.44,602.65 L137.64,600.51 L137.85,598.48 L138.07,596.56 L138.29,594.74 L138.51,593.03 L138.75,591.40 L138.98,589.87 L139.23,588.43 L139.47,587.06 L139.73,585.77 L139.99,584.55 L140.25,583.40 L140.52,582.30 L140.79,581.27 L141.07,580.28 L141.36,579.33 L141.65,578.43 L141.95,577.57 L142.25,576.74 L142.56,575.95 L142.87,575.18 L143.19,574.43 L143.51,573.71 L143.84,573.00 L144.18,572.31 L144.52,571.64 L144.87,570.97 L145.22,570.32 L145.58,569.68 L145.94,569.04 L146.31,568.41 L146.69,567.78 L147.07,567.16 L147.46,566.55 L147.85,565.93 L148.25,565.32 L148.65,564.70 L149.06,564.09 L149.48,563.48 L149.90,562.87 L150.33,562.26 L150.76,561.65 L151.20,561.04 L151.65,560.43 L152.10,559.82 L152.56,559.20 L153.02,558.59 L153.49,557.98 L153.96,557.37 L154.44,556.75 L154.93,556.14 L155.42,555.53 L155.92,554.91 L156.43,554.30 L156.94,553.69 L157.46,553.08 L157.98,552.47 L158.51,551.85 L159.04,551.24 L159.59,550.63 L160.13,550.03 L160.69,549.42 L161.25,548.81 L161.81,548.21 L162.39,547.61 L162.96,547.01 L163.55,546.41 L164.14,545.81 L164.74,545.22 L165.34,544.62 L165.95,544.03 L166.56,543.45 L167.19,542.86 L167.81,542.28 L168.45,541.70 L169.09,541.12 L169.74,540.55 L170.39,539.98 L171.05,539.41 L171.71,538.84 L172.39,538.28 L173.06,537.73 L173.75,537.17 L174.44,536.62 L175.14,536.07 L175.84,535.53 L176.55,534.99 L177.27,534.46 L177.99,533.93 L178.72,533.40 L179.46,532.87 L180.20,532.36 L180.95,531.84 L181.70,531.33 L182.46,530.82 L183.23,530.32 L184.01,529.82 L184.79,529.33 L185.58,528.84 L186.37,528.36 L187.17,527.88 L187.98,527.40 L188.79,526.93 L189.61,526.47 L190.44,526.01 L191.27,525.55 L192.11,525.10 L192.96,524.65 L193.81,524.21 L194.67,523.77 L195.53,523.34 L196.41,522.91 L197.29,522.48 L198.17,522.06 L199.06,521.65 L199.96,521.24 L200.87,520.83 L201.78,520.43 L202.70,520.04 L203.63,519.65 L204.56,519.26 L205.50,518.88 L206.44,518.50 L207.40,518.12 L208.36,517.76 L209.32,517.39 L210.29,517.03 L211.27,516.68 L212.26,516.32 L213.25,515.98 L214.25,515.63 L215.26,515.30 L216.27,514.96 L217.29,514.63 L218.32,514.30 L219.35,513.98 L220.39,513.66 L221.44,513.35 L222.49,513.04 L223.55,512.73 L224.62,512.43 L225.70,512.13 L226.78,511.84 L227.87,511.55 L228.96,511.26 L230.06,510.98 L231.17,510.70 L232.29,510.42 L233.41,510.15 L234.54,509.88 L235.67,509.61 L236.82,509.35 L237.97,509.09 L239.12,508.83 L240.29,508.57 L241.46,508.32 L242.64,508.08 L243.82,507.83 L245.01,507.59 L246.21,507.35 L247.42,507.11 L248.63,506.88 L249.85,506.65 L251.08,506.42 L252.31,506.19 L253.55,505.97 L254.80,505.75 L256.05,505.53 L257.32,505.31 L258.58,505.10 L259.86,504.88 L261.14,504.67 L262.43,504.47 L263.73,504.26 L265.03,504.05 L266.34,503.85 L267.66,503.65 L268.99,503.45 L270.32,503.26 L271.66,503.06 L273.00,502.87 L274.36,502.68 L275.72,502.49 L277.09,502.30 L278.46,502.11 L279.84,501.92 L281.23,501.74 L282.63,501.56 L284.03,501.37 L285.44,501.19 L286.86,501.01 L288.29,500.83 L289.72,500.66 L291.16,500.48 L292.60,500.31 L294.06,500.13 L295.52,499.96 L296.99,499.78 L298.46,499.61 L299.94,499.44 L301.43,499.27 L302.93,499.10 L304.43,498.93 L305.95,498.76 L307.46,498.60 L308.99,498.43 L310.52,498.26 L312.06,498.10 L313.61,497.93 L315.17,497.77 L316.73,497.60 L318.30,497.44 L319.87,497.27 L321.46,497.11 L323.05,496.95 L324.65,496.78 L326.25,496.62 L327.87,496.46 L329.49,496.30 L331.12,496.13 L332.75,495.97 L334.39,495.81 L336.04,495.65 L337.70,495.48 L339.37,495.32 L341.04,495.16 L342.72,495.00 L344.40,494.84 L346.10,494.67 L347.80,494.51 L349.51,494.35 L351.23,494.19 L352.95,494.03 L354.68,493.86 L356.42,493.70 L358.16,493.54 L359.92,493.37 L361.68,493.21 L363.45,493.05 L365.22,492.88 L367.01,492.72 L368.80,492.55 L370.59,492.39 L372.40,492.23 L374.21,492.06 L376.03,491.89 L377.86,491.73 L379.70,491.56 L381.54,491.40 L383.39,491.23 L385.25,491.06 L387.11,490.89 L388.98,490.72 L390.86,490.56 L392.75,490.39 L394.65,490.22 L396.55,490.05 L398.46,489.88 L400.38,489.71 L402.30,489.53 L404.24,489.36 L406.18,489.19 L408.12,489.02 L410.08,488.84 L412.04,488.67 L414.01,488.50 L415.99,488.32 L417.98,488.15 L419.97,487.97 L421.97,487.79 L423.98,487.62 L426.00,487.44 L428.02,487.26 L430.05,487.08 L432.09,486.90 L434.14,486.72 L436.19,486.54 L438.25,486.36 L440.32,486.18 L442.40,486.00 L444.49,485.82 L446.58,485.63 L448.68,485.45 L450.79,485.26 L452.90,485.08 L455.02,484.89 L457.15,484.71 L459.29,484.52 L461.44,484.33 L463.59,484.14 L465.75,483.95 L467.92,483.77 L470.10,483.58 L472.28,483.38 L474.48,483.19 L476.68,483.00 L478.88,482.81 L481.10,482.62 L483.32,482.42 L485.55,482.23 L487.79,482.03 L490.04,481.84 L492.29,481.64 L494.55,481.44 L496.82,481.25 L499.10,481.05 L501.38,480.85 L503.68,480.65 L505.98,480.45 L508.29,480.25 L510.60,480.04 L512.93,479.84 L515.26,479.64 L517.60,479.44 L519.94,479.23 L522.30,479.03 L524.66,478.82 L527.03,478.61 L529.41,478.41 L531.80,478.20 L534.19,477.99 L536.59,477.78 L539.00,477.57 L541.42,477.36 L543.84,477.15 L546.28,476.94 L548.72,476.73 L551.17,476.51 L553.62,476.30 L556.09,476.09 L558.56,475.87 L561.04,475.66 L563.53,475.44 L566.02,475.22 L568.53,475.00 L571.04,474.79 L573.56,474.57 L576.09,474.35 L578.62,474.13 L581.16,473.91 L583.72,473.68 L586.27,473.46 L588.84,473.24 L591.42,473.01 L594.00,472.79 L596.59,472.56 L599.19,472.34 L601.79,472.11 L604.41,471.88 L607.03,471.66 L609.66,471.43 L612.30,471.20 L612.30,472.60 L611.50,560.00 L611.50,560.04 L611.50,560.18 L611.49,560.44 L611.48,560.83 L611.47,561.36 L611.45,562.01 L611.43,562.80 L611.41,563.73 L611.39,564.78 L611.36,565.95 L611.32,567.24 L611.29,568.64 L611.24,570.13 L611.20,571.71 L611.15,573.37 L611.10,575.09 L611.04,576.86 L610.98,578.67 L610.91,580.51 L610.84,582.36 L610.76,584.22 L610.69,586.06 L610.60,587.89 L610.51,589.69 L610.42,591.44 L610.32,593.16 L610.22,594.81 L610.12,596.41 L610.00,597.95 L609.89,599.41 L609.77,600.81 L609.64,602.14 L609.51,603.39 L609.38,604.57 L609.24,605.69 L609.09,606.73 L608.94,607.71 L608.79,608.62 L608.63,609.48 L608.46,610.28 L608.30,611.02 L608.12,611.72 L607.94,612.38 L607.76,613.00 L607.57,613.58 L607.37,614.13 L607.17,614.65 L606.97,615.15 L606.76,615.63 L606.54,616.09 L606.32,616.53 L606.09,616.97 L605.86,617.39 L605.63,617.81 L605.38,618.22 L605.14,618.63 L604.88,619.03 L604.63,619.44 L604.36,619.84 L604.09,620.25 L603.82,620.66 L603.54,621.06 L603.25,621.48 L602.96,621.89 L602.67,622.31 L602.37,622.74 L602.06,623.16 L601.75,623.60 L601.43,624.03 L601.10,624.48 L600.77,624.92 L600.44,625.37 L600.10,625.83 L599.75,626.29 L599.40,626.75 L599.04,627.22 L598.68,627.70 L598.31,628.18 L597.93,628.66 L597.55,629.15 L597.17,629.64 L596.78,630.13 L596.38,630.63 L595.97,631.13 L595.56,631.64 L595.15,632.15 L594.73,632.67 L594.30,633.18 L593.87,633.70 L593.43,634.23 L592.98,634.75 L592.53,635.28 L592.08,635.82 L591.61,636.35 L591.15,636.89 L590.67,637.43 L590.19,637.97 L589.71,638.52 L589.21,639.07 L588.71,639.62 L588.21,640.17 L587.70,640.72 L587.18,641.28 L586.66,641.84 L586.13,642.40 L585.60,642.96 L585.06,643.52 L584.51,644.08 L583.96,644.65 L583.40,645.21 L582.83,645.78 L582.26,646.34 L581.69,646.91 L581.10,647.48 L580.51,648.05 L579.92,648.62 L579.31,649.19 L578.71,649.76 L578.09,650.33 L577.47,650.90 L576.84,651.47 L576.21,652.04 L575.57,652.61 L574.93,653.17 L574.27,653.74 L573.62,654.31 L572.95,654.88 L572.28,655.44 L571.60,656.01 L570.92,656.57 L570.23,657.14 L569.53,657.70 L568.83,658.26 L568.12,658.82 L567.41,659.38 L566.68,659.93 L565.96,660.49 L565.22,661.04 L564.48,661.59 L563.73,662.14 L562.98,662.69 L562.22,663.24 L561.45,663.78 L560.68,664.32 L559.90,664.86 L559.11,665.40 L558.32,665.94 L557.52,666.47 L556.72,667.00 L555.90,667.53 L555.08,668.06 L554.26,668.58 L553.43,669.10 L552.59,669.62 L551.74,670.13 L550.89,670.65 L550.03,671.16 L549.17,671.66 L548.30,672.17 L547.42,672.67 L546.54,673.17 L545.65,673.66 L544.75,674.15 L543.84,674.64 L542.93,675.13 L542.02,675.61 L541.09,676.09 L540.16,676.57 L539.22,677.04 L538.28,677.51 L537.33,677.98 L536.37,678.44 L535.41,678.90 L534.43,679.36 L533.46,679.81 L532.47,680.26 L531.48,680.71 L530.48,681.15 L529.48,681.59 L528.47,682.03 L527.45,682.46 L526.42,682.89 L525.39,683.31 L524.35,683.74 L523.31,684.15 L522.26,684.57 L521.20,684.98 L520.13,685.39 L519.06,685.80 L517.98,686.20 L516.89,686.60 L515.80,686.99 L514.70,687.38 L513.59,687.77 L512.48,688.16 L511.36,688.54 L510.23,688.91 L509.10,689.29 L507.96,689.66 L506.81,690.03 L505.65,690.39 L504.49,690.75 L503.32,691.11 L502.15,691.47 L500.96,691.82 L499.77,692.17 L498.58,692.51 L497.37,692.85 L496.16,693.19 L494.94,693.53 L493.72,693.86 L492.49,694.19 L491.25,694.52 L490.00,694.84 L488.75,695.16 L487.49,695.48 L486.23,695.79 L484.95,696.10 L483.67,696.41 L482.38,696.72 L481.09,697.02 L479.79,697.32 L478.48,697.62 L477.16,697.92 L475.84,698.21 L474.51,698.50 L473.17,698.79 L471.83,699.07 L470.48,699.35 L469.12,699.63 L467.75,699.91 L466.38,700.18 L465.00,700.46 L463.61,700.73 L462.22,701.00 L460.82,701.26 L459.41,701.52 L458.00,701.79 L456.57,702.04 L455.14,702.30 L453.71,702.56 L452.26,702.81 L450.81,703.06 L449.35,703.31 L447.89,703.56 L446.41,703.80 L444.93,704.05 L443.45,704.29 L441.95,704.53 L440.45,704.76 L438.94,705.00 L437.43,705.24 L435.90,705.47 L434.37,705.70 L432.84,705.93 L431.29,706.16 L429.74,706.39 L428.18,706.61 L426.61,706.84 L425.04,707.06 L423.46,707.28 L421.87,707.50 L420.27,707.72 L418.67,707.94 L417.06,708.15 L415.44,708.37 L413.81,708.58 L412.18,708.80 L410.54,709.01 L408.89,709.22 L407.24,709.43 L405.58,709.64 L403.91,709.85 L402.23,710.05 L400.55,710.26 L398.86,710.47 L397.16,710.67 L395.45,710.88 L393.74,711.08 L392.02,711.28 L390.29,711.48 L388.55,711.68 L386.81,711.89 L385.06,712.09 L383.30,712.29 L381.54,712.48 L379.77,712.68 L377.99,712.88 L376.20,713.08 L374.40,713.28 L372.60,713.47 L370.79,713.67 L368.97,713.86 L367.15,714.06 L365.32,714.26 L363.48,714.45 L361.63,714.65 L359.77,714.84 L357.91,715.03 L356.04,715.23 L354.17,715.42 L352.28,715.62 L350.39,715.81 L348.49,716.00 L346.58,716.20 L344.67,716.39 L342.75,716.58 L340.82,716.78 L338.88,716.97 L336.93,717.16 L334.98,717.36 L333.02,717.55 L331.05,717.74 L329.08,717.94 L327.10,718.13 L325.11,718.32 L323.11,718.52 L321.10,718.71 L319.09,718.91 L317.07,719.10 L315.04,719.29 L313.01,719.49 L310.96,719.68 L308.91,719.88 L306.85,720.07 L304.79,720.27 L302.72,720.47 L300.63,720.66 L298.55,720.86 L296.45,721.05 L294.34,721.25 L292.23,721.45 L290.11,721.65 L287.99,721.84 L285.85,722.04 L283.71,722.24 L281.56,722.44 L279.40,722.64 L277.24,722.84 L275.06,723.04 L272.88,723.24 L270.69,723.44 L268.50,723.64 L266.29,723.85 L264.08,724.05 L261.86,724.25 L259.64,724.45 L257.40,724.66 L255.16,724.86 L252.91,725.07 L250.65,725.27 L248.38,725.48 L246.11,725.68 L243.83,725.89 L241.54,726.10 L239.24,726.31 L236.94,726.51 L234.63,726.72 L232.31,726.93 L229.98,727.14 L227.65,727.35 L225.30,727.56 L222.95,727.77 L220.59,727.99 L218.23,728.20 L215.85,728.41 L213.47,728.63 L211.08,728.84 L208.68,729.06 L206.28,729.27 L203.86,729.49 L201.44,729.71 L199.01,729.92 L196.58,730.14 L194.13,730.36 L191.68,730.58 L189.22,730.80 L186.75,731.02 L184.27,731.24 L181.79,731.46 L179.30,731.68 L176.80,731.91 L174.29,732.13 L171.78,732.36 L169.25,732.58 L166.72,732.81 L164.18,733.03 L161.64,733.26 L159.08,733.49 L156.52,733.71 L153.95,733.94 L151.37,734.17 L148.78,734.40 L146.19,734.63 L143.59,734.86 L140.98,735.10 L138.36,735.33 L135.73,735.56 L133.10,735.80 Z" fill="none" stroke="#6a00a8" stroke-width="2.8" stroke-linejoin="round"/>
<path d="M133.10,722.91 L133.10,722.88 L133.10,722.76 L133.11,722.55 L133.12,722.23 L133.13,721.80 L133.15,721.26 L133.17,720.60 L133.19,719.82 L133.21,718.92 L133.24,717.89 L133.28,716.75 L133.32,715.48 L133.36,714.10 L133.40,712.60 L133.45,710.98 L133.51,709.25 L133.56,707.41 L133.63,705.47 L133.69,703.42 L133.76,701.28 L133.84,699.05 L133.92,696.73 L134.00,694.33 L134.09,691.86 L134.18,689.31 L134.28,686.71 L134.39,684.04 L134.49,681.33 L134.60,678.57 L134.72,675.78 L134.84,672.95 L134.97,670.11 L135.10,667.24 L135.23,664.36 L135.37,661.48 L135.52,658.60 L135.67,655.72 L135.83,652.86 L135.99,650.02 L136.15,647.19 L136.32,644.40 L136.50,641.64 L136.68,638.92 L136.86,636.24 L137.05,633.60 L137.25,631.02 L137.45,628.48 L137.66,626.00 L137.87,623.58 L138.08,621.21 L138.31,618.90 L138.53,616.66 L138.77,614.48 L139.00,612.36 L139.25,610.31 L139.50,608.32 L139.75,606.39 L140.01,604.53 L140.27,602.74 L140.54,601.00 L140.82,599.33 L141.10,597.72 L141.39,596.16 L141.68,594.67 L141.98,593.23 L142.28,591.84 L142.59,590.51 L142.90,589.23 L143.22,588.00 L143.55,586.81 L143.88,585.67 L144.22,584.57 L144.56,583.52 L144.91,582.50 L145.26,581.52 L145.62,580.57 L145.99,579.65 L146.36,578.77 L146.74,577.91 L147.12,577.09 L147.51,576.28 L147.90,575.50 L148.30,574.75 L148.71,574.01 L149.12,573.29 L149.54,572.59 L149.96,571.90 L150.39,571.23 L150.82,570.57 L151.27,569.92 L151.71,569.29 L152.17,568.66 L152.62,568.05 L153.09,567.44 L153.56,566.84 L154.04,566.25 L154.52,565.67 L155.01,565.09 L155.50,564.51 L156.00,563.94 L156.51,563.38 L157.02,562.82 L157.54,562.26 L158.07,561.70 L158.60,561.15 L159.14,560.60 L159.68,560.06 L160.23,559.51 L160.79,558.97 L161.35,558.43 L161.92,557.90 L162.49,557.36 L163.07,556.83 L163.66,556.30 L164.25,555.77 L164.85,555.24 L165.45,554.71 L166.07,554.19 L166.68,553.67 L167.31,553.15 L167.94,552.63 L168.57,552.11 L169.22,551.60 L169.87,551.09 L170.52,550.57 L171.18,550.07 L171.85,549.56 L172.53,549.06 L173.21,548.56 L173.89,548.06 L174.59,547.56 L175.29,547.07 L175.99,546.58 L176.71,546.09 L177.42,545.60 L178.15,545.12 L178.88,544.64 L179.62,544.16 L180.37,543.68 L181.12,543.21 L181.87,542.74 L182.64,542.28 L183.41,541.82 L184.19,541.36 L184.97,540.90 L185.76,540.45 L186.56,540.00 L187.36,539.55 L188.17,539.11 L188.99,538.67 L189.81,538.24 L190.64,537.80 L191.48,537.38 L192.32,536.95 L193.17,536.53 L194.02,536.11 L194.89,535.70 L195.76,535.29 L196.63,534.88 L197.51,534.48 L198.40,534.08 L199.30,533.68 L200.20,533.29 L201.11,532.90 L202.03,532.52 L202.95,532.13 L203.88,531.76 L204.81,531.38 L205.75,531.01 L206.70,530.65 L207.66,530.29 L208.62,529.93 L209.59,529.57 L210.57,529.22 L211.55,528.87 L212.54,528.53 L213.54,528.19 L214.54,527.85 L215.55,527.52 L216.57,527.19 L217.59,526.86 L218.62,526.54 L219.66,526.22 L220.70,525.91 L221.75,525.60 L222.81,525.29 L223.87,524.98 L224.95,524.68 L226.02,524.39 L227.11,524.09 L228.20,523.80 L229.30,523.51 L230.41,523.23 L231.52,522.95 L232.64,522.67 L233.76,522.39 L234.90,522.12 L236.04,521.85 L237.19,521.59 L238.34,521.32 L239.50,521.06 L240.67,520.81 L241.84,520.55 L243.03,520.30 L244.22,520.05 L245.41,519.81 L246.61,519.56 L247.82,519.32 L249.04,519.09 L250.26,518.85 L251.50,518.62 L252.73,518.39 L253.98,518.16 L255.23,517.94 L256.49,517.71 L257.76,517.49 L259.03,517.27 L260.31,517.06 L261.60,516.84 L262.89,516.63 L264.19,516.42 L265.50,516.22 L266.82,516.01 L268.14,515.81 L269.47,515.61 L270.81,515.41 L272.15,515.21 L273.50,515.01 L274.86,514.82 L276.23,514.63 L277.60,514.44 L278.98,514.25 L280.36,514.06 L281.76,513.88 L283.16,513.69 L284.57,513.51 L285.98,513.33 L287.41,513.15 L288.84,512.97 L290.27,512.79 L291.72,512.62 L293.17,512.44 L294.63,512.27 L296.09,512.10 L297.57,511.93 L299.05,511.76 L300.54,511.59 L302.03,511.42 L303.53,511.25 L305.04,511.09 L306.56,510.92 L308.08,510.76 L309.61,510.59 L311.15,510.43 L312.70,510.27 L314.25,510.11 L315.81,509.95 L317.38,509.79 L318.95,509.63 L320.54,509.47 L322.13,509.31 L323.72,509.15 L325.33,509.00 L326.94,508.84 L328.56,508.69 L330.19,508.53 L331.82,508.38 L333.46,508.22 L335.11,508.07 L336.76,507.91 L338.43,507.76 L340.10,507.61 L341.78,507.45 L343.46,507.30 L345.15,507.15 L346.85,507.00 L348.56,506.84 L350.28,506.69 L352.00,506.54 L353.73,506.39 L355.47,506.24 L357.21,506.08 L358.96,505.93 L360.72,505.78 L362.49,505.63 L364.26,505.48 L366.05,505.33 L367.84,505.18 L369.63,505.02 L371.44,504.87 L373.25,504.72 L375.07,504.57 L376.89,504.42 L378.73,504.27 L380.57,504.11 L382.42,503.96 L384.28,503.81 L386.14,503.66 L388.01,503.50 L389.89,503.35 L391.78,503.20 L393.67,503.04 L395.58,502.89 L397.48,502.73 L399.40,502.58 L401.33,502.43 L403.26,502.27 L405.20,502.12 L407.15,501.96 L409.10,501.80 L411.06,501.65 L413.03,501.49 L415.01,501.33 L417.00,501.18 L418.99,501.02 L420.99,500.86 L423.00,500.70 L425.01,500.54 L427.04,500.38 L429.07,500.23 L431.11,500.07 L433.15,499.90 L435.21,499.74 L437.27,499.58 L439.34,499.42 L441.41,499.26 L443.50,499.10 L445.59,498.93 L447.69,498.77 L449.80,498.61 L451.91,498.44 L454.04,498.28 L456.17,498.11 L458.30,497.94 L460.45,497.78 L462.60,497.61 L464.77,497.44 L466.93,497.28 L469.11,497.11 L471.30,496.94 L473.49,496.77 L475.69,496.60 L477.90,496.43 L480.11,496.26 L482.33,496.09 L484.56,495.91 L486.80,495.74 L489.05,495.57 L491.30,495.39 L493.57,495.22 L495.84,495.04 L498.11,494.87 L500.40,494.69 L502.69,494.52 L504.99,494.34 L507.30,494.16 L509.62,493.98 L511.94,493.81 L514.27,493.63 L516.61,493.45 L518.96,493.27 L521.32,493.08 L523.68,492.90 L526.05,492.72 L528.43,492.54 L530.82,492.36 L533.21,492.17 L535.61,491.99 L538.02,491.80 L540.44,491.62 L542.87,491.43 L545.30,491.24 L547.74,491.06 L550.19,490.87 L552.65,490.68 L555.11,490.49 L557.59,490.30 L560.07,490.11 L562.56,489.92 L565.05,489.73 L567.56,489.54 L570.07,489.34 L572.59,489.15 L575.12,488.96 L577.66,488.76 L580.20,488.57 L582.75,488.37 L585.31,488.18 L587.88,487.98 L590.46,487.78 L593.04,487.58 L595.63,487.38 L598.23,487.19 L600.84,486.99 L603.46,486.79 L606.08,486.58 L608.71,486.38 L611.35,486.18 L614.00,485.98 L614.00,486.70 L614.00,486.84 L614.00,486.94 L614.00,487.31 L613.99,487.99 L613.98,488.99 L613.97,490.33 L613.95,492.01 L613.93,494.03 L613.91,496.38 L613.89,499.05 L613.86,502.02 L613.82,505.27 L613.78,508.78 L613.74,512.51 L613.70,516.43 L613.65,520.51 L613.59,524.73 L613.54,529.04 L613.47,533.40 L613.41,537.80 L613.34,542.18 L613.26,546.53 L613.18,550.80 L613.10,554.99 L613.01,559.05 L612.92,562.98 L612.82,566.74 L612.71,570.34 L612.61,573.75 L612.50,576.97 L612.38,580.00 L612.26,582.83 L612.13,585.46 L612.00,587.90 L611.87,590.14 L611.73,592.21 L611.58,594.09 L611.43,595.82 L611.27,597.39 L611.11,598.81 L610.95,600.10 L610.78,601.28 L610.60,602.34 L610.42,603.30 L610.24,604.18 L610.05,604.98 L609.85,605.71 L609.65,606.39 L609.44,607.01 L609.23,607.59 L609.02,608.14 L608.79,608.66 L608.57,609.15 L608.33,609.62 L608.10,610.08 L607.85,610.52 L607.60,610.96 L607.35,611.39 L607.09,611.81 L606.83,612.23 L606.56,612.66 L606.28,613.08 L606.00,613.50 L605.71,613.93 L605.42,614.36 L605.12,614.79 L604.82,615.23 L604.51,615.67 L604.20,616.11 L603.88,616.56 L603.55,617.02 L603.22,617.48 L602.88,617.94 L602.54,618.41 L602.19,618.88 L601.84,619.36 L601.48,619.84 L601.11,620.32 L600.74,620.81 L600.36,621.31 L599.98,621.80 L599.59,622.30 L599.20,622.81 L598.80,623.32 L598.39,623.83 L597.98,624.34 L597.56,624.86 L597.14,625.39 L596.71,625.91 L596.28,626.44 L595.83,626.97 L595.39,627.50 L594.93,628.04 L594.48,628.58 L594.01,629.12 L593.54,629.66 L593.06,630.20 L592.58,630.75 L592.09,631.30 L591.60,631.85 L591.10,632.40 L590.59,632.96 L590.08,633.51 L589.56,634.07 L589.03,634.62 L588.50,635.18 L587.96,635.74 L587.42,636.30 L586.87,636.86 L586.31,637.42 L585.75,637.98 L585.18,638.54 L584.61,639.11 L584.03,639.67 L583.44,640.23 L582.85,640.79 L582.25,641.35 L581.65,641.91 L581.03,642.47 L580.42,643.03 L579.79,643.59 L579.16,644.15 L578.53,644.71 L577.88,645.27 L577.23,645.82 L576.58,646.38 L575.92,646.93 L575.25,647.48 L574.57,648.03 L573.89,648.58 L573.21,649.13 L572.51,649.67 L571.81,650.22 L571.11,650.76 L570.39,651.30 L569.68,651.84 L568.95,652.37 L568.22,652.91 L567.48,653.44 L566.73,653.97 L565.98,654.49 L565.23,655.02 L564.46,655.54 L563.69,656.06 L562.91,656.57 L562.13,657.09 L561.34,657.60 L560.54,658.11 L559.74,658.61 L558.93,659.11 L558.11,659.61 L557.29,660.11 L556.46,660.60 L555.62,661.09 L554.78,661.58 L553.93,662.06 L553.08,662.54 L552.21,663.02 L551.34,663.49 L550.47,663.96 L549.59,664.43 L548.70,664.89 L547.80,665.35 L546.90,665.81 L545.99,666.26 L545.07,666.71 L544.15,667.16 L543.22,667.60 L542.29,668.04 L541.35,668.48 L540.40,668.91 L539.44,669.34 L538.48,669.76 L537.51,670.18 L536.53,670.60 L535.55,671.01 L534.56,671.43 L533.56,671.83 L532.56,672.23 L531.55,672.63 L530.53,673.03 L529.51,673.42 L528.48,673.81 L527.44,674.20 L526.40,674.58 L525.35,674.96 L524.29,675.33 L523.23,675.70 L522.15,676.07 L521.08,676.43 L519.99,676.79 L518.90,677.15 L517.80,677.50 L516.69,677.85 L515.58,678.20 L514.46,678.54 L513.34,678.88 L512.20,679.22 L511.06,679.55 L509.91,679.88 L508.76,680.21 L507.60,680.54 L506.43,680.86 L505.26,681.17 L504.07,681.49 L502.88,681.80 L501.69,682.11 L500.49,682.41 L499.28,682.71 L498.06,683.01 L496.84,683.31 L495.60,683.60 L494.37,683.89 L493.12,684.18 L491.87,684.47 L490.61,684.75 L489.34,685.03 L488.07,685.31 L486.79,685.58 L485.50,685.85 L484.21,686.12 L482.91,686.39 L481.60,686.65 L480.28,686.91 L478.96,687.17 L477.63,687.43 L476.29,687.69 L474.95,687.94 L473.60,688.19 L472.24,688.44 L470.87,688.68 L469.50,688.93 L468.12,689.17 L466.74,689.41 L465.34,689.65 L463.94,689.89 L462.53,690.12 L461.12,690.35 L459.69,690.58 L458.26,690.81 L456.83,691.04 L455.38,691.27 L453.93,691.49 L452.47,691.71 L451.01,691.93 L449.53,692.15 L448.05,692.37 L446.56,692.59 L445.07,692.80 L443.57,693.02 L442.06,693.23 L440.54,693.44 L439.02,693.65 L437.49,693.86 L435.95,694.07 L434.40,694.27 L432.85,694.48 L431.29,694.68 L429.72,694.89 L428.15,695.09 L426.56,695.29 L424.97,695.49 L423.38,695.69 L421.77,695.89 L420.16,696.09 L418.54,696.29 L416.91,696.48 L415.28,696.68 L413.64,696.87 L411.99,697.07 L410.34,697.26 L408.67,697.45 L407.00,697.65 L405.32,697.84 L403.64,698.03 L401.95,698.22 L400.25,698.41 L398.54,698.60 L396.82,698.79 L395.10,698.98 L393.37,699.17 L391.63,699.36 L389.89,699.55 L388.14,699.74 L386.38,699.93 L384.61,700.12 L382.84,700.30 L381.05,700.49 L379.26,700.68 L377.47,700.87 L375.66,701.05 L373.85,701.24 L372.03,701.43 L370.21,701.61 L368.37,701.80 L366.53,701.99 L364.68,702.18 L362.82,702.36 L360.96,702.55 L359.09,702.74 L357.21,702.92 L355.32,703.11 L353.43,703.30 L351.52,703.49 L349.62,703.68 L347.70,703.86 L345.77,704.05 L343.84,704.24 L341.90,704.43 L339.95,704.62 L338.00,704.81 L336.04,705.00 L334.07,705.19 L332.09,705.38 L330.10,705.57 L328.11,705.76 L326.11,705.95 L324.10,706.14 L322.09,706.33 L320.06,706.52 L318.03,706.72 L315.99,706.91 L313.95,707.10 L311.89,707.30 L309.83,707.49 L307.76,707.69 L305.69,707.88 L303.60,708.08 L301.51,708.27 L299.41,708.47 L297.30,708.66 L295.19,708.86 L293.06,709.06 L290.93,709.26 L288.80,709.46 L286.65,709.66 L284.50,709.85 L282.33,710.06 L280.17,710.26 L277.99,710.46 L275.80,710.66 L273.61,710.86 L271.41,711.06 L269.20,711.27 L266.99,711.47 L264.77,711.68 L262.54,711.88 L260.30,712.09 L258.05,712.29 L255.80,712.50 L253.53,712.71 L251.26,712.92 L248.99,713.13 L246.70,713.34 L244.41,713.55 L242.11,713.76 L239.80,713.97 L237.48,714.18 L235.16,714.39 L232.83,714.60 L230.49,714.82 L228.14,715.03 L225.78,715.25 L223.42,715.46 L221.05,715.68 L218.67,715.90 L216.28,716.11 L213.89,716.33 L211.49,716.55 L209.08,716.77 L206.66,716.99 L204.23,717.21 L201.80,717.43 L199.36,717.66 L196.91,717.88 L194.45,718.10 L191.99,718.33 L189.51,718.55 L187.03,718.78 L184.54,719.00 L182.05,719.23 L179.54,719.46 L177.03,719.69 L174.51,719.92 L171.98,720.15 L169.44,720.38 L166.90,720.61 L164.35,720.84 L161.79,721.07 L159.22,721.31 L156.64,721.54 L154.06,721.77 L151.47,722.01 L148.87,722.25 L146.26,722.48 L143.64,722.72 L141.02,722.96 L138.39,723.20 L135.75,723.44 L133.10,723.68 Z" fill="none" stroke="#b12a90" stroke-width="2.8" stroke-linejoin="round"/>
<path d="M131.80,706.83 L131.80,706.82 L131.80,706.76 L131.81,706.65 L131.82,706.48 L131.83,706.26 L131.85,705.98 L131.87,705.64 L131.89,705.24 L131.92,704.77 L131.95,704.23 L131.98,703.64 L132.02,702.97 L132.06,702.24 L132.10,701.44 L132.15,700.58 L132.21,699.65 L132.27,698.66 L132.33,697.61 L132.40,696.49 L132.47,695.31 L132.54,694.07 L132.62,692.76 L132.71,691.41 L132.80,689.99 L132.89,688.52 L132.99,687.00 L133.09,685.43 L133.20,683.81 L133.31,682.14 L133.43,680.43 L133.55,678.68 L133.68,676.89 L133.81,675.06 L133.95,673.20 L134.09,671.31 L134.23,669.39 L134.39,667.44 L134.54,665.47 L134.70,663.47 L134.87,661.46 L135.04,659.44 L135.22,657.40 L135.40,655.35 L135.59,653.29 L135.78,651.23 L135.98,649.16 L136.18,647.10 L136.39,645.03 L136.60,642.97 L136.82,640.92 L137.04,638.88 L137.27,636.85 L137.50,634.83 L137.74,632.83 L137.99,630.84 L138.24,628.88 L138.49,626.93 L138.75,625.01 L139.02,623.11 L139.29,621.23 L139.57,619.38 L139.85,617.56 L140.14,615.77 L140.43,614.01 L140.73,612.27 L141.04,610.57 L141.35,608.90 L141.67,607.26 L141.99,605.66 L142.32,604.09 L142.65,602.55 L142.99,601.04 L143.33,599.57 L143.68,598.13 L144.04,596.73 L144.40,595.36 L144.77,594.02 L145.14,592.72 L145.52,591.44 L145.91,590.21 L146.30,589.00 L146.69,587.82 L147.10,586.68 L147.50,585.56 L147.92,584.48 L148.34,583.42 L148.77,582.39 L149.20,581.39 L149.64,580.42 L150.08,579.47 L150.53,578.55 L150.98,577.65 L151.45,576.78 L151.91,575.93 L152.39,575.10 L152.87,574.29 L153.35,573.51 L153.85,572.74 L154.34,571.99 L154.85,571.26 L155.36,570.55 L155.87,569.86 L156.40,569.18 L156.92,568.51 L157.46,567.87 L158.00,567.23 L158.55,566.61 L159.10,566.00 L159.66,565.41 L160.22,564.82 L160.80,564.25 L161.37,563.69 L161.96,563.13 L162.55,562.59 L163.14,562.05 L163.75,561.53 L164.36,561.01 L164.97,560.50 L165.59,560.00 L166.22,559.50 L166.85,559.01 L167.49,558.53 L168.14,558.05 L168.79,557.58 L169.45,557.11 L170.12,556.65 L170.79,556.20 L171.47,555.75 L172.16,555.30 L172.85,554.86 L173.55,554.42 L174.25,553.99 L174.96,553.56 L175.68,553.13 L176.40,552.71 L177.13,552.29 L177.87,551.87 L178.61,551.46 L179.36,551.05 L180.12,550.65 L180.88,550.24 L181.65,549.85 L182.42,549.45 L183.21,549.06 L183.99,548.67 L184.79,548.28 L185.59,547.89 L186.40,547.51 L187.21,547.13 L188.04,546.76 L188.86,546.39 L189.70,546.02 L190.54,545.65 L191.39,545.28 L192.24,544.92 L193.10,544.56 L193.97,544.21 L194.85,543.86 L195.73,543.51 L196.62,543.16 L197.51,542.81 L198.41,542.47 L199.32,542.13 L200.23,541.80 L201.16,541.46 L202.08,541.13 L203.02,540.81 L203.96,540.48 L204.91,540.16 L205.86,539.84 L206.83,539.53 L207.79,539.21 L208.77,538.90 L209.75,538.59 L210.74,538.29 L211.74,537.99 L212.74,537.69 L213.75,537.39 L214.76,537.10 L215.79,536.81 L216.82,536.52 L217.85,536.24 L218.90,535.96 L219.95,535.68 L221.01,535.40 L222.07,535.13 L223.14,534.86 L224.22,534.59 L225.30,534.32 L226.40,534.06 L227.49,533.80 L228.60,533.54 L229.71,533.29 L230.83,533.04 L231.96,532.79 L233.09,532.54 L234.23,532.30 L235.38,532.06 L236.54,531.82 L237.70,531.58 L238.86,531.35 L240.04,531.11 L241.22,530.89 L242.41,530.66 L243.61,530.44 L244.81,530.21 L246.02,529.99 L247.24,529.78 L248.46,529.56 L249.70,529.35 L250.93,529.14 L252.18,528.93 L253.43,528.73 L254.69,528.52 L255.96,528.32 L257.23,528.12 L258.51,527.92 L259.80,527.73 L261.10,527.54 L262.40,527.35 L263.71,527.16 L265.03,526.97 L266.35,526.78 L267.68,526.60 L269.02,526.42 L270.37,526.24 L271.72,526.06 L273.08,525.88 L274.44,525.71 L275.82,525.53 L277.20,525.36 L278.59,525.19 L279.98,525.02 L281.39,524.86 L282.80,524.69 L284.21,524.53 L285.64,524.37 L287.07,524.21 L288.51,524.05 L289.95,523.89 L291.41,523.73 L292.87,523.57 L294.34,523.42 L295.81,523.27 L297.29,523.11 L298.78,522.96 L300.28,522.81 L301.78,522.67 L303.30,522.52 L304.81,522.37 L306.34,522.23 L307.87,522.08 L309.42,521.94 L310.96,521.80 L312.52,521.65 L314.08,521.51 L315.65,521.37 L317.23,521.23 L318.81,521.10 L320.41,520.96 L322.01,520.82 L323.61,520.69 L325.23,520.55 L326.85,520.42 L328.48,520.28 L330.11,520.15 L331.76,520.01 L333.41,519.88 L335.07,519.75 L336.73,519.62 L338.41,519.49 L340.09,519.36 L341.78,519.23 L343.47,519.10 L345.18,518.97 L346.89,518.84 L348.61,518.71 L350.33,518.59 L352.06,518.46 L353.81,518.33 L355.55,518.20 L357.31,518.08 L359.07,517.95 L360.84,517.83 L362.62,517.70 L364.41,517.57 L366.20,517.45 L368.00,517.32 L369.81,517.20 L371.62,517.07 L373.45,516.95 L375.28,516.82 L377.11,516.70 L378.96,516.57 L380.81,516.45 L382.67,516.32 L384.54,516.20 L386.42,516.08 L388.30,515.95 L390.19,515.83 L392.09,515.70 L394.00,515.58 L395.91,515.45 L397.83,515.33 L399.76,515.20 L401.70,515.08 L403.64,514.95 L405.60,514.83 L407.56,514.70 L409.52,514.58 L411.50,514.45 L413.48,514.33 L415.47,514.20 L417.47,514.07 L419.47,513.95 L421.49,513.82 L423.51,513.70 L425.53,513.57 L427.57,513.44 L429.61,513.32 L431.67,513.19 L433.72,513.06 L435.79,512.93 L437.87,512.80 L439.95,512.68 L442.04,512.55 L444.13,512.42 L446.24,512.29 L448.35,512.16 L450.47,512.03 L452.60,511.90 L454.74,511.77 L456.88,511.64 L459.03,511.51 L461.19,511.38 L463.36,511.25 L465.53,511.11 L467.72,510.98 L469.91,510.85 L472.11,510.72 L474.31,510.58 L476.52,510.45 L478.75,510.31 L480.98,510.18 L483.21,510.05 L485.46,509.91 L487.71,509.77 L489.97,509.64 L492.24,509.50 L494.51,509.37 L496.80,509.23 L499.09,509.09 L501.39,508.95 L503.70,508.82 L506.01,508.68 L508.33,508.54 L510.67,508.40 L513.00,508.26 L515.35,508.12 L517.71,507.98 L520.07,507.84 L522.44,507.70 L524.82,507.55 L527.20,507.41 L529.60,507.27 L532.00,507.13 L534.41,506.98 L536.82,506.84 L539.25,506.69 L541.68,506.55 L544.12,506.40 L546.57,506.26 L549.03,506.11 L551.49,505.96 L553.97,505.82 L556.45,505.67 L558.94,505.52 L561.43,505.37 L563.94,505.23 L566.45,505.08 L568.97,504.93 L571.50,504.78 L574.03,504.63 L576.58,504.47 L579.13,504.32 L581.69,504.17 L584.26,504.02 L586.84,503.87 L589.42,503.71 L592.01,503.56 L594.61,503.40 L597.22,503.25 L599.84,503.09 L602.46,502.94 L605.09,502.78 L607.73,502.63 L610.38,502.47 L613.04,502.31 L615.70,502.15 L615.70,502.50 L615.70,502.72 L615.70,502.76 L615.70,502.92 L615.69,503.20 L615.68,503.63 L615.67,504.20 L615.65,504.93 L615.63,505.81 L615.61,506.84 L615.58,508.03 L615.55,509.38 L615.52,510.87 L615.48,512.51 L615.44,514.29 L615.40,516.20 L615.35,518.24 L615.29,520.40 L615.23,522.67 L615.17,525.04 L615.10,527.51 L615.03,530.06 L614.96,532.67 L614.88,535.35 L614.79,538.08 L614.70,540.84 L614.61,543.64 L614.51,546.44 L614.41,549.26 L614.30,552.07 L614.19,554.86 L614.07,557.63 L613.95,560.37 L613.82,563.07 L613.69,565.71 L613.55,568.31 L613.41,570.83 L613.27,573.30 L613.11,575.68 L612.96,577.99 L612.80,580.23 L612.63,582.37 L612.46,584.44 L612.28,586.41 L612.10,588.30 L611.91,590.10 L611.72,591.82 L611.52,593.45 L611.32,595.00 L611.11,596.46 L610.90,597.84 L610.68,599.15 L610.46,600.39 L610.23,601.55 L610.00,602.64 L609.76,603.67 L609.51,604.64 L609.26,605.56 L609.01,606.42 L608.75,607.23 L608.48,607.99 L608.21,608.72 L607.93,609.40 L607.65,610.05 L607.36,610.66 L607.07,611.25 L606.77,611.81 L606.46,612.34 L606.15,612.86 L605.83,613.35 L605.51,613.83 L605.18,614.29 L604.85,614.74 L604.51,615.18 L604.17,615.62 L603.82,616.04 L603.46,616.46 L603.10,616.87 L602.73,617.27 L602.36,617.68 L601.98,618.08 L601.59,618.48 L601.20,618.88 L600.81,619.27 L600.40,619.67 L600.00,620.07 L599.58,620.47 L599.16,620.87 L598.73,621.27 L598.30,621.67 L597.86,622.07 L597.42,622.48 L596.97,622.89 L596.52,623.30 L596.05,623.71 L595.59,624.12 L595.11,624.54 L594.63,624.95 L594.15,625.37 L593.65,625.80 L593.16,626.22 L592.65,626.64 L592.14,627.07 L591.63,627.50 L591.10,627.93 L590.58,628.37 L590.04,628.80 L589.50,629.24 L588.95,629.67 L588.40,630.11 L587.84,630.55 L587.28,630.99 L586.70,631.44 L586.13,631.88 L585.54,632.33 L584.95,632.77 L584.36,633.22 L583.75,633.67 L583.14,634.12 L582.53,634.57 L581.91,635.02 L581.28,635.47 L580.65,635.92 L580.01,636.37 L579.36,636.83 L578.71,637.28 L578.05,637.73 L577.38,638.18 L576.71,638.64 L576.03,639.09 L575.34,639.54 L574.65,640.00 L573.95,640.45 L573.25,640.90 L572.54,641.35 L571.82,641.81 L571.10,642.26 L570.37,642.71 L569.63,643.16 L568.89,643.61 L568.14,644.06 L567.38,644.51 L566.62,644.95 L565.85,645.40 L565.08,645.85 L564.29,646.29 L563.51,646.73 L562.71,647.18 L561.91,647.62 L561.10,648.06 L560.29,648.50 L559.46,648.93 L558.64,649.37 L557.80,649.81 L556.96,650.24 L556.11,650.67 L555.26,651.10 L554.40,651.53 L553.53,651.96 L552.65,652.38 L551.77,652.80 L550.88,653.23 L549.99,653.65 L549.09,654.06 L548.18,654.48 L547.27,654.89 L546.34,655.31 L545.42,655.72 L544.48,656.13 L543.54,656.53 L542.59,656.94 L541.64,657.34 L540.67,657.74 L539.71,658.13 L538.73,658.53 L537.75,658.92 L536.76,659.31 L535.76,659.70 L534.76,660.09 L533.75,660.47 L532.74,660.85 L531.71,661.23 L530.68,661.61 L529.65,661.98 L528.60,662.36 L527.55,662.73 L526.49,663.09 L525.43,663.46 L524.36,663.82 L523.28,664.18 L522.20,664.54 L521.10,664.89 L520.01,665.24 L518.90,665.59 L517.79,665.94 L516.67,666.29 L515.54,666.63 L514.41,666.97 L513.27,667.30 L512.12,667.64 L510.96,667.97 L509.80,668.30 L508.64,668.63 L507.46,668.95 L506.28,669.27 L505.09,669.59 L503.89,669.91 L502.69,670.22 L501.48,670.54 L500.26,670.85 L499.04,671.15 L497.80,671.46 L496.57,671.76 L495.32,672.06 L494.07,672.35 L492.81,672.65 L491.54,672.94 L490.27,673.23 L488.99,673.52 L487.70,673.80 L486.40,674.09 L485.10,674.37 L483.79,674.64 L482.47,674.92 L481.15,675.19 L479.82,675.46 L478.48,675.73 L477.13,676.00 L475.78,676.26 L474.42,676.52 L473.06,676.78 L471.68,677.04 L470.30,677.30 L468.91,677.55 L467.52,677.80 L466.11,678.05 L464.70,678.30 L463.29,678.54 L461.86,678.78 L460.43,679.03 L458.99,679.26 L457.55,679.50 L456.09,679.74 L454.63,679.97 L453.16,680.20 L451.69,680.43 L450.21,680.66 L448.72,680.88 L447.22,681.11 L445.72,681.33 L444.20,681.55 L442.69,681.77 L441.16,681.99 L439.63,682.20 L438.08,682.42 L436.54,682.63 L434.98,682.84 L433.42,683.05 L431.85,683.26 L430.27,683.46 L428.69,683.67 L427.09,683.87 L425.49,684.07 L423.89,684.27 L422.27,684.47 L420.65,684.67 L419.02,684.87 L417.39,685.06 L415.74,685.25 L414.09,685.45 L412.43,685.64 L410.77,685.83 L409.09,686.02 L407.41,686.21 L405.72,686.39 L404.03,686.58 L402.32,686.76 L400.61,686.95 L398.89,687.13 L397.17,687.31 L395.44,687.49 L393.69,687.67 L391.95,687.85 L390.19,688.03 L388.43,688.21 L386.66,688.38 L384.88,688.56 L383.09,688.73 L381.30,688.91 L379.50,689.08 L377.69,689.25 L375.88,689.42 L374.05,689.59 L372.22,689.76 L370.39,689.93 L368.54,690.10 L366.69,690.27 L364.83,690.44 L362.96,690.61 L361.08,690.78 L359.20,690.94 L357.31,691.11 L355.41,691.27 L353.50,691.44 L351.59,691.60 L349.67,691.77 L347.74,691.93 L345.80,692.09 L343.86,692.26 L341.90,692.42 L339.94,692.58 L337.98,692.75 L336.00,692.91 L334.02,693.07 L332.03,693.23 L330.03,693.39 L328.03,693.55 L326.01,693.71 L323.99,693.87 L321.97,694.03 L319.93,694.19 L317.89,694.36 L315.83,694.52 L313.78,694.68 L311.71,694.84 L309.63,694.99 L307.55,695.15 L305.46,695.31 L303.37,695.47 L301.26,695.63 L299.15,695.79 L297.03,695.95 L294.90,696.11 L292.76,696.27 L290.62,696.43 L288.47,696.59 L286.31,696.75 L284.14,696.91 L281.97,697.07 L279.78,697.23 L277.59,697.39 L275.39,697.55 L273.19,697.71 L270.98,697.87 L268.75,698.04 L266.52,698.20 L264.29,698.36 L262.04,698.52 L259.79,698.68 L257.53,698.84 L255.26,699.01 L252.99,699.17 L250.70,699.33 L248.41,699.49 L246.11,699.66 L243.80,699.82 L241.49,699.98 L239.17,700.15 L236.83,700.31 L234.50,700.47 L232.15,700.64 L229.79,700.80 L227.43,700.97 L225.06,701.14 L222.68,701.30 L220.30,701.47 L217.90,701.63 L215.50,701.80 L213.09,701.97 L210.68,702.14 L208.25,702.30 L205.82,702.47 L203.38,702.64 L200.93,702.81 L198.47,702.98 L196.01,703.15 L193.53,703.32 L191.05,703.49 L188.56,703.66 L186.07,703.83 L183.56,704.00 L181.05,704.18 L178.53,704.35 L176.00,704.52 L173.47,704.70 L170.92,704.87 L168.37,705.04 L165.81,705.22 L163.24,705.39 L160.66,705.57 L158.08,705.75 L155.49,705.92 L152.89,706.10 L150.28,706.28 L147.66,706.45 L145.04,706.63 L142.41,706.81 L139.77,706.99 L137.12,707.17 L134.46,707.35 L131.80,707.53 Z" fill="none" stroke="#e16462" stroke-width="2.8" stroke-linejoin="round"/>
<path d="M136.80,694.57 L136.80,694.56 L136.80,694.53 L136.81,694.48 L136.82,694.41 L136.83,694.30 L136.85,694.17 L136.87,694.01 L136.89,693.82 L136.91,693.60 L136.94,693.35 L136.98,693.07 L137.02,692.75 L137.06,692.41 L137.10,692.03 L137.15,691.62 L137.20,691.17 L137.26,690.70 L137.32,690.19 L137.39,689.64 L137.46,689.07 L137.54,688.46 L137.62,687.81 L137.70,687.14 L137.79,686.43 L137.88,685.69 L137.98,684.92 L138.08,684.12 L138.19,683.29 L138.30,682.42 L138.41,681.53 L138.54,680.61 L138.66,679.65 L138.79,678.67 L138.93,677.66 L139.07,676.62 L139.21,675.56 L139.36,674.47 L139.52,673.36 L139.68,672.22 L139.84,671.05 L140.01,669.87 L140.18,668.66 L140.36,667.43 L140.55,666.18 L140.74,664.91 L140.93,663.62 L141.14,662.31 L141.34,660.98 L141.55,659.64 L141.77,658.29 L141.99,656.92 L142.21,655.53 L142.45,654.13 L142.68,652.73 L142.93,651.31 L143.17,649.88 L143.43,648.44 L143.69,647.00 L143.95,645.55 L144.22,644.09 L144.49,642.63 L144.77,641.16 L145.06,639.69 L145.35,638.22 L145.65,636.75 L145.95,635.27 L146.26,633.80 L146.57,632.33 L146.89,630.86 L147.21,629.40 L147.54,627.94 L147.88,626.48 L148.22,625.03 L148.57,623.58 L148.92,622.14 L149.28,620.71 L149.64,619.29 L150.01,617.88 L150.39,616.48 L150.77,615.09 L151.16,613.70 L151.55,612.33 L151.95,610.98 L152.35,609.63 L152.76,608.30 L153.18,606.98 L153.60,605.68 L154.03,604.39 L154.46,603.12 L154.90,601.86 L155.35,600.62 L155.80,599.39 L156.26,598.18 L156.72,596.99 L157.19,595.81 L157.66,594.65 L158.14,593.51 L158.63,592.39 L159.12,591.28 L159.62,590.19 L160.13,589.12 L160.64,588.07 L161.16,587.04 L161.68,586.02 L162.21,585.02 L162.74,584.04 L163.29,583.08 L163.83,582.14 L164.39,581.21 L164.95,580.30 L165.51,579.41 L166.09,578.54 L166.66,577.69 L167.25,576.85 L167.84,576.03 L168.44,575.23 L169.04,574.45 L169.65,573.68 L170.26,572.93 L170.89,572.19 L171.51,571.47 L172.15,570.77 L172.79,570.08 L173.44,569.41 L174.09,568.75 L174.75,568.11 L175.41,567.49 L176.09,566.87 L176.76,566.27 L177.45,565.69 L178.14,565.12 L178.84,564.56 L179.54,564.01 L180.25,563.48 L180.97,562.96 L181.69,562.45 L182.42,561.96 L183.16,561.47 L183.90,561.00 L184.65,560.53 L185.40,560.08 L186.16,559.64 L186.93,559.20 L187.71,558.78 L188.49,558.36 L189.28,557.96 L190.07,557.56 L190.87,557.17 L191.68,556.79 L192.49,556.42 L193.31,556.06 L194.14,555.70 L194.97,555.35 L195.81,555.01 L196.66,554.67 L197.51,554.34 L198.37,554.01 L199.23,553.69 L200.11,553.38 L200.99,553.07 L201.87,552.77 L202.76,552.47 L203.66,552.18 L204.57,551.89 L205.48,551.61 L206.40,551.33 L207.33,551.05 L208.26,550.78 L209.20,550.51 L210.14,550.25 L211.10,549.99 L212.06,549.73 L213.02,549.47 L213.99,549.22 L214.97,548.97 L215.96,548.72 L216.95,548.48 L217.95,548.24 L218.96,548.00 L219.97,547.76 L220.99,547.52 L222.02,547.29 L223.05,547.06 L224.09,546.83 L225.14,546.60 L226.19,546.37 L227.25,546.15 L228.32,545.92 L229.40,545.70 L230.48,545.48 L231.57,545.26 L232.66,545.04 L233.76,544.82 L234.87,544.61 L235.99,544.39 L237.11,544.18 L238.24,543.96 L239.37,543.75 L240.52,543.54 L241.67,543.33 L242.82,543.12 L243.99,542.91 L245.16,542.70 L246.34,542.49 L247.52,542.28 L248.71,542.08 L249.91,541.87 L251.12,541.66 L252.33,541.46 L253.55,541.25 L254.78,541.05 L256.01,540.84 L257.25,540.64 L258.50,540.44 L259.75,540.24 L261.02,540.03 L262.28,539.83 L263.56,539.63 L264.84,539.43 L266.13,539.23 L267.43,539.03 L268.73,538.83 L270.04,538.63 L271.36,538.44 L272.69,538.24 L274.02,538.04 L275.36,537.85 L276.70,537.65 L278.06,537.45 L279.42,537.26 L280.79,537.06 L282.16,536.87 L283.54,536.67 L284.93,536.48 L286.33,536.29 L287.73,536.09 L289.14,535.90 L290.56,535.71 L291.99,535.52 L293.42,535.33 L294.86,535.14 L296.30,534.95 L297.76,534.76 L299.22,534.57 L300.69,534.38 L302.16,534.19 L303.64,534.01 L305.13,533.82 L306.63,533.63 L308.13,533.45 L309.65,533.26 L311.16,533.08 L312.69,532.90 L314.22,532.71 L315.76,532.53 L317.31,532.35 L318.87,532.17 L320.43,531.99 L322.00,531.81 L323.57,531.63 L325.16,531.45 L326.75,531.27 L328.35,531.09 L329.95,530.92 L331.57,530.74 L333.19,530.56 L334.82,530.39 L336.45,530.22 L338.09,530.04 L339.74,529.87 L341.40,529.70 L343.07,529.52 L344.74,529.35 L346.42,529.18 L348.10,529.01 L349.80,528.85 L351.50,528.68 L353.21,528.51 L354.93,528.34 L356.65,528.18 L358.38,528.01 L360.12,527.85 L361.86,527.69 L363.62,527.52 L365.38,527.36 L367.15,527.20 L368.92,527.04 L370.71,526.88 L372.50,526.72 L374.29,526.56 L376.10,526.40 L377.91,526.25 L379.73,526.09 L381.56,525.94 L383.40,525.78 L385.24,525.63 L387.09,525.48 L388.95,525.32 L390.81,525.17 L392.68,525.02 L394.56,524.87 L396.45,524.73 L398.35,524.58 L400.25,524.43 L402.16,524.28 L404.08,524.14 L406.00,523.99 L407.94,523.85 L409.88,523.71 L411.82,523.57 L413.78,523.42 L415.74,523.28 L417.71,523.14 L419.69,523.00 L421.68,522.87 L423.67,522.73 L425.67,522.59 L427.68,522.46 L429.70,522.32 L431.72,522.19 L433.75,522.06 L435.79,521.92 L437.84,521.79 L439.89,521.66 L441.95,521.53 L444.02,521.40 L446.10,521.27 L448.19,521.15 L450.28,521.02 L452.38,520.89 L454.49,520.77 L456.60,520.65 L458.72,520.52 L460.85,520.40 L462.99,520.28 L465.14,520.16 L467.29,520.04 L469.45,519.92 L471.62,519.80 L473.80,519.68 L475.98,519.56 L478.18,519.45 L480.38,519.33 L482.58,519.22 L484.80,519.11 L487.02,518.99 L489.25,518.88 L491.49,518.77 L493.74,518.66 L495.99,518.55 L498.25,518.44 L500.52,518.33 L502.80,518.23 L505.08,518.12 L507.38,518.01 L509.68,517.91 L511.99,517.80 L514.30,517.70 L516.63,517.60 L518.96,517.50 L521.30,517.39 L523.64,517.29 L526.00,517.19 L528.36,517.10 L530.73,517.00 L533.11,516.90 L535.50,516.80 L537.89,516.71 L540.29,516.61 L542.70,516.52 L545.12,516.42 L547.54,516.33 L549.98,516.24 L552.42,516.15 L554.87,516.06 L557.32,515.96 L559.79,515.88 L562.26,515.79 L564.74,515.70 L567.23,515.61 L569.72,515.52 L572.23,515.44 L574.74,515.35 L577.26,515.27 L579.79,515.18 L582.32,515.10 L584.86,515.02 L587.42,514.93 L589.97,514.85 L592.54,514.77 L595.12,514.69 L597.70,514.61 L600.29,514.53 L602.89,514.46 L605.49,514.38 L608.11,514.30 L610.73,514.22 L613.36,514.15 L616.00,514.07 L616.00,514.00 L616.00,514.56 L616.00,514.56 L616.00,514.59 L615.99,514.65 L615.98,514.73 L615.97,514.84 L615.95,514.98 L615.93,515.15 L615.91,515.35 L615.89,515.59 L615.86,515.85 L615.82,516.15 L615.78,516.49 L615.74,516.86 L615.70,517.26 L615.65,517.70 L615.60,518.17 L615.54,518.67 L615.48,519.21 L615.41,519.79 L615.34,520.39 L615.26,521.04 L615.18,521.71 L615.10,522.42 L615.01,523.16 L614.92,523.94 L614.82,524.74 L614.72,525.58 L614.61,526.45 L614.50,527.35 L614.39,528.28 L614.26,529.23 L614.14,530.22 L614.01,531.23 L613.87,532.27 L613.73,533.33 L613.59,534.42 L613.44,535.53 L613.28,536.67 L613.12,537.83 L612.96,539.01 L612.79,540.21 L612.62,541.42 L612.44,542.66 L612.25,543.91 L612.06,545.18 L611.87,546.46 L611.66,547.76 L611.46,549.07 L611.25,550.39 L611.03,551.72 L610.81,553.06 L610.59,554.41 L610.35,555.77 L610.12,557.13 L609.87,558.50 L609.63,559.87 L609.37,561.25 L609.11,562.63 L608.85,564.01 L608.58,565.39 L608.31,566.76 L608.03,568.14 L607.74,569.51 L607.45,570.88 L607.15,572.25 L606.85,573.61 L606.54,574.97 L606.23,576.31 L605.91,577.65 L605.59,578.99 L605.26,580.31 L604.92,581.62 L604.58,582.93 L604.23,584.22 L603.88,585.50 L603.52,586.77 L603.16,588.03 L602.79,589.27 L602.41,590.50 L602.03,591.72 L601.64,592.92 L601.25,594.11 L600.85,595.28 L600.45,596.44 L600.04,597.58 L599.62,598.71 L599.20,599.82 L598.77,600.91 L598.34,601.99 L597.90,603.06 L597.45,604.10 L597.00,605.14 L596.54,606.15 L596.08,607.15 L595.61,608.13 L595.14,609.10 L594.66,610.05 L594.17,610.98 L593.68,611.90 L593.18,612.80 L592.67,613.69 L592.16,614.56 L591.64,615.42 L591.12,616.26 L590.59,617.08 L590.06,617.90 L589.51,618.69 L588.97,619.48 L588.41,620.24 L587.85,621.00 L587.29,621.74 L586.71,622.47 L586.14,623.19 L585.55,623.89 L584.96,624.58 L584.36,625.26 L583.76,625.93 L583.15,626.58 L582.54,627.23 L581.91,627.86 L581.29,628.48 L580.65,629.09 L580.01,629.70 L579.36,630.29 L578.71,630.87 L578.05,631.45 L577.39,632.01 L576.71,632.57 L576.04,633.11 L575.35,633.65 L574.66,634.19 L573.96,634.71 L573.26,635.23 L572.55,635.74 L571.83,636.24 L571.11,636.74 L570.38,637.23 L569.64,637.71 L568.90,638.19 L568.15,638.66 L567.40,639.12 L566.64,639.59 L565.87,640.04 L565.09,640.49 L564.31,640.94 L563.52,641.38 L562.73,641.81 L561.93,642.24 L561.12,642.67 L560.31,643.09 L559.49,643.51 L558.66,643.92 L557.83,644.33 L556.99,644.74 L556.14,645.14 L555.29,645.54 L554.43,645.94 L553.57,646.33 L552.69,646.72 L551.81,647.11 L550.93,647.49 L550.04,647.87 L549.14,648.25 L548.23,648.62 L547.32,648.99 L546.40,649.36 L545.47,649.72 L544.54,650.09 L543.60,650.45 L542.66,650.80 L541.70,651.16 L540.74,651.51 L539.78,651.86 L538.81,652.21 L537.83,652.55 L536.84,652.89 L535.85,653.23 L534.85,653.57 L533.84,653.90 L532.83,654.24 L531.81,654.57 L530.78,654.89 L529.75,655.22 L528.71,655.54 L527.66,655.86 L526.61,656.18 L525.55,656.50 L524.48,656.81 L523.40,657.12 L522.32,657.43 L521.23,657.74 L520.14,658.04 L519.04,658.34 L517.93,658.64 L516.81,658.94 L515.69,659.24 L514.56,659.53 L513.43,659.82 L512.28,660.11 L511.13,660.40 L509.98,660.68 L508.81,660.97 L507.64,661.25 L506.46,661.53 L505.28,661.80 L504.09,662.08 L502.89,662.35 L501.68,662.62 L500.47,662.89 L499.25,663.15 L498.02,663.42 L496.79,663.68 L495.55,663.94 L494.30,664.20 L493.05,664.45 L491.78,664.71 L490.52,664.96 L489.24,665.21 L487.96,665.45 L486.67,665.70 L485.37,665.94 L484.07,666.19 L482.76,666.43 L481.44,666.66 L480.11,666.90 L478.78,667.13 L477.44,667.37 L476.10,667.60 L474.74,667.83 L473.38,668.05 L472.01,668.28 L470.64,668.50 L469.26,668.72 L467.87,668.94 L466.47,669.16 L465.07,669.38 L463.66,669.60 L462.24,669.81 L460.81,670.02 L459.38,670.23 L457.94,670.44 L456.50,670.65 L455.04,670.85 L453.58,671.06 L452.11,671.26 L450.64,671.46 L449.16,671.66 L447.67,671.86 L446.17,672.05 L444.67,672.25 L443.15,672.44 L441.64,672.64 L440.11,672.83 L438.58,673.02 L437.04,673.20 L435.49,673.39 L433.93,673.58 L432.37,673.76 L430.80,673.95 L429.23,674.13 L427.64,674.31 L426.05,674.49 L424.45,674.67 L422.85,674.85 L421.23,675.02 L419.61,675.20 L417.98,675.38 L416.35,675.55 L414.71,675.72 L413.06,675.89 L411.40,676.06 L409.73,676.23 L408.06,676.40 L406.38,676.57 L404.70,676.74 L403.00,676.91 L401.30,677.07 L399.59,677.24 L397.87,677.40 L396.15,677.56 L394.42,677.73 L392.68,677.89 L390.94,678.05 L389.18,678.21 L387.42,678.37 L385.65,678.53 L383.88,678.69 L382.09,678.85 L380.30,679.00 L378.51,679.16 L376.70,679.32 L374.89,679.47 L373.07,679.63 L371.24,679.78 L369.40,679.94 L367.56,680.09 L365.71,680.25 L363.85,680.40 L361.99,680.55 L360.12,680.70 L358.24,680.86 L356.35,681.01 L354.45,681.16 L352.55,681.31 L350.64,681.46 L348.72,681.61 L346.80,681.76 L344.86,681.91 L342.92,682.06 L340.98,682.21 L339.02,682.36 L337.06,682.51 L335.09,682.66 L333.11,682.81 L331.12,682.96 L329.13,683.11 L327.13,683.25 L325.12,683.40 L323.10,683.55 L321.08,683.70 L319.05,683.85 L317.01,684.00 L314.96,684.14 L312.91,684.29 L310.85,684.44 L308.78,684.59 L306.70,684.74 L304.61,684.88 L302.52,685.03 L300.42,685.18 L298.31,685.33 L296.20,685.48 L294.08,685.63 L291.95,685.77 L289.81,685.92 L287.66,686.07 L285.51,686.22 L283.35,686.37 L281.18,686.52 L279.00,686.67 L276.82,686.82 L274.62,686.97 L272.42,687.12 L270.22,687.27 L268.00,687.42 L265.78,687.57 L263.55,687.72 L261.31,687.87 L259.06,688.02 L256.81,688.17 L254.55,688.32 L252.28,688.47 L250.00,688.62 L247.72,688.78 L245.42,688.93 L243.12,689.08 L240.81,689.24 L238.50,689.39 L236.17,689.54 L233.84,689.70 L231.50,689.85 L229.16,690.00 L226.80,690.16 L224.44,690.31 L222.07,690.47 L219.69,690.63 L217.30,690.78 L214.91,690.94 L212.51,691.09 L210.10,691.25 L207.68,691.41 L205.26,691.57 L202.82,691.73 L200.38,691.88 L197.93,692.04 L195.48,692.20 L193.01,692.36 L190.54,692.52 L188.06,692.68 L185.57,692.84 L183.08,693.00 L180.57,693.17 L178.06,693.33 L175.54,693.49 L173.01,693.65 L170.48,693.82 L167.94,693.98 L165.38,694.14 L162.83,694.31 L160.26,694.47 L157.68,694.64 L155.10,694.80 L152.51,694.97 L149.91,695.14 L147.31,695.30 L144.69,695.47 L142.07,695.64 L139.44,695.81 L136.80,695.98 Z" fill="none" stroke="#fca636" stroke-width="2.8" stroke-linejoin="round"/>
<rect x="528.6" y="602.5" width="103.79999999999995" height="168.0" rx="4" fill="#fff" fill-opacity="0.8" stroke="#d6d6d6" stroke-width="1.1"/>
<text x="543" y="627.5" font-size="21.5" textLength="75" lengthAdjust="spacingAndGlyphs" fill="#1a1a1a" class="t">ν (V/s)</text>
<circle cx="553.5" cy="649.4" r="4.6" fill="#0d0887"/>
<text x="586" y="656.4" font-size="21.3" textLength="36.3" lengthAdjust="spacingAndGlyphs" fill="#1a1a1a" class="t">0.05</text>
<circle cx="553.5" cy="675.8" r="4.6" fill="#6a00a8"/>
<text x="586" y="682.8" font-size="21.3" textLength="27.5" lengthAdjust="spacingAndGlyphs" fill="#1a1a1a" class="t">0.1</text>
<circle cx="553.5" cy="702.2" r="4.6" fill="#b12a90"/>
<text x="586" y="709.2" font-size="21.3" textLength="27.5" lengthAdjust="spacingAndGlyphs" fill="#1a1a1a" class="t">0.2</text>
<circle cx="553.5" cy="728.7" r="4.6" fill="#e16462"/>
<text x="586" y="735.7" font-size="21.3" textLength="27.5" lengthAdjust="spacingAndGlyphs" fill="#1a1a1a" class="t">0.5</text>
<circle cx="553.5" cy="755.0" r="4.6" fill="#fca636"/>
<text x="586" y="762.0" font-size="21.3" textLength="9.5" lengthAdjust="spacingAndGlyphs" fill="#1a1a1a" class="t">1</text>
<line x1="107.2" y1="431.8" x2="107.2" y2="779.2" stroke="#7c7c7c" stroke-width="1.8"/>
<line x1="640.8" y1="431.8" x2="640.8" y2="779.2" stroke="#7c7c7c" stroke-width="1.8"/>
<line x1="106.5" y1="432.5" x2="641.5" y2="432.5" stroke="#404040" stroke-width="1.5"/>
<line x1="106.5" y1="778.5" x2="641.5" y2="778.5" stroke="#404040" stroke-width="1.5"/>
<line x1="186.30" y1="778.5" x2="186.30" y2="784.5" stroke="#262626" stroke-width="1.3"/>
<text x="186.30" y="804.0" font-size="21.3" text-anchor="middle" textLength="45" lengthAdjust="spacingAndGlyphs" fill="#1a1a1a" class="t">0.48</text>
<line x1="283.80" y1="778.5" x2="283.80" y2="784.5" stroke="#262626" stroke-width="1.3"/>
<text x="283.80" y="804.0" font-size="21.3" text-anchor="middle" textLength="45" lengthAdjust="spacingAndGlyphs" fill="#1a1a1a" class="t">0.49</text>
<line x1="381.30" y1="778.5" x2="381.30" y2="784.5" stroke="#262626" stroke-width="1.3"/>
<text x="381.30" y="804.0" font-size="21.3" text-anchor="middle" textLength="45" lengthAdjust="spacingAndGlyphs" fill="#1a1a1a" class="t">0.50</text>
<line x1="478.80" y1="778.5" x2="478.80" y2="784.5" stroke="#262626" stroke-width="1.3"/>
<text x="478.80" y="804.0" font-size="21.3" text-anchor="middle" textLength="45" lengthAdjust="spacingAndGlyphs" fill="#1a1a1a" class="t">0.51</text>
<line x1="576.30" y1="778.5" x2="576.30" y2="784.5" stroke="#262626" stroke-width="1.3"/>
<text x="576.30" y="804.0" font-size="21.3" text-anchor="middle" textLength="45" lengthAdjust="spacingAndGlyphs" fill="#1a1a1a" class="t">0.52</text>
<line x1="102.2" y1="433.50" x2="107.2" y2="433.50" stroke="#262626" stroke-width="1.3"/>
<text x="97.5" y="441.70" font-size="21.3" text-anchor="end" textLength="44" lengthAdjust="spacingAndGlyphs" fill="#1a1a1a" class="t">0.10</text>
<line x1="102.2" y1="518.85" x2="107.2" y2="518.85" stroke="#262626" stroke-width="1.3"/>
<text x="97.5" y="527.05" font-size="21.3" text-anchor="end" textLength="44" lengthAdjust="spacingAndGlyphs" fill="#1a1a1a" class="t">0.05</text>
<line x1="102.2" y1="604.20" x2="107.2" y2="604.20" stroke="#262626" stroke-width="1.3"/>
<text x="97.5" y="612.40" font-size="21.3" text-anchor="end" textLength="44" lengthAdjust="spacingAndGlyphs" fill="#1a1a1a" class="t">0.00</text>
<line x1="102.2" y1="689.55" x2="107.2" y2="689.55" stroke="#262626" stroke-width="1.3"/>
<text x="97.5" y="697.75" font-size="21.3" text-anchor="end" textLength="60" lengthAdjust="spacingAndGlyphs" fill="#1a1a1a" class="t">−0.05</text>
<line x1="102.2" y1="774.90" x2="107.2" y2="774.90" stroke="#262626" stroke-width="1.3"/>
<text x="97.5" y="783.10" font-size="21.3" text-anchor="end" textLength="60" lengthAdjust="spacingAndGlyphs" fill="#1a1a1a" class="t">−0.10</text>
<text x="302.6" y="830.4" font-size="22.6" textLength="141.5" lengthAdjust="spacingAndGlyphs" fill="#1a1a1a" class="t">E (V vs RHE)</text>
<text transform="translate(24.7,651.2) rotate(-90)" x="0" y="0" font-size="22.6" textLength="86.3" lengthAdjust="spacingAndGlyphs" fill="#1a1a1a" class="t">I/ν (mF)</text>
<rect x="119.8" y="435.9" width="65.7" height="31.700000000000045" rx="4" fill="#f9eedb" stroke="#7d7566" stroke-width="1.3"/>
<text x="127" y="457.5" font-size="21.3" textLength="53" lengthAdjust="spacingAndGlyphs" fill="#1a1a1a" class="t">0.5 V</text>
<text x="3.8" y="457.0" font-size="37.5" font-weight="bold" fill="#000" stroke="#000" stroke-width="0.9" textLength="22" lengthAdjust="spacingAndGlyphs">B</text>
<text x="28" y="456.0" font-size="41" font-weight="bold" fill="#000" stroke="#000" stroke-width="0.6" textLength="11" lengthAdjust="spacingAndGlyphs">)</text>
</svg></div></body></html>
